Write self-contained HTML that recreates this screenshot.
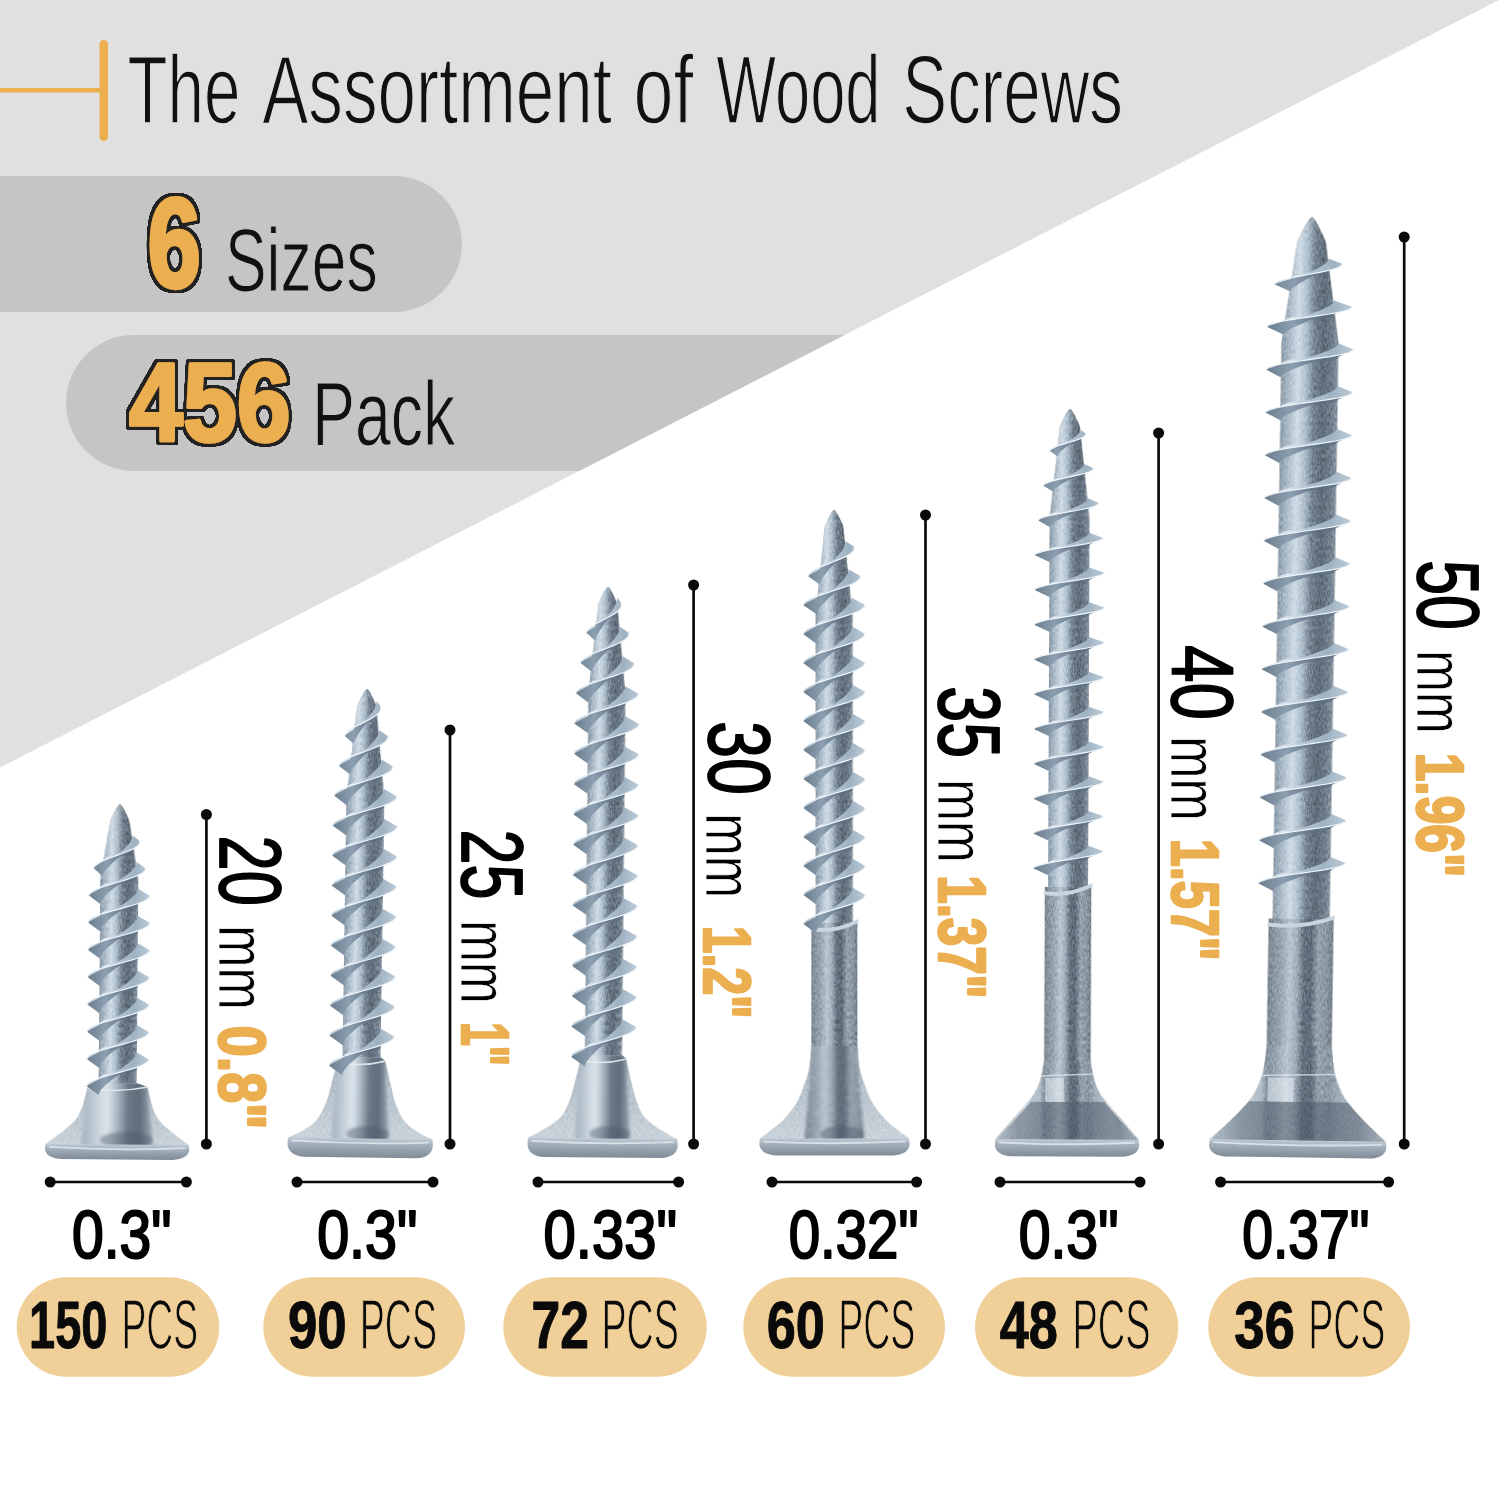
<!DOCTYPE html>
<html lang="en"><head><meta charset="utf-8"><title>The Assortment of Wood Screws</title>
<style>html,body{margin:0;padding:0;background:#fff}svg{display:block}</style></head>
<body>
<svg width="1500" height="1500" viewBox="0 0 1500 1500">
<defs>
<clipPath id="tri"><polygon points="0,0 1499,0 0,767.5"/></clipPath>
<filter id="ol1" x="-15%" y="-15%" width="130%" height="130%"><feMorphology in="SourceAlpha" operator="dilate" radius="3.73 2.8" result="d"/><feGaussianBlur in="d" stdDeviation="0.67 0.5" result="db"/><feComponentTransfer in="db" result="dc"><feFuncA type="linear" slope="6" intercept="-2.2"/></feComponentTransfer><feFlood flood-color="#222"/><feComposite in2="dc" operator="in" result="o"/><feMerge><feMergeNode in="o"/><feMergeNode in="SourceGraphic"/></feMerge></filter>
<filter id="ol2" x="-15%" y="-15%" width="130%" height="130%"><feMorphology in="SourceAlpha" operator="dilate" radius="3.23 2.8" result="d"/><feGaussianBlur in="d" stdDeviation="0.58 0.5" result="db"/><feComponentTransfer in="db" result="dc"><feFuncA type="linear" slope="6" intercept="-2.2"/></feComponentTransfer><feFlood flood-color="#222"/><feComposite in2="dc" operator="in" result="o"/><feMerge><feMergeNode in="o"/><feMergeNode in="SourceGraphic"/></feMerge></filter>
<filter id="soft" x="-20%" y="-20%" width="140%" height="140%"><feGaussianBlur stdDeviation="1.6"/></filter>
<filter id="grain" x="0" y="0" width="100%" height="100%" color-interpolation-filters="sRGB"><feTurbulence type="fractalNoise" baseFrequency="0.7 0.25" numOctaves="3" seed="7" result="n"/><feColorMatrix in="n" type="matrix" values="0.42 0 0 0 0.29  0.42 0 0 0 0.29  0.42 0 0 0 0.29  0 0 0 0 1" result="m"/><feBlend in="m" in2="SourceGraphic" mode="overlay" result="b"/><feComposite in="b" in2="SourceGraphic" operator="in"/></filter>
<linearGradient id="g1" x1="-19" y1="0" x2="19" y2="0" gradientUnits="userSpaceOnUse"><stop offset="0" stop-color="#8a9aa8"/><stop offset="0.1" stop-color="#a2b3c1"/><stop offset="0.3" stop-color="#d0dce6"/><stop offset="0.44" stop-color="#aebfcc"/><stop offset="0.58" stop-color="#74828f"/><stop offset="0.74" stop-color="#5f6c79"/><stop offset="0.9" stop-color="#707e8b"/><stop offset="1" stop-color="#8a98a5"/></linearGradient>
<clipPath id="c2"><polygon points="-19,-77 -25.05,-75 -28.68,-73.2 -30,-72 -30.33,-70.67 -30.78,-68.81 -31.31,-66.62 -31.89,-64.3 -32.47,-62.02 -33,-60 -33.47,-58.22 -33.91,-56.52 -34.34,-54.88 -34.81,-53.26 -35.36,-51.64 -36,-50 -36.71,-48.33 -37.46,-46.67 -38.28,-45 -39.2,-43.33 -40.27,-41.67 -41.5,-40 -42.93,-38.33 -44.54,-36.67 -46.28,-35 -48.13,-33.33 -50.05,-31.67 -52,-30 -54.09,-28.28 -56.37,-26.48 -58.72,-24.69 -61.02,-22.96 -63.15,-21.38 -65,-20 -66.59,-18.82 -68.04,-17.78 -69.31,-16.88 -70.41,-16.11 -71.31,-15.49 -72,-15 72,-15 71.31,-15.49 70.41,-16.11 69.31,-16.88 68.04,-17.78 66.59,-18.82 65,-20 63.15,-21.38 61.02,-22.96 58.72,-24.69 56.37,-26.48 54.09,-28.28 52,-30 50.05,-31.67 48.13,-33.33 46.28,-35 44.54,-36.67 42.93,-38.33 41.5,-40 40.27,-41.67 39.2,-43.33 38.28,-45 37.46,-46.67 36.71,-48.33 36,-50 35.36,-51.64 34.81,-53.26 34.34,-54.88 33.91,-56.52 33.47,-58.22 33,-60 32.47,-62.02 31.89,-64.3 31.31,-66.62 30.78,-68.81 30.33,-70.67 30,-72 28.68,-73.2 25.05,-75 19,-77"/></clipPath>
<linearGradient id="g3" x1="0" y1="0" x2="0" y2="1" gradientUnits="objectBoundingBox"><stop offset="0" stop-color="#a9b6c1"/><stop offset="0.6" stop-color="#bcc7d0"/><stop offset="1" stop-color="#cad3db"/></linearGradient>
<linearGradient id="g4" x1="-36.6" y1="0" x2="36.6" y2="0" gradientUnits="userSpaceOnUse"><stop offset="0" stop-color="#a2afbb"/><stop offset="0.14" stop-color="#b9c5cf"/><stop offset="0.36" stop-color="#dce5ec"/><stop offset="0.5" stop-color="#a9b7c3"/><stop offset="0.64" stop-color="#6a7886"/><stop offset="0.8" stop-color="#5f6d7b"/><stop offset="0.92" stop-color="#8795a2"/><stop offset="1" stop-color="#a3b0bc"/></linearGradient>
<linearGradient id="g5" x1="0" y1="0" x2="0" y2="1" gradientUnits="objectBoundingBox"><stop offset="0" stop-color="#bfcad3"/><stop offset="0.3" stop-color="#a4b1bd"/><stop offset="1" stop-color="#7f8c98"/></linearGradient>
<linearGradient id="g6" x1="-31" y1="0" x2="31" y2="0" gradientUnits="userSpaceOnUse"><stop offset="0" stop-color="#a6b9c8"/><stop offset="0.28" stop-color="#d9e5ee"/><stop offset="0.5" stop-color="#b2c4d2"/><stop offset="0.75" stop-color="#9fb2c2"/><stop offset="1" stop-color="#bccbd8"/></linearGradient>
<linearGradient id="g7" x1="-31" y1="0" x2="31" y2="0" gradientUnits="userSpaceOnUse"><stop offset="0" stop-color="#6b7d8d"/><stop offset="0.3" stop-color="#8c9fb0"/><stop offset="0.65" stop-color="#5b6c7d"/><stop offset="1" stop-color="#748696"/></linearGradient>
<linearGradient id="g8" x1="-19" y1="0" x2="19" y2="0" gradientUnits="userSpaceOnUse"><stop offset="0" stop-color="#8a9aa8"/><stop offset="0.1" stop-color="#a2b3c1"/><stop offset="0.3" stop-color="#d0dce6"/><stop offset="0.44" stop-color="#aebfcc"/><stop offset="0.58" stop-color="#74828f"/><stop offset="0.74" stop-color="#5f6c79"/><stop offset="0.9" stop-color="#707e8b"/><stop offset="1" stop-color="#8a98a5"/></linearGradient>
<clipPath id="c9"><polygon points="-19,-101 -21.75,-99 -23.4,-97.2 -24,-96 -24.48,-94.06 -25.15,-91.41 -25.94,-88.25 -26.8,-84.81 -27.67,-81.32 -28.5,-78 -29.29,-74.72 -30.07,-71.3 -30.88,-67.81 -31.7,-64.37 -32.57,-61.07 -33.5,-58 -34.48,-55.15 -35.5,-52.44 -36.56,-49.88 -37.67,-47.44 -38.81,-45.15 -40,-43 -41.2,-41.02 -42.41,-39.22 -43.66,-37.56 -44.98,-36 -46.42,-34.49 -48,-33 -49.76,-31.53 -51.69,-30.11 -53.72,-28.75 -55.81,-27.44 -57.92,-26.19 -60,-25 -62.2,-23.81 -64.59,-22.63 -67,-21.5 -69.24,-20.48 -71.13,-19.63 -72.5,-19 72.5,-19 71.13,-19.63 69.24,-20.48 67,-21.5 64.59,-22.63 62.2,-23.81 60,-25 57.92,-26.19 55.81,-27.44 53.72,-28.75 51.69,-30.11 49.76,-31.53 48,-33 46.42,-34.49 44.98,-36 43.66,-37.56 42.41,-39.22 41.2,-41.02 40,-43 38.81,-45.15 37.67,-47.44 36.56,-49.88 35.5,-52.44 34.48,-55.15 33.5,-58 32.57,-61.07 31.7,-64.37 30.88,-67.81 30.07,-71.3 29.29,-74.72 28.5,-78 27.67,-81.32 26.8,-84.81 25.94,-88.25 25.15,-91.41 24.48,-94.06 24,-96 23.4,-97.2 21.75,-99 19,-101"/></clipPath>
<linearGradient id="g10" x1="0" y1="0" x2="0" y2="1" gradientUnits="objectBoundingBox"><stop offset="0" stop-color="#a9b6c1"/><stop offset="0.6" stop-color="#bcc7d0"/><stop offset="1" stop-color="#cad3db"/></linearGradient>
<linearGradient id="g11" x1="-29.28" y1="0" x2="29.28" y2="0" gradientUnits="userSpaceOnUse"><stop offset="0" stop-color="#a2afbb"/><stop offset="0.14" stop-color="#b9c5cf"/><stop offset="0.36" stop-color="#dce5ec"/><stop offset="0.5" stop-color="#a9b7c3"/><stop offset="0.64" stop-color="#6a7886"/><stop offset="0.8" stop-color="#5f6d7b"/><stop offset="0.92" stop-color="#8795a2"/><stop offset="1" stop-color="#a3b0bc"/></linearGradient>
<linearGradient id="g12" x1="0" y1="0" x2="0" y2="1" gradientUnits="objectBoundingBox"><stop offset="0" stop-color="#bfcad3"/><stop offset="0.3" stop-color="#a4b1bd"/><stop offset="1" stop-color="#7f8c98"/></linearGradient>
<linearGradient id="g13" x1="-32.5" y1="0" x2="32.5" y2="0" gradientUnits="userSpaceOnUse"><stop offset="0" stop-color="#a6b9c8"/><stop offset="0.28" stop-color="#d9e5ee"/><stop offset="0.5" stop-color="#b2c4d2"/><stop offset="0.75" stop-color="#9fb2c2"/><stop offset="1" stop-color="#bccbd8"/></linearGradient>
<linearGradient id="g14" x1="-32.5" y1="0" x2="32.5" y2="0" gradientUnits="userSpaceOnUse"><stop offset="0" stop-color="#6b7d8d"/><stop offset="0.3" stop-color="#8c9fb0"/><stop offset="0.65" stop-color="#5b6c7d"/><stop offset="1" stop-color="#748696"/></linearGradient>
<linearGradient id="g15" x1="-18.5" y1="0" x2="18.5" y2="0" gradientUnits="userSpaceOnUse"><stop offset="0" stop-color="#8a9aa8"/><stop offset="0.1" stop-color="#a2b3c1"/><stop offset="0.3" stop-color="#d0dce6"/><stop offset="0.44" stop-color="#aebfcc"/><stop offset="0.58" stop-color="#74828f"/><stop offset="0.74" stop-color="#5f6c79"/><stop offset="0.9" stop-color="#707e8b"/><stop offset="1" stop-color="#8a98a5"/></linearGradient>
<clipPath id="c16"><polygon points="-18.5,-103 -20.98,-101 -22.46,-99.2 -23,-98 -23.48,-95.82 -24.13,-92.81 -24.91,-89.25 -25.76,-85.41 -26.64,-81.56 -27.5,-78 -28.34,-74.61 -29.2,-71.15 -30.09,-67.69 -31.02,-64.3 -31.98,-61.04 -33,-58 -34.03,-55.15 -35.07,-52.44 -36.16,-49.88 -37.31,-47.44 -38.58,-45.15 -40,-43 -41.58,-41.02 -43.3,-39.22 -45.12,-37.56 -47.04,-36 -49,-34.49 -51,-33 -53.07,-31.53 -55.26,-30.11 -57.5,-28.75 -59.74,-27.44 -61.93,-26.19 -64,-25 -66.08,-23.81 -68.22,-22.63 -70.31,-21.5 -72.22,-20.48 -73.83,-19.63 -75,-19 75,-19 73.83,-19.63 72.22,-20.48 70.31,-21.5 68.22,-22.63 66.08,-23.81 64,-25 61.93,-26.19 59.74,-27.44 57.5,-28.75 55.26,-30.11 53.07,-31.53 51,-33 49,-34.49 47.04,-36 45.12,-37.56 43.3,-39.22 41.58,-41.02 40,-43 38.58,-45.15 37.31,-47.44 36.16,-49.88 35.07,-52.44 34.03,-55.15 33,-58 31.98,-61.04 31.02,-64.3 30.09,-67.69 29.2,-71.15 28.34,-74.61 27.5,-78 26.64,-81.56 25.76,-85.41 24.91,-89.25 24.13,-92.81 23.48,-95.82 23,-98 22.46,-99.2 20.98,-101 18.5,-103"/></clipPath>
<linearGradient id="g17" x1="0" y1="0" x2="0" y2="1" gradientUnits="objectBoundingBox"><stop offset="0" stop-color="#a9b6c1"/><stop offset="0.6" stop-color="#bcc7d0"/><stop offset="1" stop-color="#cad3db"/></linearGradient>
<linearGradient id="g18" x1="-28.06" y1="0" x2="28.06" y2="0" gradientUnits="userSpaceOnUse"><stop offset="0" stop-color="#a2afbb"/><stop offset="0.14" stop-color="#b9c5cf"/><stop offset="0.36" stop-color="#dce5ec"/><stop offset="0.5" stop-color="#a9b7c3"/><stop offset="0.64" stop-color="#6a7886"/><stop offset="0.8" stop-color="#5f6d7b"/><stop offset="0.92" stop-color="#8795a2"/><stop offset="1" stop-color="#a3b0bc"/></linearGradient>
<linearGradient id="g19" x1="0" y1="0" x2="0" y2="1" gradientUnits="objectBoundingBox"><stop offset="0" stop-color="#bfcad3"/><stop offset="0.3" stop-color="#a4b1bd"/><stop offset="1" stop-color="#7f8c98"/></linearGradient>
<linearGradient id="g20" x1="-32.5" y1="0" x2="32.5" y2="0" gradientUnits="userSpaceOnUse"><stop offset="0" stop-color="#a6b9c8"/><stop offset="0.28" stop-color="#d9e5ee"/><stop offset="0.5" stop-color="#b2c4d2"/><stop offset="0.75" stop-color="#9fb2c2"/><stop offset="1" stop-color="#bccbd8"/></linearGradient>
<linearGradient id="g21" x1="-32.5" y1="0" x2="32.5" y2="0" gradientUnits="userSpaceOnUse"><stop offset="0" stop-color="#6b7d8d"/><stop offset="0.3" stop-color="#8c9fb0"/><stop offset="0.65" stop-color="#5b6c7d"/><stop offset="1" stop-color="#748696"/></linearGradient>
<linearGradient id="g22" x1="-18.5" y1="0" x2="18.5" y2="0" gradientUnits="userSpaceOnUse"><stop offset="0" stop-color="#8a9aa8"/><stop offset="0.1" stop-color="#a2b3c1"/><stop offset="0.3" stop-color="#d0dce6"/><stop offset="0.44" stop-color="#aebfcc"/><stop offset="0.58" stop-color="#74828f"/><stop offset="0.74" stop-color="#5f6c79"/><stop offset="0.9" stop-color="#707e8b"/><stop offset="1" stop-color="#8a98a5"/></linearGradient>
<linearGradient id="g23" x1="-23" y1="0" x2="23" y2="0" gradientUnits="userSpaceOnUse"><stop offset="0" stop-color="#77848f"/><stop offset="0.08" stop-color="#8795a1"/><stop offset="0.2" stop-color="#97a5b1"/><stop offset="0.34" stop-color="#bac6d0"/><stop offset="0.45" stop-color="#9eacb8"/><stop offset="0.55" stop-color="#64717e"/><stop offset="0.66" stop-color="#5f6c79"/><stop offset="0.77" stop-color="#95a2ae"/><stop offset="0.9" stop-color="#8a97a3"/><stop offset="1" stop-color="#727f8b"/></linearGradient>
<clipPath id="c24"><polygon points="-23,-110 -23.23,-107.34 -23.5,-103.63 -23.84,-99.25 -24.28,-94.59 -24.82,-90.05 -25.5,-86 -26.35,-82.38 -27.35,-78.85 -28.47,-75.44 -29.65,-72.15 -30.84,-69 -32,-66 -33.08,-63.21 -34.11,-60.63 -35.16,-58.19 -36.28,-55.81 -37.54,-53.44 -39,-51 -40.71,-48.44 -42.63,-45.81 -44.69,-43.19 -46.81,-40.63 -48.94,-38.21 -51,-36 -53,-34.03 -55,-32.26 -57,-30.62 -59,-29.07 -61,-27.55 -63,-26 -65.14,-24.34 -67.44,-22.59 -69.75,-20.88 -71.89,-19.3 -73.69,-17.97 -75,-17 75,-17 73.69,-17.97 71.89,-19.3 69.75,-20.88 67.44,-22.59 65.14,-24.34 63,-26 61,-27.55 59,-29.07 57,-30.62 55,-32.26 53,-34.03 51,-36 48.94,-38.21 46.81,-40.63 44.69,-43.19 42.63,-45.81 40.71,-48.44 39,-51 37.54,-53.44 36.28,-55.81 35.16,-58.19 34.11,-60.63 33.08,-63.21 32,-66 30.84,-69 29.65,-72.15 28.47,-75.44 27.35,-78.85 26.35,-82.38 25.5,-86 24.82,-90.05 24.28,-94.59 23.84,-99.25 23.5,-103.63 23.23,-107.34 23,-110"/></clipPath>
<linearGradient id="g25" x1="0" y1="0" x2="0" y2="1" gradientUnits="objectBoundingBox"><stop offset="0" stop-color="#a9b6c1"/><stop offset="0.6" stop-color="#bcc7d0"/><stop offset="1" stop-color="#cad3db"/></linearGradient>
<linearGradient id="g26" x1="-30.36" y1="0" x2="30.36" y2="0" gradientUnits="userSpaceOnUse"><stop offset="0" stop-color="#77848f"/><stop offset="0.08" stop-color="#8795a1"/><stop offset="0.2" stop-color="#97a5b1"/><stop offset="0.34" stop-color="#bac6d0"/><stop offset="0.45" stop-color="#9eacb8"/><stop offset="0.55" stop-color="#64717e"/><stop offset="0.66" stop-color="#5f6c79"/><stop offset="0.77" stop-color="#95a2ae"/><stop offset="0.9" stop-color="#8a97a3"/><stop offset="1" stop-color="#727f8b"/></linearGradient>
<linearGradient id="g27" x1="0" y1="0" x2="0" y2="1" gradientUnits="objectBoundingBox"><stop offset="0" stop-color="#bfcad3"/><stop offset="0.3" stop-color="#a4b1bd"/><stop offset="1" stop-color="#7f8c98"/></linearGradient>
<linearGradient id="g28" x1="-31" y1="0" x2="31" y2="0" gradientUnits="userSpaceOnUse"><stop offset="0" stop-color="#a6b9c8"/><stop offset="0.28" stop-color="#d9e5ee"/><stop offset="0.5" stop-color="#b2c4d2"/><stop offset="0.75" stop-color="#9fb2c2"/><stop offset="1" stop-color="#bccbd8"/></linearGradient>
<linearGradient id="g29" x1="-31" y1="0" x2="31" y2="0" gradientUnits="userSpaceOnUse"><stop offset="0" stop-color="#6b7d8d"/><stop offset="0.3" stop-color="#8c9fb0"/><stop offset="0.65" stop-color="#5b6c7d"/><stop offset="1" stop-color="#748696"/></linearGradient>
<linearGradient id="g30" x1="-20" y1="0" x2="20" y2="0" gradientUnits="userSpaceOnUse"><stop offset="0" stop-color="#8a9aa8"/><stop offset="0.1" stop-color="#a2b3c1"/><stop offset="0.3" stop-color="#d0dce6"/><stop offset="0.44" stop-color="#aebfcc"/><stop offset="0.58" stop-color="#74828f"/><stop offset="0.74" stop-color="#5f6c79"/><stop offset="0.9" stop-color="#707e8b"/><stop offset="1" stop-color="#8a98a5"/></linearGradient>
<linearGradient id="g31" x1="-23.25" y1="0" x2="23.25" y2="0" gradientUnits="userSpaceOnUse"><stop offset="0" stop-color="#77848f"/><stop offset="0.08" stop-color="#8795a1"/><stop offset="0.2" stop-color="#97a5b1"/><stop offset="0.34" stop-color="#bac6d0"/><stop offset="0.45" stop-color="#9eacb8"/><stop offset="0.55" stop-color="#64717e"/><stop offset="0.66" stop-color="#5f6c79"/><stop offset="0.77" stop-color="#95a2ae"/><stop offset="0.9" stop-color="#8a97a3"/><stop offset="1" stop-color="#727f8b"/></linearGradient>
<clipPath id="c32"><polygon points="-23.3,-95 -23.7,-92.95 -24.25,-90.04 -24.9,-86.62 -25.61,-83.07 -26.32,-79.75 -27,-77 -27.62,-74.87 -28.22,-73.07 -28.82,-71.5 -29.47,-70.04 -30.19,-68.57 -31,-67 -31.81,-65.45 -32.57,-64.04 -33.41,-62.62 -34.43,-61.07 -35.75,-59.25 -37.5,-57 -39.79,-54.25 -42.54,-51.07 -45.59,-47.62 -48.8,-44.04 -51.98,-40.45 -55,-37 -58.06,-33.44 -61.33,-29.59 -64.59,-25.75 -67.61,-22.19 -70.16,-19.18 -72,-17 72,-17 70.16,-19.18 67.61,-22.19 64.59,-25.75 61.33,-29.59 58.06,-33.44 55,-37 51.98,-40.45 48.8,-44.04 45.59,-47.62 42.54,-51.07 39.79,-54.25 37.5,-57 35.75,-59.25 34.43,-61.07 33.41,-62.62 32.57,-64.04 31.81,-65.45 31,-67 30.19,-68.57 29.47,-70.04 28.82,-71.5 28.22,-73.07 27.62,-74.87 27,-77 26.32,-79.75 25.61,-83.07 24.9,-86.62 24.25,-90.04 23.7,-92.95 23.3,-95"/></clipPath>
<linearGradient id="g33" x1="-72" y1="0" x2="72" y2="0" gradientUnits="userSpaceOnUse"><stop offset="0" stop-color="#b4c0ca"/><stop offset="0.19" stop-color="#ccd6de"/><stop offset="0.31" stop-color="#b0bcc7"/><stop offset="0.34" stop-color="#8795a1"/><stop offset="0.39" stop-color="#97a5b1"/><stop offset="0.44" stop-color="#bac6d0"/><stop offset="0.48" stop-color="#9eacb8"/><stop offset="0.52" stop-color="#64717e"/><stop offset="0.56" stop-color="#5f6c79"/><stop offset="0.6" stop-color="#95a2ae"/><stop offset="0.65" stop-color="#8a97a3"/><stop offset="0.7" stop-color="#a3b0bc"/><stop offset="0.82" stop-color="#c2ccd5"/><stop offset="1" stop-color="#a9b6c1"/></linearGradient>
<linearGradient id="d34" x1="0" y1="0" x2="1" y2="0"><stop offset="0" stop-color="#4e5b69" stop-opacity="0.05"/><stop offset="0.16" stop-color="#4e5b69" stop-opacity="0.5"/><stop offset="0.86" stop-color="#4e5b69" stop-opacity="0.55"/><stop offset="1" stop-color="#4e5b69" stop-opacity="0.1"/></linearGradient>
<linearGradient id="g35" x1="0" y1="0" x2="0" y2="1" gradientUnits="objectBoundingBox"><stop offset="0" stop-color="#bfcad3"/><stop offset="0.3" stop-color="#a4b1bd"/><stop offset="1" stop-color="#7f8c98"/></linearGradient>
<linearGradient id="g36" x1="-35" y1="0" x2="35" y2="0" gradientUnits="userSpaceOnUse"><stop offset="0" stop-color="#a6b9c8"/><stop offset="0.28" stop-color="#d9e5ee"/><stop offset="0.5" stop-color="#b2c4d2"/><stop offset="0.75" stop-color="#9fb2c2"/><stop offset="1" stop-color="#bccbd8"/></linearGradient>
<linearGradient id="g37" x1="-35" y1="0" x2="35" y2="0" gradientUnits="userSpaceOnUse"><stop offset="0" stop-color="#6b7d8d"/><stop offset="0.3" stop-color="#8c9fb0"/><stop offset="0.65" stop-color="#5b6c7d"/><stop offset="1" stop-color="#748696"/></linearGradient>
<linearGradient id="g38" x1="-28.5" y1="0" x2="28.5" y2="0" gradientUnits="userSpaceOnUse"><stop offset="0" stop-color="#8a9aa8"/><stop offset="0.1" stop-color="#a2b3c1"/><stop offset="0.3" stop-color="#d0dce6"/><stop offset="0.44" stop-color="#aebfcc"/><stop offset="0.58" stop-color="#74828f"/><stop offset="0.74" stop-color="#5f6c79"/><stop offset="0.9" stop-color="#707e8b"/><stop offset="1" stop-color="#8a98a5"/></linearGradient>
<linearGradient id="g39" x1="-32.5" y1="0" x2="32.5" y2="0" gradientUnits="userSpaceOnUse"><stop offset="0" stop-color="#77848f"/><stop offset="0.08" stop-color="#8795a1"/><stop offset="0.2" stop-color="#97a5b1"/><stop offset="0.34" stop-color="#bac6d0"/><stop offset="0.45" stop-color="#9eacb8"/><stop offset="0.55" stop-color="#64717e"/><stop offset="0.66" stop-color="#5f6c79"/><stop offset="0.77" stop-color="#95a2ae"/><stop offset="0.9" stop-color="#8a97a3"/><stop offset="1" stop-color="#727f8b"/></linearGradient>
<clipPath id="c40"><polygon points="-32.5,-112 -32.81,-109.28 -33.22,-105.44 -33.72,-100.94 -34.28,-96.22 -34.88,-91.76 -35.5,-88 -36.12,-84.98 -36.76,-82.33 -37.44,-79.94 -38.19,-77.67 -39.03,-75.4 -40,-73 -41.02,-70.56 -42.04,-68.19 -43.16,-65.81 -44.46,-63.37 -46.05,-60.79 -48,-58 -50.37,-54.97 -53.09,-51.74 -56.09,-48.38 -59.3,-44.93 -62.62,-41.45 -66,-38 -69.75,-34.31 -74,-30.3 -78.38,-26.25 -82.5,-22.48 -86,-19.3 -88.5,-17 88.5,-17 86,-19.3 82.5,-22.48 78.38,-26.25 74,-30.3 69.75,-34.31 66,-38 62.62,-41.45 59.3,-44.93 56.09,-48.38 53.09,-51.74 50.37,-54.97 48,-58 46.05,-60.79 44.46,-63.37 43.16,-65.81 42.04,-68.19 41.02,-70.56 40,-73 39.03,-75.4 38.19,-77.67 37.44,-79.94 36.76,-82.33 36.12,-84.98 35.5,-88 34.88,-91.76 34.28,-96.22 33.72,-100.94 33.22,-105.44 32.81,-109.28 32.5,-112"/></clipPath>
<linearGradient id="g41" x1="-88.5" y1="0" x2="88.5" y2="0" gradientUnits="userSpaceOnUse"><stop offset="0" stop-color="#b4c0ca"/><stop offset="0.15" stop-color="#ccd6de"/><stop offset="0.29" stop-color="#b0bcc7"/><stop offset="0.32" stop-color="#8795a1"/><stop offset="0.37" stop-color="#97a5b1"/><stop offset="0.43" stop-color="#bac6d0"/><stop offset="0.48" stop-color="#9eacb8"/><stop offset="0.52" stop-color="#64717e"/><stop offset="0.57" stop-color="#5f6c79"/><stop offset="0.61" stop-color="#95a2ae"/><stop offset="0.67" stop-color="#8a97a3"/><stop offset="0.73" stop-color="#a3b0bc"/><stop offset="0.87" stop-color="#c2ccd5"/><stop offset="1" stop-color="#a9b6c1"/></linearGradient>
<linearGradient id="d42" x1="0" y1="0" x2="1" y2="0"><stop offset="0" stop-color="#4e5b69" stop-opacity="0.05"/><stop offset="0.16" stop-color="#4e5b69" stop-opacity="0.5"/><stop offset="0.86" stop-color="#4e5b69" stop-opacity="0.55"/><stop offset="1" stop-color="#4e5b69" stop-opacity="0.1"/></linearGradient>
<linearGradient id="g43" x1="0" y1="0" x2="0" y2="1" gradientUnits="objectBoundingBox"><stop offset="0" stop-color="#bfcad3"/><stop offset="0.3" stop-color="#a4b1bd"/><stop offset="1" stop-color="#7f8c98"/></linearGradient>
<linearGradient id="g44" x1="-43.5" y1="0" x2="43.5" y2="0" gradientUnits="userSpaceOnUse"><stop offset="0" stop-color="#a6b9c8"/><stop offset="0.28" stop-color="#d9e5ee"/><stop offset="0.5" stop-color="#b2c4d2"/><stop offset="0.75" stop-color="#9fb2c2"/><stop offset="1" stop-color="#bccbd8"/></linearGradient>
<linearGradient id="g45" x1="-43.5" y1="0" x2="43.5" y2="0" gradientUnits="userSpaceOnUse"><stop offset="0" stop-color="#6b7d8d"/><stop offset="0.3" stop-color="#8c9fb0"/><stop offset="0.65" stop-color="#5b6c7d"/><stop offset="1" stop-color="#748696"/></linearGradient>
</defs>
<rect width="1500" height="1500" fill="#fff"/>
<polygon points="0,0 1499,0 0,767.5" fill="#e0e0e0"/>
<g clip-path="url(#tri)">
<rect x="-80" y="176" width="542" height="136" rx="68" fill="#c5c5c5"/>
<rect x="66" y="335" width="1000" height="136" rx="68" fill="#c5c5c5"/>
</g>
<rect x="0" y="88" width="102" height="4.5" fill="#ecaf50"/>
<rect x="99.5" y="40" width="8.5" height="101" rx="4.2" fill="#ecaf50"/>
<text transform="translate(127.53,123.1) scale(0.6793,1)" font-family='"Liberation Sans", sans-serif' font-size="96.41" font-weight="normal" fill="#111" stroke="#e0e0e0" stroke-width="1.6">The</text>
<text transform="translate(262.2,123.1) scale(0.7176,1)" font-family='"Liberation Sans", sans-serif' font-size="96.41" font-weight="normal" fill="#111" stroke="#e0e0e0" stroke-width="1.6">Assortment</text>
<text transform="translate(633.53,123.1) scale(0.7446,1)" font-family='"Liberation Sans", sans-serif' font-size="96.41" font-weight="normal" fill="#111" stroke="#e0e0e0" stroke-width="1.6">of</text>
<text transform="translate(716.26,123.1) scale(0.6571,1)" font-family='"Liberation Sans", sans-serif' font-size="96.41" font-weight="normal" fill="#111" stroke="#e0e0e0" stroke-width="1.6">Wood</text>
<text transform="translate(902.3,123.1) scale(0.6980,1)" font-family='"Liberation Sans", sans-serif' font-size="96.41" font-weight="normal" fill="#111" stroke="#e0e0e0" stroke-width="1.6">Screws</text>
<text transform="translate(147.65,287.3) scale(0.7508,1)" font-family='"Liberation Sans", sans-serif' font-size="127.03" font-weight="bold" fill="#ecaf50" stroke="#ecaf50" stroke-width="4.4" stroke-linejoin="round" filter="url(#ol1)">6</text>
<text transform="translate(224.97,290.6) scale(0.7005,1)" font-family='"Liberation Sans", sans-serif' font-size="89.13" font-weight="normal" fill="#111" stroke="#c5c5c5" stroke-width="1.2">Sizes</text>
<text transform="translate(128.98,440.5) scale(0.8664,1)" font-family='"Liberation Sans", sans-serif' font-size="111.96" font-weight="bold" fill="#ecaf50" stroke="#ecaf50" stroke-width="3.4" stroke-linejoin="round" filter="url(#ol2)">456</text>
<text transform="translate(311.89,444.9) scale(0.7127,1)" font-family='"Liberation Sans", sans-serif' font-size="90.58" font-weight="normal" fill="#111" stroke="#c5c5c5" stroke-width="1.2">Pack</text>
<g transform="translate(117,1160) rotate(0.48)">
<polygon points="-0.8,-356.01 -2.87,-353.01 -4.58,-350.01 -6.11,-347.01 -7.55,-344.01 -8.91,-341.01 -9.77,-338.01 -10.25,-335.01 -10.74,-332.01 -11.23,-329.01 -11.71,-326.01 -12.2,-323.01 -12.68,-320.01 -13.17,-317.01 -13.66,-314.01 -14.14,-311.01 -14.63,-308.01 -15.11,-305.01 -15.6,-302.01 -16.08,-299.01 -16.57,-296.01 -17.06,-293.01 -17.54,-290.01 -18.03,-287.01 -18.51,-284.01 -19,-281.01 -19,-278.01 -19,-275.01 -19,-272.01 -19,-269.01 -19,-266.01 -19,-263.01 -19,-260.01 -19,-257.01 -19,-254.01 -19,-251.01 -19,-248.01 -19,-245.01 -19,-242.01 -19,-239.01 -19,-236.01 -19,-233.01 -19,-230.01 -19,-227.01 -19,-224.01 -19,-221.01 -19,-218.01 -19,-215.01 -19,-212.01 -19,-209.01 -19,-206.01 -19,-203.01 -19,-200.01 -19,-197.01 -19,-194.01 -19,-191.01 -19,-188.01 -19,-185.01 -19,-182.01 -19,-179.01 -19,-176.01 -19,-173.01 -19,-170.01 -19,-167.01 -19,-164.01 -19,-161.01 -19,-158.01 -19,-155.01 -19,-152.01 -19,-149.01 -19,-146.01 -19,-143.01 -19,-140.01 -19,-137.01 -19,-134.01 -19,-131.01 -19,-128.01 -19,-125.01 -19,-122.01 -19,-119.01 -19,-116.01 -19,-113.01 -19,-110.01 -19,-107.01 -19,-104.01 -19,-101.01 -19,-98.01 -19,-95.01 -19,-92.01 -19,-89.01 -19,-86.01 -19,-83.01 -19,-80.01 -19,-77.01 -19,-74.01 -19,-71.01 -19,-68.01 -19,-65.01 -19,-61 19,-61 19,-65.01 19,-68.01 19,-71.01 19,-74.01 19,-77.01 19,-80.01 19,-83.01 19,-86.01 19,-89.01 19,-92.01 19,-95.01 19,-98.01 19,-101.01 19,-104.01 19,-107.01 19,-110.01 19,-113.01 19,-116.01 19,-119.01 19,-122.01 19,-125.01 19,-128.01 19,-131.01 19,-134.01 19,-137.01 19,-140.01 19,-143.01 19,-146.01 19,-149.01 19,-152.01 19,-155.01 19,-158.01 19,-161.01 19,-164.01 19,-167.01 19,-170.01 19,-173.01 19,-176.01 19,-179.01 19,-182.01 19,-185.01 19,-188.01 19,-191.01 19,-194.01 19,-197.01 19,-200.01 19,-203.01 19,-206.01 19,-209.01 19,-212.01 19,-215.01 19,-218.01 19,-221.01 19,-224.01 19,-227.01 19,-230.01 19,-233.01 19,-236.01 19,-239.01 19,-242.01 19,-245.01 19,-248.01 19,-251.01 19,-254.01 19,-257.01 19,-260.01 19,-263.01 19,-266.01 19,-269.01 19,-272.01 19,-275.01 19,-278.01 19,-281.01 18.51,-284.01 18.03,-287.01 17.54,-290.01 17.06,-293.01 16.57,-296.01 16.08,-299.01 15.6,-302.01 15.11,-305.01 14.63,-308.01 14.14,-311.01 13.66,-314.01 13.17,-317.01 12.68,-320.01 12.2,-323.01 11.71,-326.01 11.23,-329.01 10.74,-332.01 10.25,-335.01 9.77,-338.01 8.91,-341.01 7.55,-344.01 6.11,-347.01 4.58,-350.01 2.87,-353.01 0.8,-356.01" fill="url(#g1)" filter="url(#grain)"/>
<polygon points="-19,-77 -25.05,-75 -28.68,-73.2 -30,-72 -30.33,-70.67 -30.78,-68.81 -31.31,-66.62 -31.89,-64.3 -32.47,-62.02 -33,-60 -33.47,-58.22 -33.91,-56.52 -34.34,-54.88 -34.81,-53.26 -35.36,-51.64 -36,-50 -36.71,-48.33 -37.46,-46.67 -38.28,-45 -39.2,-43.33 -40.27,-41.67 -41.5,-40 -42.93,-38.33 -44.54,-36.67 -46.28,-35 -48.13,-33.33 -50.05,-31.67 -52,-30 -54.09,-28.28 -56.37,-26.48 -58.72,-24.69 -61.02,-22.96 -63.15,-21.38 -65,-20 -66.59,-18.82 -68.04,-17.78 -69.31,-16.88 -70.41,-16.11 -71.31,-15.49 -72,-15 72,-15 71.31,-15.49 70.41,-16.11 69.31,-16.88 68.04,-17.78 66.59,-18.82 65,-20 63.15,-21.38 61.02,-22.96 58.72,-24.69 56.37,-26.48 54.09,-28.28 52,-30 50.05,-31.67 48.13,-33.33 46.28,-35 44.54,-36.67 42.93,-38.33 41.5,-40 40.27,-41.67 39.2,-43.33 38.28,-45 37.46,-46.67 36.71,-48.33 36,-50 35.36,-51.64 34.81,-53.26 34.34,-54.88 33.91,-56.52 33.47,-58.22 33,-60 32.47,-62.02 31.89,-64.3 31.31,-66.62 30.78,-68.81 30.33,-70.67 30,-72 28.68,-73.2 25.05,-75 19,-77" fill="url(#g3)" filter="url(#grain)"/>
<g clip-path="url(#c2)"><g filter="url(#soft)"><path d="M-30,-78 L30,-78 C30,-45.9 36.6,-26 35.5,-12 L-35.5,-12 C-36.6,-26 -30,-45.9 -30,-78 Z" fill="url(#g4)"/></g><ellipse cx="9.15" cy="-20" rx="26.35" ry="8" fill="#4d5a67" opacity="0.45" filter="url(#soft)"/></g>
<path d="M-29,-71 Q0,-67 29,-73" fill="none" stroke="#e4ecf2" stroke-width="1.6" opacity="0.9"/>
<path d="M-71,-15.5 L71,-15.5 Q72.5,-14 72,-9 Q70,-1.5 56,-0.5 L-56,-0.5 Q-70,-1.5 -72,-9 Q-72.5,-14 -71,-15.5 Z" fill="url(#g5)"/>
<path d="M-68,-12.5 Q0,-9 68,-12.5" fill="none" stroke="#dde6ec" stroke-width="1.8" opacity="0.9"/>
<polygon points="20.23,-319.2 20.19,-317.25 19.08,-315.3 16.91,-313.35 13.76,-311.4 9.76,-309.45 5.1,-307.5 0,-305.55 -5.28,-303.6 -10.46,-301.65 -15.28,-299.7 -19.45,-297.75 -22.75,-295.8 -24.97,-293.85 -25.97,-291.9 -17.24,-283.87 -16.5,-286.03 -14.96,-288.5 -12.74,-291.24 -9.96,-294.17 -6.79,-297.24 -3.41,-300.33 0,-303.25 3.27,-304.28 6.25,-305.17 8.78,-306.12 10.76,-307.21 12.12,-308.53 12.8,-310.11 12.82,-311.98" fill="url(#g7)"/>
<polygon points="20.23,-319.2 20.19,-317.25 19.08,-315.3 16.91,-313.35 13.76,-311.4 9.76,-309.45 5.1,-307.5 0,-305.55 -5.28,-303.6 -10.46,-301.65 -15.28,-299.7 -19.45,-297.75 -22.75,-295.8 -24.97,-293.85 -25.97,-291.9 -17.24,-298.17 -16.5,-299.96 -14.96,-301.5 -12.74,-302.84 -9.96,-304.02 -6.79,-305.1 -3.41,-306.16 0,-307.34 3.27,-310.02 6.25,-312.79 8.78,-315.53 10.76,-318.14 12.12,-320.59 12.8,-322.83 12.82,-324.84" fill="url(#g6)"/>
<polyline points="20.23,-319.2 20.19,-317.25 19.08,-315.3 16.91,-313.35 13.76,-311.4 9.76,-309.45 5.1,-307.5 0,-305.55 -5.28,-303.6 -10.46,-301.65 -15.28,-299.7 -19.45,-297.75 -22.75,-295.8 -24.97,-293.85 -25.97,-291.9" fill="none" stroke="#f0f5f9" stroke-width="1.2"/>
<polygon points="25.97,-291.9 25.66,-289.95 24.03,-288 21.12,-286.05 17.05,-284.1 12.01,-282.15 6.23,-280.2 0,-278.25 -6.37,-276.3 -12.57,-274.35 -18.25,-272.4 -23.12,-270.45 -26.92,-268.5 -29.42,-266.55 -30.47,-264.6 -19,-255.94 -18.52,-258.1 -17.12,-260.6 -14.85,-263.39 -11.85,-266.4 -8.24,-269.55 -4.23,-272.73 0,-275.74 4.23,-276.67 8.16,-277.45 11.53,-278.29 14.22,-279.29 16.1,-280.52 17.11,-282.04 17.24,-283.87" fill="url(#g7)"/>
<polygon points="25.97,-291.9 25.66,-289.95 24.03,-288 21.12,-286.05 17.05,-284.1 12.01,-282.15 6.23,-280.2 0,-278.25 -6.37,-276.3 -12.57,-274.35 -18.25,-272.4 -23.12,-270.45 -26.92,-268.5 -29.42,-266.55 -30.47,-264.6 -19,-271.37 -18.52,-273.15 -17.12,-274.67 -14.85,-275.97 -11.85,-277.09 -8.24,-278.1 -4.23,-279.09 0,-280.21 4.23,-282.96 8.16,-285.82 11.53,-288.64 14.22,-291.33 16.1,-293.85 17.11,-296.13 17.24,-298.17" fill="url(#g6)"/>
<polyline points="25.97,-291.9 25.66,-289.95 24.03,-288 21.12,-286.05 17.05,-284.1 12.01,-282.15 6.23,-280.2 0,-278.25 -6.37,-276.3 -12.57,-274.35 -18.25,-272.4 -23.12,-270.45 -26.92,-268.5 -29.42,-266.55 -30.47,-264.6" fill="none" stroke="#f0f5f9" stroke-width="1.2"/>
<polygon points="30.47,-264.6 29.99,-262.65 27.93,-260.7 24.24,-258.75 19.33,-256.8 13.45,-254.85 6.9,-252.9 0,-250.95 -6.9,-249 -13.45,-247.05 -19.33,-245.1 -24.24,-243.15 -27.93,-241.2 -30.22,-239.25 -31,-237.3 -19,-228.56 -18.52,-230.69 -17.12,-233.16 -14.85,-235.92 -11.85,-238.93 -8.24,-242.09 -4.23,-245.29 0,-248.33 4.23,-249.19 8.24,-249.89 11.85,-250.63 14.85,-251.52 17.12,-252.66 18.52,-254.12 19,-255.94" fill="url(#g7)"/>
<polygon points="30.47,-264.6 29.99,-262.65 27.93,-260.7 24.24,-258.75 19.33,-256.8 13.45,-254.85 6.9,-252.9 0,-250.95 -6.9,-249 -13.45,-247.05 -19.33,-245.1 -24.24,-243.15 -27.93,-241.2 -30.22,-239.25 -31,-237.3 -19,-244.12 -18.52,-245.94 -17.12,-247.49 -14.85,-248.8 -11.85,-249.92 -8.24,-250.93 -4.23,-251.9 0,-253 4.23,-255.8 8.24,-258.73 11.85,-261.62 14.85,-264.4 17.12,-266.99 18.52,-269.31 19,-271.37" fill="url(#g6)"/>
<polyline points="30.47,-264.6 29.99,-262.65 27.93,-260.7 24.24,-258.75 19.33,-256.8 13.45,-254.85 6.9,-252.9 0,-250.95 -6.9,-249 -13.45,-247.05 -19.33,-245.1 -24.24,-243.15 -27.93,-241.2 -30.22,-239.25 -31,-237.3" fill="none" stroke="#f0f5f9" stroke-width="1.2"/>
<polygon points="31,-237.3 30.22,-235.35 27.93,-233.4 24.24,-231.45 19.33,-229.5 13.45,-227.55 6.9,-225.6 0,-223.65 -6.9,-221.7 -13.45,-219.75 -19.33,-217.8 -24.24,-215.85 -27.93,-213.9 -30.22,-211.95 -31,-210 -19,-201.26 -18.52,-203.39 -17.12,-205.86 -14.85,-208.62 -11.85,-211.63 -8.24,-214.79 -4.23,-217.99 0,-221.03 4.23,-221.89 8.24,-222.59 11.85,-223.33 14.85,-224.22 17.12,-225.36 18.52,-226.79 19,-228.56" fill="url(#g7)"/>
<polygon points="31,-237.3 30.22,-235.35 27.93,-233.4 24.24,-231.45 19.33,-229.5 13.45,-227.55 6.9,-225.6 0,-223.65 -6.9,-221.7 -13.45,-219.75 -19.33,-217.8 -24.24,-215.85 -27.93,-213.9 -30.22,-211.95 -31,-210 -19,-216.82 -18.52,-218.64 -17.12,-220.19 -14.85,-221.5 -11.85,-222.62 -8.24,-223.63 -4.23,-224.6 0,-225.7 4.23,-228.5 8.24,-231.43 11.85,-234.32 14.85,-237.1 17.12,-239.69 18.52,-242.04 19,-244.12" fill="url(#g6)"/>
<polyline points="31,-237.3 30.22,-235.35 27.93,-233.4 24.24,-231.45 19.33,-229.5 13.45,-227.55 6.9,-225.6 0,-223.65 -6.9,-221.7 -13.45,-219.75 -19.33,-217.8 -24.24,-215.85 -27.93,-213.9 -30.22,-211.95 -31,-210" fill="none" stroke="#f0f5f9" stroke-width="1.2"/>
<polygon points="31,-210 30.22,-208.05 27.93,-206.1 24.24,-204.15 19.33,-202.2 13.45,-200.25 6.9,-198.3 0,-196.35 -6.9,-194.4 -13.45,-192.45 -19.33,-190.5 -24.24,-188.55 -27.93,-186.6 -30.22,-184.65 -31,-182.7 -19,-173.96 -18.52,-176.09 -17.12,-178.56 -14.85,-181.32 -11.85,-184.33 -8.24,-187.49 -4.23,-190.69 0,-193.73 4.23,-194.59 8.24,-195.29 11.85,-196.03 14.85,-196.92 17.12,-198.06 18.52,-199.49 19,-201.26" fill="url(#g7)"/>
<polygon points="31,-210 30.22,-208.05 27.93,-206.1 24.24,-204.15 19.33,-202.2 13.45,-200.25 6.9,-198.3 0,-196.35 -6.9,-194.4 -13.45,-192.45 -19.33,-190.5 -24.24,-188.55 -27.93,-186.6 -30.22,-184.65 -31,-182.7 -19,-189.52 -18.52,-191.34 -17.12,-192.89 -14.85,-194.2 -11.85,-195.32 -8.24,-196.33 -4.23,-197.3 0,-198.4 4.23,-201.2 8.24,-204.13 11.85,-207.02 14.85,-209.8 17.12,-212.39 18.52,-214.74 19,-216.82" fill="url(#g6)"/>
<polyline points="31,-210 30.22,-208.05 27.93,-206.1 24.24,-204.15 19.33,-202.2 13.45,-200.25 6.9,-198.3 0,-196.35 -6.9,-194.4 -13.45,-192.45 -19.33,-190.5 -24.24,-188.55 -27.93,-186.6 -30.22,-184.65 -31,-182.7" fill="none" stroke="#f0f5f9" stroke-width="1.2"/>
<polygon points="31,-182.7 30.22,-180.75 27.93,-178.8 24.24,-176.85 19.33,-174.9 13.45,-172.95 6.9,-171 0,-169.05 -6.9,-167.1 -13.45,-165.15 -19.33,-163.2 -24.24,-161.25 -27.93,-159.3 -30.22,-157.35 -31,-155.4 -19,-146.66 -18.52,-148.79 -17.12,-151.26 -14.85,-154.02 -11.85,-157.03 -8.24,-160.19 -4.23,-163.39 0,-166.43 4.23,-167.29 8.24,-167.99 11.85,-168.73 14.85,-169.62 17.12,-170.76 18.52,-172.19 19,-173.96" fill="url(#g7)"/>
<polygon points="31,-182.7 30.22,-180.75 27.93,-178.8 24.24,-176.85 19.33,-174.9 13.45,-172.95 6.9,-171 0,-169.05 -6.9,-167.1 -13.45,-165.15 -19.33,-163.2 -24.24,-161.25 -27.93,-159.3 -30.22,-157.35 -31,-155.4 -19,-162.22 -18.52,-164.04 -17.12,-165.59 -14.85,-166.9 -11.85,-168.02 -8.24,-169.03 -4.23,-170 0,-171.1 4.23,-173.9 8.24,-176.83 11.85,-179.72 14.85,-182.5 17.12,-185.09 18.52,-187.44 19,-189.53" fill="url(#g6)"/>
<polyline points="31,-182.7 30.22,-180.75 27.93,-178.8 24.24,-176.85 19.33,-174.9 13.45,-172.95 6.9,-171 0,-169.05 -6.9,-167.1 -13.45,-165.15 -19.33,-163.2 -24.24,-161.25 -27.93,-159.3 -30.22,-157.35 -31,-155.4" fill="none" stroke="#f0f5f9" stroke-width="1.2"/>
<polygon points="31,-155.4 30.22,-153.45 27.93,-151.5 24.24,-149.55 19.33,-147.6 13.45,-145.65 6.9,-143.7 0,-141.75 -6.9,-139.8 -13.45,-137.85 -19.33,-135.9 -24.24,-133.95 -27.93,-132 -30.22,-130.05 -31,-128.1 -19,-119.36 -18.52,-121.49 -17.12,-123.96 -14.85,-126.72 -11.85,-129.73 -8.24,-132.89 -4.23,-136.09 0,-139.13 4.23,-139.99 8.24,-140.69 11.85,-141.43 14.85,-142.32 17.12,-143.46 18.52,-144.89 19,-146.66" fill="url(#g7)"/>
<polygon points="31,-155.4 30.22,-153.45 27.93,-151.5 24.24,-149.55 19.33,-147.6 13.45,-145.65 6.9,-143.7 0,-141.75 -6.9,-139.8 -13.45,-137.85 -19.33,-135.9 -24.24,-133.95 -27.93,-132 -30.22,-130.05 -31,-128.1 -19,-134.92 -18.52,-136.74 -17.12,-138.29 -14.85,-139.6 -11.85,-140.72 -8.24,-141.73 -4.23,-142.7 0,-143.8 4.23,-146.6 8.24,-149.53 11.85,-152.42 14.85,-155.2 17.12,-157.79 18.52,-160.14 19,-162.22" fill="url(#g6)"/>
<polyline points="31,-155.4 30.22,-153.45 27.93,-151.5 24.24,-149.55 19.33,-147.6 13.45,-145.65 6.9,-143.7 0,-141.75 -6.9,-139.8 -13.45,-137.85 -19.33,-135.9 -24.24,-133.95 -27.93,-132 -30.22,-130.05 -31,-128.1" fill="none" stroke="#f0f5f9" stroke-width="1.2"/>
<polygon points="31,-128.1 30.22,-126.15 27.93,-124.2 24.24,-122.25 19.33,-120.3 13.45,-118.35 6.9,-116.4 0,-114.45 -6.9,-112.5 -13.45,-110.55 -19.33,-108.6 -24.24,-106.65 -27.93,-104.7 -30.22,-102.75 -31,-100.8 -19,-92.06 -18.52,-94.19 -17.12,-96.66 -14.85,-99.42 -11.85,-102.43 -8.24,-105.59 -4.23,-108.79 0,-111.83 4.23,-112.69 8.24,-113.39 11.85,-114.13 14.85,-115.02 17.12,-116.16 18.52,-117.59 19,-119.36" fill="url(#g7)"/>
<polygon points="31,-128.1 30.22,-126.15 27.93,-124.2 24.24,-122.25 19.33,-120.3 13.45,-118.35 6.9,-116.4 0,-114.45 -6.9,-112.5 -13.45,-110.55 -19.33,-108.6 -24.24,-106.65 -27.93,-104.7 -30.22,-102.75 -31,-100.8 -19,-107.63 -18.52,-109.44 -17.12,-110.99 -14.85,-112.3 -11.85,-113.42 -8.24,-114.43 -4.23,-115.4 0,-116.5 4.23,-119.3 8.24,-122.23 11.85,-125.12 14.85,-127.9 17.12,-130.49 18.52,-132.84 19,-134.92" fill="url(#g6)"/>
<polyline points="31,-128.1 30.22,-126.15 27.93,-124.2 24.24,-122.25 19.33,-120.3 13.45,-118.35 6.9,-116.4 0,-114.45 -6.9,-112.5 -13.45,-110.55 -19.33,-108.6 -24.24,-106.65 -27.93,-104.7 -30.22,-102.75 -31,-100.8" fill="none" stroke="#f0f5f9" stroke-width="1.2"/>
<polygon points="31,-100.8 30.22,-98.85 27.93,-96.9 24.24,-94.95 19.33,-93 13.45,-91.05 6.9,-89.1 0,-87.15 -6.9,-85.2 -13.45,-83.25 -19.33,-81.3 -24.24,-79.35 -27.93,-77.4 -30.22,-75.45 -31,-73.5 -19,-64.76 -18.52,-66.89 -17.12,-69.36 -14.85,-72.12 -11.85,-75.13 -8.24,-78.29 -4.23,-81.49 0,-84.53 4.23,-85.39 8.24,-86.09 11.85,-86.83 14.85,-87.72 17.12,-88.86 18.52,-90.29 19,-92.06" fill="url(#g7)"/>
<polygon points="31,-100.8 30.22,-98.85 27.93,-96.9 24.24,-94.95 19.33,-93 13.45,-91.05 6.9,-89.1 0,-87.15 -6.9,-85.2 -13.45,-83.25 -19.33,-81.3 -24.24,-79.35 -27.93,-77.4 -30.22,-75.45 -31,-73.5 -19,-80.33 -18.52,-82.14 -17.12,-83.69 -14.85,-85 -11.85,-86.12 -8.24,-87.13 -4.23,-88.1 0,-89.2 4.23,-92 8.24,-94.93 11.85,-97.82 14.85,-100.6 17.12,-103.19 18.52,-105.54 19,-107.63" fill="url(#g6)"/>
<polyline points="31,-100.8 30.22,-98.85 27.93,-96.9 24.24,-94.95 19.33,-93 13.45,-91.05 6.9,-89.1 0,-87.15 -6.9,-85.2 -13.45,-83.25 -19.33,-81.3 -24.24,-79.35 -27.93,-77.4 -30.22,-75.45 -31,-73.5" fill="none" stroke="#f0f5f9" stroke-width="1.2"/>
</g>
<g transform="translate(360,1158) rotate(0.86)">
<polygon points="-0.8,-469.05 -2.87,-466.05 -4.58,-463.05 -6.11,-460.05 -7.55,-457.05 -8.91,-454.05 -9.67,-451.05 -9.97,-448.05 -10.28,-445.05 -10.58,-442.05 -10.89,-439.05 -11.19,-436.05 -11.49,-433.05 -11.8,-430.05 -12.1,-427.05 -12.41,-424.05 -12.71,-421.05 -13.02,-418.05 -13.32,-415.05 -13.62,-412.05 -13.93,-409.05 -14.23,-406.05 -14.54,-403.05 -14.84,-400.05 -15.15,-397.05 -15.45,-394.05 -15.75,-391.05 -16.06,-388.05 -16.36,-385.05 -16.67,-382.05 -16.97,-379.05 -17.28,-376.05 -17.58,-373.05 -17.88,-370.05 -18.19,-367.05 -18.49,-364.05 -18.8,-361.05 -19,-358.05 -19,-355.05 -19,-352.05 -19,-349.05 -19,-346.05 -19,-343.05 -19,-340.05 -19,-337.05 -19,-334.05 -19,-331.05 -19,-328.05 -19,-325.05 -19,-322.05 -19,-319.05 -19,-316.05 -19,-313.05 -19,-310.05 -19,-307.05 -19,-304.05 -19,-301.05 -19,-298.05 -19,-295.05 -19,-292.05 -19,-289.05 -19,-286.05 -19,-283.05 -19,-280.05 -19,-277.05 -19,-274.05 -19,-271.05 -19,-268.05 -19,-265.05 -19,-262.05 -19,-259.05 -19,-256.05 -19,-253.05 -19,-250.05 -19,-247.05 -19,-244.05 -19,-241.05 -19,-238.05 -19,-235.05 -19,-232.05 -19,-229.05 -19,-226.05 -19,-223.05 -19,-220.05 -19,-217.05 -19,-214.05 -19,-211.05 -19,-208.05 -19,-205.05 -19,-202.05 -19,-199.05 -19,-196.05 -19,-193.05 -19,-190.05 -19,-187.05 -19,-184.05 -19,-181.05 -19,-178.05 -19,-175.05 -19,-172.05 -19,-169.05 -19,-166.05 -19,-163.05 -19,-160.05 -19,-157.05 -19,-154.05 -19,-151.05 -19,-148.05 -19,-145.05 -19,-142.05 -19,-139.05 -19,-136.05 -19,-133.05 -19,-130.05 -19,-127.05 -19,-124.05 -19,-121.05 -19,-118.05 -19,-115.05 -19,-112.05 -19,-109.05 -19,-106.05 -19,-103.05 -19,-100.05 -19,-97.05 -19,-94.05 -19,-90 19,-90 19,-94.05 19,-97.05 19,-100.05 19,-103.05 19,-106.05 19,-109.05 19,-112.05 19,-115.05 19,-118.05 19,-121.05 19,-124.05 19,-127.05 19,-130.05 19,-133.05 19,-136.05 19,-139.05 19,-142.05 19,-145.05 19,-148.05 19,-151.05 19,-154.05 19,-157.05 19,-160.05 19,-163.05 19,-166.05 19,-169.05 19,-172.05 19,-175.05 19,-178.05 19,-181.05 19,-184.05 19,-187.05 19,-190.05 19,-193.05 19,-196.05 19,-199.05 19,-202.05 19,-205.05 19,-208.05 19,-211.05 19,-214.05 19,-217.05 19,-220.05 19,-223.05 19,-226.05 19,-229.05 19,-232.05 19,-235.05 19,-238.05 19,-241.05 19,-244.05 19,-247.05 19,-250.05 19,-253.05 19,-256.05 19,-259.05 19,-262.05 19,-265.05 19,-268.05 19,-271.05 19,-274.05 19,-277.05 19,-280.05 19,-283.05 19,-286.05 19,-289.05 19,-292.05 19,-295.05 19,-298.05 19,-301.05 19,-304.05 19,-307.05 19,-310.05 19,-313.05 19,-316.05 19,-319.05 19,-322.05 19,-325.05 19,-328.05 19,-331.05 19,-334.05 19,-337.05 19,-340.05 19,-343.05 19,-346.05 19,-349.05 19,-352.05 19,-355.05 19,-358.05 18.8,-361.05 18.49,-364.05 18.19,-367.05 17.88,-370.05 17.58,-373.05 17.28,-376.05 16.97,-379.05 16.67,-382.05 16.36,-385.05 16.06,-388.05 15.75,-391.05 15.45,-394.05 15.15,-397.05 14.84,-400.05 14.54,-403.05 14.23,-406.05 13.93,-409.05 13.62,-412.05 13.32,-415.05 13.02,-418.05 12.71,-421.05 12.41,-424.05 12.1,-427.05 11.8,-430.05 11.49,-433.05 11.19,-436.05 10.89,-439.05 10.58,-442.05 10.28,-445.05 9.97,-448.05 9.67,-451.05 8.91,-454.05 7.55,-457.05 6.11,-460.05 4.58,-463.05 2.87,-466.05 0.8,-469.05" fill="url(#g8)" filter="url(#grain)"/>
<polygon points="-19,-101 -21.75,-99 -23.4,-97.2 -24,-96 -24.48,-94.06 -25.15,-91.41 -25.94,-88.25 -26.8,-84.81 -27.67,-81.32 -28.5,-78 -29.29,-74.72 -30.07,-71.3 -30.88,-67.81 -31.7,-64.37 -32.57,-61.07 -33.5,-58 -34.48,-55.15 -35.5,-52.44 -36.56,-49.88 -37.67,-47.44 -38.81,-45.15 -40,-43 -41.2,-41.02 -42.41,-39.22 -43.66,-37.56 -44.98,-36 -46.42,-34.49 -48,-33 -49.76,-31.53 -51.69,-30.11 -53.72,-28.75 -55.81,-27.44 -57.92,-26.19 -60,-25 -62.2,-23.81 -64.59,-22.63 -67,-21.5 -69.24,-20.48 -71.13,-19.63 -72.5,-19 72.5,-19 71.13,-19.63 69.24,-20.48 67,-21.5 64.59,-22.63 62.2,-23.81 60,-25 57.92,-26.19 55.81,-27.44 53.72,-28.75 51.69,-30.11 49.76,-31.53 48,-33 46.42,-34.49 44.98,-36 43.66,-37.56 42.41,-39.22 41.2,-41.02 40,-43 38.81,-45.15 37.67,-47.44 36.56,-49.88 35.5,-52.44 34.48,-55.15 33.5,-58 32.57,-61.07 31.7,-64.37 30.88,-67.81 30.07,-71.3 29.29,-74.72 28.5,-78 27.67,-81.32 26.8,-84.81 25.94,-88.25 25.15,-91.41 24.48,-94.06 24,-96 23.4,-97.2 21.75,-99 19,-101" fill="url(#g10)" filter="url(#grain)"/>
<g clip-path="url(#c9)"><g filter="url(#soft)"><path d="M-24,-102 L24,-102 C24,-60.9 29.28,-30 28.4,-16 L-28.4,-16 C-29.28,-30 -24,-60.9 -24,-102 Z" fill="url(#g11)"/></g><ellipse cx="7.32" cy="-24" rx="21.08" ry="8" fill="#4d5a67" opacity="0.45" filter="url(#soft)"/></g>
<path d="M-23,-95 Q0,-91 23,-97" fill="none" stroke="#e4ecf2" stroke-width="1.6" opacity="0.9"/>
<path d="M-71.5,-19.5 L71.5,-19.5 Q73,-18 72.5,-11.4 Q70.5,-1.5 56.5,-0.5 L-56.5,-0.5 Q-70.5,-1.5 -72.5,-11.4 Q-73,-18 -71.5,-19.5 Z" fill="url(#g12)"/>
<path d="M-68.5,-16.5 Q0,-13 68.5,-16.5" fill="none" stroke="#dde6ec" stroke-width="1.8" opacity="0.9"/>
<polygon points="13.77,-452 14.16,-449.86 13.72,-447.71 12.43,-445.57 10.31,-443.43 7.44,-441.29 3.95,-439.14 0,-437 -4.19,-434.86 -8.4,-432.71 -12.38,-430.57 -15.91,-428.43 -18.76,-426.29 -20.75,-424.14 -21.74,-422 -12.62,-413.99 -12.09,-416.36 -10.97,-419.03 -9.35,-421.97 -7.32,-425.11 -5,-428.36 -2.52,-431.64 0,-434.75 2.42,-435.99 4.62,-437.12 6.51,-438.31 7.99,-439.66 9.02,-441.22 9.54,-443.05 9.57,-445.17" fill="url(#g14)"/>
<polygon points="13.77,-452 14.16,-449.86 13.72,-447.71 12.43,-445.57 10.31,-443.43 7.44,-441.29 3.95,-439.14 0,-437 -4.19,-434.86 -8.4,-432.71 -12.38,-430.57 -15.91,-428.43 -18.76,-426.29 -20.75,-424.14 -21.74,-422 -12.62,-428.26 -12.09,-430.22 -10.97,-431.95 -9.35,-433.47 -7.32,-434.84 -5,-436.11 -2.52,-437.37 0,-438.76 2.42,-441.6 4.62,-444.54 6.51,-447.43 7.99,-450.19 9.02,-452.79 9.54,-455.17 9.57,-457.34" fill="url(#g13)"/>
<polyline points="13.77,-452 14.16,-449.86 13.72,-447.71 12.43,-445.57 10.31,-443.43 7.44,-441.29 3.95,-439.14 0,-437 -4.19,-434.86 -8.4,-432.71 -12.38,-430.57 -15.91,-428.43 -18.76,-426.29 -20.75,-424.14 -21.74,-422" fill="none" stroke="#f0f5f9" stroke-width="1.2"/>
<polygon points="21.74,-422 21.62,-419.86 20.37,-417.71 18,-415.57 14.61,-413.43 10.34,-411.29 5.39,-409.14 0,-407 -5.56,-404.86 -11.01,-402.71 -16.05,-400.57 -20.4,-398.43 -23.83,-396.29 -26.13,-394.14 -27.14,-392 -15.66,-383.19 -15.05,-385.56 -13.72,-388.27 -11.73,-391.27 -9.22,-394.49 -6.32,-397.86 -3.19,-401.25 0,-404.47 3.1,-405.59 5.95,-406.56 8.41,-407.59 10.37,-408.79 11.76,-410.22 12.51,-411.94 12.62,-413.99" fill="url(#g14)"/>
<polygon points="21.74,-422 21.62,-419.86 20.37,-417.71 18,-415.57 14.61,-413.43 10.34,-411.29 5.39,-409.14 0,-407 -5.56,-404.86 -11.01,-402.71 -16.05,-400.57 -20.4,-398.43 -23.83,-396.29 -26.13,-394.14 -27.14,-392 -15.66,-398.88 -15.05,-400.85 -13.72,-402.55 -11.73,-404.02 -9.22,-405.32 -6.32,-406.51 -3.19,-407.67 0,-408.98 3.1,-411.92 5.95,-414.98 8.41,-417.99 10.37,-420.87 11.76,-423.57 12.51,-426.04 12.62,-428.26" fill="url(#g13)"/>
<polyline points="21.74,-422 21.62,-419.86 20.37,-417.71 18,-415.57 14.61,-413.43 10.34,-411.29 5.39,-409.14 0,-407 -5.56,-404.86 -11.01,-402.71 -16.05,-400.57 -20.4,-398.43 -23.83,-396.29 -26.13,-394.14 -27.14,-392" fill="none" stroke="#f0f5f9" stroke-width="1.2"/>
<polygon points="27.14,-392 26.79,-389.86 25.06,-387.71 22,-385.57 17.74,-383.43 12.49,-381.29 6.47,-379.14 0,-377 -6.61,-374.86 -13.02,-372.71 -18.9,-370.57 -23.93,-368.43 -27.84,-366.29 -30.4,-364.14 -31.47,-362 -18.7,-352.55 -18.02,-354.93 -16.46,-357.66 -14.11,-360.72 -11.12,-364.02 -7.64,-367.47 -3.87,-370.96 0,-374.26 3.77,-375.28 7.27,-376.15 10.3,-377.07 12.75,-378.16 14.5,-379.51 15.48,-381.18 15.66,-383.19" fill="url(#g14)"/>
<polygon points="27.14,-392 26.79,-389.86 25.06,-387.71 22,-385.57 17.74,-383.43 12.49,-381.29 6.47,-379.14 0,-377 -6.61,-374.86 -13.02,-372.71 -18.9,-370.57 -23.93,-368.43 -27.84,-366.29 -30.4,-364.14 -31.47,-362 -18.7,-369.38 -18.02,-371.34 -16.46,-373.02 -14.11,-374.45 -11.12,-375.69 -7.64,-376.81 -3.87,-377.9 0,-379.14 3.77,-382.16 7.27,-385.3 10.3,-388.4 12.75,-391.36 14.5,-394.12 15.48,-396.64 15.66,-398.88" fill="url(#g13)"/>
<polyline points="27.14,-392 26.79,-389.86 25.06,-387.71 22,-385.57 17.74,-383.43 12.49,-381.29 6.47,-379.14 0,-377 -6.61,-374.86 -13.02,-372.71 -18.9,-370.57 -23.93,-368.43 -27.84,-366.29 -30.4,-364.14 -31.47,-362" fill="none" stroke="#f0f5f9" stroke-width="1.2"/>
<polygon points="31.47,-362 30.96,-359.86 28.86,-357.71 25.26,-355.57 20.26,-353.43 14.1,-351.29 7.23,-349.14 0,-347 -7.23,-344.86 -14.1,-342.71 -20.26,-340.57 -25.41,-338.43 -29.28,-336.29 -31.69,-334.14 -32.5,-332 -19,-322.4 -18.52,-324.74 -17.12,-327.45 -14.85,-330.49 -11.85,-333.79 -8.24,-337.26 -4.23,-340.78 0,-344.12 4.23,-345.07 8.24,-345.83 11.85,-346.65 14.85,-347.65 17.12,-348.94 18.44,-350.56 18.7,-352.55" fill="url(#g14)"/>
<polygon points="31.47,-362 30.96,-359.86 28.86,-357.71 25.26,-355.57 20.26,-353.43 14.1,-351.29 7.23,-349.14 0,-347 -7.23,-344.86 -14.1,-342.71 -20.26,-340.57 -25.41,-338.43 -29.28,-336.29 -31.69,-334.14 -32.5,-332 -19,-339.5 -18.52,-341.49 -17.12,-343.19 -14.85,-344.63 -11.85,-345.87 -8.24,-346.97 -4.23,-348.04 0,-349.25 4.23,-352.33 8.24,-355.55 11.85,-358.73 14.85,-361.76 17.12,-364.57 18.44,-367.12 18.7,-369.38" fill="url(#g13)"/>
<polyline points="31.47,-362 30.96,-359.86 28.86,-357.71 25.26,-355.57 20.26,-353.43 14.1,-351.29 7.23,-349.14 0,-347 -7.23,-344.86 -14.1,-342.71 -20.26,-340.57 -25.41,-338.43 -29.28,-336.29 -31.69,-334.14 -32.5,-332" fill="none" stroke="#f0f5f9" stroke-width="1.2"/>
<polygon points="32.5,-332 31.69,-329.86 29.28,-327.71 25.41,-325.57 20.26,-323.43 14.1,-321.29 7.23,-319.14 0,-317 -7.23,-314.86 -14.1,-312.71 -20.26,-310.57 -25.41,-308.43 -29.28,-306.29 -31.69,-304.14 -32.5,-302 -19,-292.4 -18.52,-294.74 -17.12,-297.45 -14.85,-300.49 -11.85,-303.79 -8.24,-307.26 -4.23,-310.78 0,-314.12 4.23,-315.07 8.24,-315.83 11.85,-316.65 14.85,-317.63 17.12,-318.87 18.52,-320.45 19,-322.4" fill="url(#g14)"/>
<polygon points="32.5,-332 31.69,-329.86 29.28,-327.71 25.41,-325.57 20.26,-323.43 14.1,-321.29 7.23,-319.14 0,-317 -7.23,-314.86 -14.1,-312.71 -20.26,-310.57 -25.41,-308.43 -29.28,-306.29 -31.69,-304.14 -32.5,-302 -19,-309.5 -18.52,-311.49 -17.12,-313.19 -14.85,-314.63 -11.85,-315.87 -8.24,-316.97 -4.23,-318.04 0,-319.25 4.23,-322.33 8.24,-325.55 11.85,-328.73 14.85,-331.78 17.12,-334.62 18.52,-337.21 19,-339.5" fill="url(#g13)"/>
<polyline points="32.5,-332 31.69,-329.86 29.28,-327.71 25.41,-325.57 20.26,-323.43 14.1,-321.29 7.23,-319.14 0,-317 -7.23,-314.86 -14.1,-312.71 -20.26,-310.57 -25.41,-308.43 -29.28,-306.29 -31.69,-304.14 -32.5,-302" fill="none" stroke="#f0f5f9" stroke-width="1.2"/>
<polygon points="32.5,-302 31.69,-299.86 29.28,-297.71 25.41,-295.57 20.26,-293.43 14.1,-291.29 7.23,-289.14 0,-287 -7.23,-284.86 -14.1,-282.71 -20.26,-280.57 -25.41,-278.43 -29.28,-276.29 -31.69,-274.14 -32.5,-272 -19,-262.4 -18.52,-264.74 -17.12,-267.45 -14.85,-270.49 -11.85,-273.79 -8.24,-277.26 -4.23,-280.78 0,-284.12 4.23,-285.07 8.24,-285.83 11.85,-286.65 14.85,-287.63 17.12,-288.87 18.52,-290.45 19,-292.4" fill="url(#g14)"/>
<polygon points="32.5,-302 31.69,-299.86 29.28,-297.71 25.41,-295.57 20.26,-293.43 14.1,-291.29 7.23,-289.14 0,-287 -7.23,-284.86 -14.1,-282.71 -20.26,-280.57 -25.41,-278.43 -29.28,-276.29 -31.69,-274.14 -32.5,-272 -19,-279.5 -18.52,-281.49 -17.12,-283.19 -14.85,-284.63 -11.85,-285.87 -8.24,-286.97 -4.23,-288.04 0,-289.25 4.23,-292.33 8.24,-295.55 11.85,-298.73 14.85,-301.78 17.12,-304.62 18.52,-307.21 19,-309.5" fill="url(#g13)"/>
<polyline points="32.5,-302 31.69,-299.86 29.28,-297.71 25.41,-295.57 20.26,-293.43 14.1,-291.29 7.23,-289.14 0,-287 -7.23,-284.86 -14.1,-282.71 -20.26,-280.57 -25.41,-278.43 -29.28,-276.29 -31.69,-274.14 -32.5,-272" fill="none" stroke="#f0f5f9" stroke-width="1.2"/>
<polygon points="32.5,-272 31.69,-269.86 29.28,-267.71 25.41,-265.57 20.26,-263.43 14.1,-261.29 7.23,-259.14 0,-257 -7.23,-254.86 -14.1,-252.71 -20.26,-250.57 -25.41,-248.43 -29.28,-246.29 -31.69,-244.14 -32.5,-242 -19,-232.4 -18.52,-234.74 -17.12,-237.45 -14.85,-240.49 -11.85,-243.79 -8.24,-247.26 -4.23,-250.78 0,-254.12 4.23,-255.07 8.24,-255.83 11.85,-256.65 14.85,-257.63 17.12,-258.87 18.52,-260.45 19,-262.4" fill="url(#g14)"/>
<polygon points="32.5,-272 31.69,-269.86 29.28,-267.71 25.41,-265.57 20.26,-263.43 14.1,-261.29 7.23,-259.14 0,-257 -7.23,-254.86 -14.1,-252.71 -20.26,-250.57 -25.41,-248.43 -29.28,-246.29 -31.69,-244.14 -32.5,-242 -19,-249.5 -18.52,-251.49 -17.12,-253.19 -14.85,-254.63 -11.85,-255.87 -8.24,-256.97 -4.23,-258.04 0,-259.25 4.23,-262.33 8.24,-265.55 11.85,-268.73 14.85,-271.78 17.12,-274.62 18.52,-277.21 19,-279.5" fill="url(#g13)"/>
<polyline points="32.5,-272 31.69,-269.86 29.28,-267.71 25.41,-265.57 20.26,-263.43 14.1,-261.29 7.23,-259.14 0,-257 -7.23,-254.86 -14.1,-252.71 -20.26,-250.57 -25.41,-248.43 -29.28,-246.29 -31.69,-244.14 -32.5,-242" fill="none" stroke="#f0f5f9" stroke-width="1.2"/>
<polygon points="32.5,-242 31.69,-239.86 29.28,-237.71 25.41,-235.57 20.26,-233.43 14.1,-231.29 7.23,-229.14 0,-227 -7.23,-224.86 -14.1,-222.71 -20.26,-220.57 -25.41,-218.43 -29.28,-216.29 -31.69,-214.14 -32.5,-212 -19,-202.4 -18.52,-204.74 -17.12,-207.45 -14.85,-210.49 -11.85,-213.79 -8.24,-217.26 -4.23,-220.78 0,-224.12 4.23,-225.07 8.24,-225.83 11.85,-226.65 14.85,-227.63 17.12,-228.87 18.52,-230.45 19,-232.4" fill="url(#g14)"/>
<polygon points="32.5,-242 31.69,-239.86 29.28,-237.71 25.41,-235.57 20.26,-233.43 14.1,-231.29 7.23,-229.14 0,-227 -7.23,-224.86 -14.1,-222.71 -20.26,-220.57 -25.41,-218.43 -29.28,-216.29 -31.69,-214.14 -32.5,-212 -19,-219.5 -18.52,-221.49 -17.12,-223.19 -14.85,-224.63 -11.85,-225.87 -8.24,-226.97 -4.23,-228.04 0,-229.25 4.23,-232.33 8.24,-235.55 11.85,-238.73 14.85,-241.78 17.12,-244.62 18.52,-247.21 19,-249.5" fill="url(#g13)"/>
<polyline points="32.5,-242 31.69,-239.86 29.28,-237.71 25.41,-235.57 20.26,-233.43 14.1,-231.29 7.23,-229.14 0,-227 -7.23,-224.86 -14.1,-222.71 -20.26,-220.57 -25.41,-218.43 -29.28,-216.29 -31.69,-214.14 -32.5,-212" fill="none" stroke="#f0f5f9" stroke-width="1.2"/>
<polygon points="32.5,-212 31.69,-209.86 29.28,-207.71 25.41,-205.57 20.26,-203.43 14.1,-201.29 7.23,-199.14 0,-197 -7.23,-194.86 -14.1,-192.71 -20.26,-190.57 -25.41,-188.43 -29.28,-186.29 -31.69,-184.14 -32.5,-182 -19,-172.4 -18.52,-174.74 -17.12,-177.45 -14.85,-180.49 -11.85,-183.79 -8.24,-187.26 -4.23,-190.78 0,-194.12 4.23,-195.07 8.24,-195.83 11.85,-196.65 14.85,-197.63 17.12,-198.87 18.52,-200.45 19,-202.4" fill="url(#g14)"/>
<polygon points="32.5,-212 31.69,-209.86 29.28,-207.71 25.41,-205.57 20.26,-203.43 14.1,-201.29 7.23,-199.14 0,-197 -7.23,-194.86 -14.1,-192.71 -20.26,-190.57 -25.41,-188.43 -29.28,-186.29 -31.69,-184.14 -32.5,-182 -19,-189.5 -18.52,-191.49 -17.12,-193.19 -14.85,-194.63 -11.85,-195.87 -8.24,-196.97 -4.23,-198.04 0,-199.25 4.23,-202.33 8.24,-205.55 11.85,-208.73 14.85,-211.78 17.12,-214.62 18.52,-217.21 19,-219.5" fill="url(#g13)"/>
<polyline points="32.5,-212 31.69,-209.86 29.28,-207.71 25.41,-205.57 20.26,-203.43 14.1,-201.29 7.23,-199.14 0,-197 -7.23,-194.86 -14.1,-192.71 -20.26,-190.57 -25.41,-188.43 -29.28,-186.29 -31.69,-184.14 -32.5,-182" fill="none" stroke="#f0f5f9" stroke-width="1.2"/>
<polygon points="32.5,-182 31.69,-179.86 29.28,-177.71 25.41,-175.57 20.26,-173.43 14.1,-171.29 7.23,-169.14 0,-167 -7.23,-164.86 -14.1,-162.71 -20.26,-160.57 -25.41,-158.43 -29.28,-156.29 -31.69,-154.14 -32.5,-152 -19,-142.4 -18.52,-144.74 -17.12,-147.45 -14.85,-150.49 -11.85,-153.79 -8.24,-157.26 -4.23,-160.78 0,-164.12 4.23,-165.07 8.24,-165.83 11.85,-166.65 14.85,-167.63 17.12,-168.87 18.52,-170.45 19,-172.4" fill="url(#g14)"/>
<polygon points="32.5,-182 31.69,-179.86 29.28,-177.71 25.41,-175.57 20.26,-173.43 14.1,-171.29 7.23,-169.14 0,-167 -7.23,-164.86 -14.1,-162.71 -20.26,-160.57 -25.41,-158.43 -29.28,-156.29 -31.69,-154.14 -32.5,-152 -19,-159.5 -18.52,-161.49 -17.12,-163.19 -14.85,-164.63 -11.85,-165.87 -8.24,-166.97 -4.23,-168.04 0,-169.25 4.23,-172.33 8.24,-175.55 11.85,-178.73 14.85,-181.78 17.12,-184.62 18.52,-187.21 19,-189.5" fill="url(#g13)"/>
<polyline points="32.5,-182 31.69,-179.86 29.28,-177.71 25.41,-175.57 20.26,-173.43 14.1,-171.29 7.23,-169.14 0,-167 -7.23,-164.86 -14.1,-162.71 -20.26,-160.57 -25.41,-158.43 -29.28,-156.29 -31.69,-154.14 -32.5,-152" fill="none" stroke="#f0f5f9" stroke-width="1.2"/>
<polygon points="32.5,-152 31.69,-149.86 29.28,-147.71 25.41,-145.57 20.26,-143.43 14.1,-141.29 7.23,-139.14 0,-137 -7.23,-134.86 -14.1,-132.71 -20.26,-130.57 -25.41,-128.43 -29.28,-126.29 -31.69,-124.14 -32.5,-122 -19,-112.4 -18.52,-114.74 -17.12,-117.45 -14.85,-120.49 -11.85,-123.79 -8.24,-127.26 -4.23,-130.78 0,-134.12 4.23,-135.07 8.24,-135.83 11.85,-136.65 14.85,-137.63 17.12,-138.87 18.52,-140.45 19,-142.4" fill="url(#g14)"/>
<polygon points="32.5,-152 31.69,-149.86 29.28,-147.71 25.41,-145.57 20.26,-143.43 14.1,-141.29 7.23,-139.14 0,-137 -7.23,-134.86 -14.1,-132.71 -20.26,-130.57 -25.41,-128.43 -29.28,-126.29 -31.69,-124.14 -32.5,-122 -19,-129.5 -18.52,-131.49 -17.12,-133.19 -14.85,-134.63 -11.85,-135.87 -8.24,-136.97 -4.23,-138.04 0,-139.25 4.23,-142.33 8.24,-145.55 11.85,-148.73 14.85,-151.78 17.12,-154.62 18.52,-157.21 19,-159.5" fill="url(#g13)"/>
<polyline points="32.5,-152 31.69,-149.86 29.28,-147.71 25.41,-145.57 20.26,-143.43 14.1,-141.29 7.23,-139.14 0,-137 -7.23,-134.86 -14.1,-132.71 -20.26,-130.57 -25.41,-128.43 -29.28,-126.29 -31.69,-124.14 -32.5,-122" fill="none" stroke="#f0f5f9" stroke-width="1.2"/>
<polygon points="32.5,-122 31.69,-119.86 29.28,-117.71 25.41,-115.57 20.26,-113.43 14.1,-111.29 7.23,-109.14 0,-107 -7.23,-104.86 -14.1,-102.71 -20.26,-100.57 -25.41,-98.43 -29.28,-96.29 -31.69,-94.14 -32.5,-92 -19,-82.4 -18.52,-84.74 -17.12,-87.45 -14.85,-90.49 -11.85,-93.79 -8.24,-97.26 -4.23,-100.78 0,-104.12 4.23,-105.07 8.24,-105.83 11.85,-106.65 14.85,-107.63 17.12,-108.87 18.52,-110.45 19,-112.4" fill="url(#g14)"/>
<polygon points="32.5,-122 31.69,-119.86 29.28,-117.71 25.41,-115.57 20.26,-113.43 14.1,-111.29 7.23,-109.14 0,-107 -7.23,-104.86 -14.1,-102.71 -20.26,-100.57 -25.41,-98.43 -29.28,-96.29 -31.69,-94.14 -32.5,-92 -19,-99.5 -18.52,-101.49 -17.12,-103.19 -14.85,-104.63 -11.85,-105.87 -8.24,-106.97 -4.23,-108.04 0,-109.25 4.23,-112.33 8.24,-115.55 11.85,-118.73 14.85,-121.78 17.12,-124.62 18.52,-127.21 19,-129.5" fill="url(#g13)"/>
<polyline points="32.5,-122 31.69,-119.86 29.28,-117.71 25.41,-115.57 20.26,-113.43 14.1,-111.29 7.23,-109.14 0,-107 -7.23,-104.86 -14.1,-102.71 -20.26,-100.57 -25.41,-98.43 -29.28,-96.29 -31.69,-94.14 -32.5,-92" fill="none" stroke="#f0f5f9" stroke-width="1.2"/>
</g>
<g transform="translate(602.5,1158) rotate(0.55)">
<polygon points="-0.8,-571.03 -2.84,-568.03 -4.54,-565.03 -6.07,-562.03 -7.49,-559.03 -8.85,-556.03 -9.47,-553.03 -9.78,-550.03 -10.09,-547.03 -10.4,-544.03 -10.71,-541.03 -11.02,-538.03 -11.34,-535.03 -11.65,-532.03 -11.96,-529.03 -12.27,-526.03 -12.58,-523.03 -12.89,-520.03 -13.2,-517.03 -13.52,-514.03 -13.83,-511.03 -14.14,-508.03 -14.45,-505.03 -14.76,-502.03 -15.07,-499.03 -15.39,-496.03 -15.7,-493.03 -16.01,-490.03 -16.32,-487.03 -16.63,-484.03 -16.94,-481.03 -17.25,-478.03 -17.57,-475.03 -17.88,-472.03 -18.19,-469.03 -18.5,-466.03 -18.5,-463.03 -18.5,-460.03 -18.5,-457.03 -18.5,-454.03 -18.5,-451.03 -18.5,-448.03 -18.5,-445.03 -18.5,-442.03 -18.5,-439.03 -18.5,-436.03 -18.5,-433.03 -18.5,-430.03 -18.5,-427.03 -18.5,-424.03 -18.5,-421.03 -18.5,-418.03 -18.5,-415.03 -18.5,-412.03 -18.5,-409.03 -18.5,-406.03 -18.5,-403.03 -18.5,-400.03 -18.5,-397.03 -18.5,-394.03 -18.5,-391.03 -18.5,-388.03 -18.5,-385.03 -18.5,-382.03 -18.5,-379.03 -18.5,-376.03 -18.5,-373.03 -18.5,-370.03 -18.5,-367.03 -18.5,-364.03 -18.5,-361.03 -18.5,-358.03 -18.5,-355.03 -18.5,-352.03 -18.5,-349.03 -18.5,-346.03 -18.5,-343.03 -18.5,-340.03 -18.5,-337.03 -18.5,-334.03 -18.5,-331.03 -18.5,-328.03 -18.5,-325.03 -18.5,-322.03 -18.5,-319.03 -18.5,-316.03 -18.5,-313.03 -18.5,-310.03 -18.5,-307.03 -18.5,-304.03 -18.5,-301.03 -18.5,-298.03 -18.5,-295.03 -18.5,-292.03 -18.5,-289.03 -18.5,-286.03 -18.5,-283.03 -18.5,-280.03 -18.5,-277.03 -18.5,-274.03 -18.5,-271.03 -18.5,-268.03 -18.5,-265.03 -18.5,-262.03 -18.5,-259.03 -18.5,-256.03 -18.5,-253.03 -18.5,-250.03 -18.5,-247.03 -18.5,-244.03 -18.5,-241.03 -18.5,-238.03 -18.5,-235.03 -18.5,-232.03 -18.5,-229.03 -18.5,-226.03 -18.5,-223.03 -18.5,-220.03 -18.5,-217.03 -18.5,-214.03 -18.5,-211.03 -18.5,-208.03 -18.5,-205.03 -18.5,-202.03 -18.5,-199.03 -18.5,-196.03 -18.5,-193.03 -18.5,-190.03 -18.5,-187.03 -18.5,-184.03 -18.5,-181.03 -18.5,-178.03 -18.5,-175.03 -18.5,-172.03 -18.5,-169.03 -18.5,-166.03 -18.5,-163.03 -18.5,-160.03 -18.5,-157.03 -18.5,-154.03 -18.5,-151.03 -18.5,-148.03 -18.5,-145.03 -18.5,-142.03 -18.5,-139.03 -18.5,-136.03 -18.5,-133.03 -18.5,-130.03 -18.5,-127.03 -18.5,-124.03 -18.5,-121.03 -18.5,-118.03 -18.5,-115.03 -18.5,-112.03 -18.5,-109.03 -18.5,-106.03 -18.5,-103.03 -18.5,-100.03 -18.5,-97.03 -18.5,-94.03 -18.5,-92 18.5,-92 18.5,-94.03 18.5,-97.03 18.5,-100.03 18.5,-103.03 18.5,-106.03 18.5,-109.03 18.5,-112.03 18.5,-115.03 18.5,-118.03 18.5,-121.03 18.5,-124.03 18.5,-127.03 18.5,-130.03 18.5,-133.03 18.5,-136.03 18.5,-139.03 18.5,-142.03 18.5,-145.03 18.5,-148.03 18.5,-151.03 18.5,-154.03 18.5,-157.03 18.5,-160.03 18.5,-163.03 18.5,-166.03 18.5,-169.03 18.5,-172.03 18.5,-175.03 18.5,-178.03 18.5,-181.03 18.5,-184.03 18.5,-187.03 18.5,-190.03 18.5,-193.03 18.5,-196.03 18.5,-199.03 18.5,-202.03 18.5,-205.03 18.5,-208.03 18.5,-211.03 18.5,-214.03 18.5,-217.03 18.5,-220.03 18.5,-223.03 18.5,-226.03 18.5,-229.03 18.5,-232.03 18.5,-235.03 18.5,-238.03 18.5,-241.03 18.5,-244.03 18.5,-247.03 18.5,-250.03 18.5,-253.03 18.5,-256.03 18.5,-259.03 18.5,-262.03 18.5,-265.03 18.5,-268.03 18.5,-271.03 18.5,-274.03 18.5,-277.03 18.5,-280.03 18.5,-283.03 18.5,-286.03 18.5,-289.03 18.5,-292.03 18.5,-295.03 18.5,-298.03 18.5,-301.03 18.5,-304.03 18.5,-307.03 18.5,-310.03 18.5,-313.03 18.5,-316.03 18.5,-319.03 18.5,-322.03 18.5,-325.03 18.5,-328.03 18.5,-331.03 18.5,-334.03 18.5,-337.03 18.5,-340.03 18.5,-343.03 18.5,-346.03 18.5,-349.03 18.5,-352.03 18.5,-355.03 18.5,-358.03 18.5,-361.03 18.5,-364.03 18.5,-367.03 18.5,-370.03 18.5,-373.03 18.5,-376.03 18.5,-379.03 18.5,-382.03 18.5,-385.03 18.5,-388.03 18.5,-391.03 18.5,-394.03 18.5,-397.03 18.5,-400.03 18.5,-403.03 18.5,-406.03 18.5,-409.03 18.5,-412.03 18.5,-415.03 18.5,-418.03 18.5,-421.03 18.5,-424.03 18.5,-427.03 18.5,-430.03 18.5,-433.03 18.5,-436.03 18.5,-439.03 18.5,-442.03 18.5,-445.03 18.5,-448.03 18.5,-451.03 18.5,-454.03 18.5,-457.03 18.5,-460.03 18.5,-463.03 18.5,-466.03 18.19,-469.03 17.88,-472.03 17.57,-475.03 17.25,-478.03 16.94,-481.03 16.63,-484.03 16.32,-487.03 16.01,-490.03 15.7,-493.03 15.39,-496.03 15.07,-499.03 14.76,-502.03 14.45,-505.03 14.14,-508.03 13.83,-511.03 13.52,-514.03 13.2,-517.03 12.89,-520.03 12.58,-523.03 12.27,-526.03 11.96,-529.03 11.65,-532.03 11.34,-535.03 11.02,-538.03 10.71,-541.03 10.4,-544.03 10.09,-547.03 9.78,-550.03 9.47,-553.03 8.85,-556.03 7.49,-559.03 6.07,-562.03 4.54,-565.03 2.84,-568.03 0.8,-571.03" fill="url(#g15)" filter="url(#grain)"/>
<polygon points="-18.5,-103 -20.98,-101 -22.46,-99.2 -23,-98 -23.48,-95.82 -24.13,-92.81 -24.91,-89.25 -25.76,-85.41 -26.64,-81.56 -27.5,-78 -28.34,-74.61 -29.2,-71.15 -30.09,-67.69 -31.02,-64.3 -31.98,-61.04 -33,-58 -34.03,-55.15 -35.07,-52.44 -36.16,-49.88 -37.31,-47.44 -38.58,-45.15 -40,-43 -41.58,-41.02 -43.3,-39.22 -45.12,-37.56 -47.04,-36 -49,-34.49 -51,-33 -53.07,-31.53 -55.26,-30.11 -57.5,-28.75 -59.74,-27.44 -61.93,-26.19 -64,-25 -66.08,-23.81 -68.22,-22.63 -70.31,-21.5 -72.22,-20.48 -73.83,-19.63 -75,-19 75,-19 73.83,-19.63 72.22,-20.48 70.31,-21.5 68.22,-22.63 66.08,-23.81 64,-25 61.93,-26.19 59.74,-27.44 57.5,-28.75 55.26,-30.11 53.07,-31.53 51,-33 49,-34.49 47.04,-36 45.12,-37.56 43.3,-39.22 41.58,-41.02 40,-43 38.58,-45.15 37.31,-47.44 36.16,-49.88 35.07,-52.44 34.03,-55.15 33,-58 31.98,-61.04 31.02,-64.3 30.09,-67.69 29.2,-71.15 28.34,-74.61 27.5,-78 26.64,-81.56 25.76,-85.41 24.91,-89.25 24.13,-92.81 23.48,-95.82 23,-98 22.46,-99.2 20.98,-101 18.5,-103" fill="url(#g17)" filter="url(#grain)"/>
<g clip-path="url(#c16)"><g filter="url(#soft)"><path d="M-23,-104 L23,-104 C23,-62 28.06,-30 27.22,-16 L-27.22,-16 C-28.06,-30 -23,-62 -23,-104 Z" fill="url(#g18)"/></g><ellipse cx="7.01" cy="-24" rx="20.2" ry="8" fill="#4d5a67" opacity="0.45" filter="url(#soft)"/></g>
<path d="M-22,-97 Q0,-93 22,-99" fill="none" stroke="#e4ecf2" stroke-width="1.6" opacity="0.9"/>
<path d="M-74,-19.5 L74,-19.5 Q75.5,-18 75,-11.4 Q73,-1.5 59,-0.5 L-59,-0.5 Q-73,-1.5 -75,-11.4 Q-75.5,-18 -74,-19.5 Z" fill="url(#g19)"/>
<path d="M-71,-16.5 Q0,-13 71,-16.5" fill="none" stroke="#dde6ec" stroke-width="1.8" opacity="0.9"/>
<polygon points="13.2,-555.5 13.65,-553.34 13.28,-551.17 12.08,-549.01 10.05,-546.84 7.27,-544.68 3.86,-542.51 0,-540.35 -4.11,-538.19 -8.26,-536.02 -12.19,-533.86 -15.68,-531.69 -18.51,-529.53 -20.49,-527.36 -21.48,-525.2 -12.36,-517.15 -11.83,-519.54 -10.73,-522.24 -9.13,-525.21 -7.14,-528.37 -4.87,-531.66 -2.45,-534.96 0,-538.09 2.35,-539.36 4.48,-540.51 6.3,-541.72 7.73,-543.09 8.7,-544.68 9.2,-546.54 9.08,-548.68" fill="url(#g21)"/>
<polygon points="13.2,-555.5 13.65,-553.34 13.28,-551.17 12.08,-549.01 10.05,-546.84 7.27,-544.68 3.86,-542.51 0,-540.35 -4.11,-538.19 -8.26,-536.02 -12.19,-533.86 -15.68,-531.69 -18.51,-529.53 -20.49,-527.36 -21.48,-525.2 -12.36,-531.49 -11.83,-533.48 -10.73,-535.22 -9.13,-536.76 -7.14,-538.14 -4.87,-539.43 -2.45,-540.71 0,-542.11 2.35,-544.98 4.48,-547.94 6.3,-550.85 7.73,-553.63 8.7,-556.24 9.2,-558.65 9.08,-560.83" fill="url(#g20)"/>
<polyline points="13.2,-555.5 13.65,-553.34 13.28,-551.17 12.08,-549.01 10.05,-546.84 7.27,-544.68 3.86,-542.51 0,-540.35 -4.11,-538.19 -8.26,-536.02 -12.19,-533.86 -15.68,-531.69 -18.51,-529.53 -20.49,-527.36 -21.48,-525.2" fill="none" stroke="#f0f5f9" stroke-width="1.2"/>
<polygon points="21.48,-525.2 21.38,-523.04 20.16,-520.87 17.83,-518.71 14.48,-516.54 10.25,-514.38 5.35,-512.21 0,-510.05 -5.52,-507.89 -10.93,-505.72 -15.94,-503.56 -20.27,-501.39 -23.69,-499.23 -25.98,-497.06 -26.99,-494.9 -15.5,-486.03 -14.89,-488.42 -13.56,-491.15 -11.59,-494.18 -9.1,-497.44 -6.24,-500.83 -3.15,-504.26 0,-507.5 3.05,-508.64 5.85,-509.62 8.26,-510.67 10.19,-511.88 11.54,-513.33 12.27,-515.08 12.36,-517.15" fill="url(#g21)"/>
<polygon points="21.48,-525.2 21.38,-523.04 20.16,-520.87 17.83,-518.71 14.48,-516.54 10.25,-514.38 5.35,-512.21 0,-510.05 -5.52,-507.89 -10.93,-505.72 -15.94,-503.56 -20.27,-501.39 -23.69,-499.23 -25.98,-497.06 -26.99,-494.9 -15.5,-501.83 -14.89,-503.82 -13.56,-505.54 -11.59,-507.03 -9.1,-508.34 -6.24,-509.54 -3.15,-510.72 0,-512.04 3.05,-515.01 5.85,-518.09 8.26,-521.13 10.19,-524.04 11.54,-526.76 12.27,-529.25 12.36,-531.49" fill="url(#g20)"/>
<polyline points="21.48,-525.2 21.38,-523.04 20.16,-520.87 17.83,-518.71 14.48,-516.54 10.25,-514.38 5.35,-512.21 0,-510.05 -5.52,-507.89 -10.93,-505.72 -15.94,-503.56 -20.27,-501.39 -23.69,-499.23 -25.98,-497.06 -26.99,-494.9" fill="none" stroke="#f0f5f9" stroke-width="1.2"/>
<polygon points="26.99,-494.9 26.65,-492.74 24.93,-490.57 21.9,-488.41 17.67,-486.24 12.43,-484.08 6.45,-481.91 0,-479.75 -6.59,-477.59 -12.98,-475.42 -18.84,-473.26 -23.85,-471.09 -27.75,-468.93 -30.32,-466.76 -31.39,-464.6 -18.5,-455.07 -17.96,-457.47 -16.4,-460.23 -14.05,-463.32 -11.07,-466.65 -7.6,-470.13 -3.85,-473.65 0,-476.98 3.75,-478.02 7.21,-478.9 10.23,-479.83 12.65,-480.94 14.37,-482.31 15.33,-483.99 15.5,-486.03" fill="url(#g21)"/>
<polygon points="26.99,-494.9 26.65,-492.74 24.93,-490.57 21.9,-488.41 17.67,-486.24 12.43,-484.08 6.45,-481.91 0,-479.75 -6.59,-477.59 -12.98,-475.42 -18.84,-473.26 -23.85,-471.09 -27.75,-468.93 -30.32,-466.76 -31.39,-464.6 -18.5,-472.05 -17.96,-474.03 -16.4,-475.72 -14.05,-477.17 -11.07,-478.42 -7.6,-479.55 -3.85,-480.66 0,-481.91 3.75,-484.95 7.21,-488.13 10.23,-491.25 12.65,-494.24 14.37,-497.03 15.33,-499.57 15.5,-501.83" fill="url(#g20)"/>
<polyline points="26.99,-494.9 26.65,-492.74 24.93,-490.57 21.9,-488.41 17.67,-486.24 12.43,-484.08 6.45,-481.91 0,-479.75 -6.59,-477.59 -12.98,-475.42 -18.84,-473.26 -23.85,-471.09 -27.75,-468.93 -30.32,-466.76 -31.39,-464.6" fill="none" stroke="#f0f5f9" stroke-width="1.2"/>
<polygon points="31.39,-464.6 30.88,-462.44 28.79,-460.27 25.2,-458.11 20.26,-455.94 14.1,-453.78 7.23,-451.61 0,-449.45 -7.23,-447.29 -14.1,-445.12 -20.26,-442.96 -25.41,-440.79 -29.28,-438.63 -31.69,-436.46 -32.5,-434.3 -18.5,-424.6 -18.04,-426.96 -16.67,-429.7 -14.46,-432.77 -11.53,-436.11 -8.03,-439.61 -4.12,-443.17 0,-446.54 4.12,-447.5 8.03,-448.27 11.53,-449.09 14.46,-450.12 16.67,-451.42 18.04,-453.06 18.5,-455.07" fill="url(#g21)"/>
<polygon points="31.39,-464.6 30.88,-462.44 28.79,-460.27 25.2,-458.11 20.26,-455.94 14.1,-453.78 7.23,-451.61 0,-449.45 -7.23,-447.29 -14.1,-445.12 -20.26,-442.96 -25.41,-440.79 -29.28,-438.63 -31.69,-436.46 -32.5,-434.3 -18.5,-441.87 -18.04,-443.89 -16.67,-445.6 -14.46,-447.06 -11.53,-448.31 -8.03,-449.42 -4.12,-450.5 0,-451.72 4.12,-454.83 8.03,-458.08 11.53,-461.3 14.46,-464.35 16.67,-467.19 18.04,-469.76 18.5,-472.05" fill="url(#g20)"/>
<polyline points="31.39,-464.6 30.88,-462.44 28.79,-460.27 25.2,-458.11 20.26,-455.94 14.1,-453.78 7.23,-451.61 0,-449.45 -7.23,-447.29 -14.1,-445.12 -20.26,-442.96 -25.41,-440.79 -29.28,-438.63 -31.69,-436.46 -32.5,-434.3" fill="none" stroke="#f0f5f9" stroke-width="1.2"/>
<polygon points="32.5,-434.3 31.69,-432.14 29.28,-429.97 25.41,-427.81 20.26,-425.64 14.1,-423.48 7.23,-421.31 0,-419.15 -7.23,-416.99 -14.1,-414.82 -20.26,-412.66 -25.41,-410.49 -29.28,-408.33 -31.69,-406.16 -32.5,-404 -18.5,-394.3 -18.04,-396.66 -16.67,-399.4 -14.46,-402.47 -11.53,-405.81 -8.03,-409.31 -4.12,-412.87 0,-416.24 4.12,-417.2 8.03,-417.97 11.53,-418.79 14.46,-419.78 16.67,-421.04 18.04,-422.64 18.5,-424.6" fill="url(#g21)"/>
<polygon points="32.5,-434.3 31.69,-432.14 29.28,-429.97 25.41,-427.81 20.26,-425.64 14.1,-423.48 7.23,-421.31 0,-419.15 -7.23,-416.99 -14.1,-414.82 -20.26,-412.66 -25.41,-410.49 -29.28,-408.33 -31.69,-406.16 -32.5,-404 -18.5,-411.57 -18.04,-413.59 -16.67,-415.3 -14.46,-416.76 -11.53,-418.01 -8.03,-419.12 -4.12,-420.2 0,-421.42 4.12,-424.53 8.03,-427.78 11.53,-431 14.46,-434.08 16.67,-436.95 18.04,-439.56 18.5,-441.87" fill="url(#g20)"/>
<polyline points="32.5,-434.3 31.69,-432.14 29.28,-429.97 25.41,-427.81 20.26,-425.64 14.1,-423.48 7.23,-421.31 0,-419.15 -7.23,-416.99 -14.1,-414.82 -20.26,-412.66 -25.41,-410.49 -29.28,-408.33 -31.69,-406.16 -32.5,-404" fill="none" stroke="#f0f5f9" stroke-width="1.2"/>
<polygon points="32.5,-404 31.69,-401.84 29.28,-399.67 25.41,-397.51 20.26,-395.34 14.1,-393.18 7.23,-391.01 0,-388.85 -7.23,-386.69 -14.1,-384.52 -20.26,-382.36 -25.41,-380.19 -29.28,-378.03 -31.69,-375.86 -32.5,-373.7 -18.5,-364 -18.04,-366.36 -16.67,-369.1 -14.46,-372.17 -11.53,-375.51 -8.03,-379.01 -4.12,-382.57 0,-385.94 4.12,-386.9 8.03,-387.67 11.53,-388.49 14.46,-389.48 16.67,-390.74 18.04,-392.34 18.5,-394.3" fill="url(#g21)"/>
<polygon points="32.5,-404 31.69,-401.84 29.28,-399.67 25.41,-397.51 20.26,-395.34 14.1,-393.18 7.23,-391.01 0,-388.85 -7.23,-386.69 -14.1,-384.52 -20.26,-382.36 -25.41,-380.19 -29.28,-378.03 -31.69,-375.86 -32.5,-373.7 -18.5,-381.27 -18.04,-383.29 -16.67,-385 -14.46,-386.46 -11.53,-387.71 -8.03,-388.82 -4.12,-389.9 0,-391.12 4.12,-394.23 8.03,-397.48 11.53,-400.7 14.46,-403.78 16.67,-406.65 18.04,-409.26 18.5,-411.57" fill="url(#g20)"/>
<polyline points="32.5,-404 31.69,-401.84 29.28,-399.67 25.41,-397.51 20.26,-395.34 14.1,-393.18 7.23,-391.01 0,-388.85 -7.23,-386.69 -14.1,-384.52 -20.26,-382.36 -25.41,-380.19 -29.28,-378.03 -31.69,-375.86 -32.5,-373.7" fill="none" stroke="#f0f5f9" stroke-width="1.2"/>
<polygon points="32.5,-373.7 31.69,-371.54 29.28,-369.37 25.41,-367.21 20.26,-365.04 14.1,-362.88 7.23,-360.71 0,-358.55 -7.23,-356.39 -14.1,-354.22 -20.26,-352.06 -25.41,-349.89 -29.28,-347.73 -31.69,-345.56 -32.5,-343.4 -18.5,-333.7 -18.04,-336.06 -16.67,-338.8 -14.46,-341.87 -11.53,-345.21 -8.03,-348.71 -4.12,-352.27 0,-355.64 4.12,-356.6 8.03,-357.37 11.53,-358.19 14.46,-359.18 16.67,-360.44 18.04,-362.04 18.5,-364" fill="url(#g21)"/>
<polygon points="32.5,-373.7 31.69,-371.54 29.28,-369.37 25.41,-367.21 20.26,-365.04 14.1,-362.88 7.23,-360.71 0,-358.55 -7.23,-356.39 -14.1,-354.22 -20.26,-352.06 -25.41,-349.89 -29.28,-347.73 -31.69,-345.56 -32.5,-343.4 -18.5,-350.97 -18.04,-352.99 -16.67,-354.7 -14.46,-356.16 -11.53,-357.41 -8.03,-358.52 -4.12,-359.6 0,-360.82 4.12,-363.93 8.03,-367.18 11.53,-370.4 14.46,-373.48 16.67,-376.35 18.04,-378.96 18.5,-381.27" fill="url(#g20)"/>
<polyline points="32.5,-373.7 31.69,-371.54 29.28,-369.37 25.41,-367.21 20.26,-365.04 14.1,-362.88 7.23,-360.71 0,-358.55 -7.23,-356.39 -14.1,-354.22 -20.26,-352.06 -25.41,-349.89 -29.28,-347.73 -31.69,-345.56 -32.5,-343.4" fill="none" stroke="#f0f5f9" stroke-width="1.2"/>
<polygon points="32.5,-343.4 31.69,-341.24 29.28,-339.07 25.41,-336.91 20.26,-334.74 14.1,-332.58 7.23,-330.41 0,-328.25 -7.23,-326.09 -14.1,-323.92 -20.26,-321.76 -25.41,-319.59 -29.28,-317.43 -31.69,-315.26 -32.5,-313.1 -18.5,-303.4 -18.04,-305.76 -16.67,-308.5 -14.46,-311.57 -11.53,-314.91 -8.03,-318.41 -4.12,-321.97 0,-325.34 4.12,-326.3 8.03,-327.07 11.53,-327.89 14.46,-328.88 16.67,-330.14 18.04,-331.74 18.5,-333.7" fill="url(#g21)"/>
<polygon points="32.5,-343.4 31.69,-341.24 29.28,-339.07 25.41,-336.91 20.26,-334.74 14.1,-332.58 7.23,-330.41 0,-328.25 -7.23,-326.09 -14.1,-323.92 -20.26,-321.76 -25.41,-319.59 -29.28,-317.43 -31.69,-315.26 -32.5,-313.1 -18.5,-320.67 -18.04,-322.69 -16.67,-324.4 -14.46,-325.86 -11.53,-327.11 -8.03,-328.22 -4.12,-329.3 0,-330.52 4.12,-333.63 8.03,-336.88 11.53,-340.1 14.46,-343.18 16.67,-346.05 18.04,-348.66 18.5,-350.97" fill="url(#g20)"/>
<polyline points="32.5,-343.4 31.69,-341.24 29.28,-339.07 25.41,-336.91 20.26,-334.74 14.1,-332.58 7.23,-330.41 0,-328.25 -7.23,-326.09 -14.1,-323.92 -20.26,-321.76 -25.41,-319.59 -29.28,-317.43 -31.69,-315.26 -32.5,-313.1" fill="none" stroke="#f0f5f9" stroke-width="1.2"/>
<polygon points="32.5,-313.1 31.69,-310.94 29.28,-308.77 25.41,-306.61 20.26,-304.44 14.1,-302.28 7.23,-300.11 0,-297.95 -7.23,-295.79 -14.1,-293.62 -20.26,-291.46 -25.41,-289.29 -29.28,-287.13 -31.69,-284.96 -32.5,-282.8 -18.5,-273.1 -18.04,-275.46 -16.67,-278.2 -14.46,-281.27 -11.53,-284.61 -8.03,-288.11 -4.12,-291.67 0,-295.04 4.12,-296 8.03,-296.77 11.53,-297.59 14.46,-298.58 16.67,-299.84 18.04,-301.44 18.5,-303.4" fill="url(#g21)"/>
<polygon points="32.5,-313.1 31.69,-310.94 29.28,-308.77 25.41,-306.61 20.26,-304.44 14.1,-302.28 7.23,-300.11 0,-297.95 -7.23,-295.79 -14.1,-293.62 -20.26,-291.46 -25.41,-289.29 -29.28,-287.13 -31.69,-284.96 -32.5,-282.8 -18.5,-290.37 -18.04,-292.39 -16.67,-294.1 -14.46,-295.56 -11.53,-296.81 -8.03,-297.92 -4.12,-299 0,-300.22 4.12,-303.33 8.03,-306.58 11.53,-309.8 14.46,-312.88 16.67,-315.75 18.04,-318.36 18.5,-320.67" fill="url(#g20)"/>
<polyline points="32.5,-313.1 31.69,-310.94 29.28,-308.77 25.41,-306.61 20.26,-304.44 14.1,-302.28 7.23,-300.11 0,-297.95 -7.23,-295.79 -14.1,-293.62 -20.26,-291.46 -25.41,-289.29 -29.28,-287.13 -31.69,-284.96 -32.5,-282.8" fill="none" stroke="#f0f5f9" stroke-width="1.2"/>
<polygon points="32.5,-282.8 31.69,-280.64 29.28,-278.47 25.41,-276.31 20.26,-274.14 14.1,-271.98 7.23,-269.81 0,-267.65 -7.23,-265.49 -14.1,-263.32 -20.26,-261.16 -25.41,-258.99 -29.28,-256.83 -31.69,-254.66 -32.5,-252.5 -18.5,-242.8 -18.04,-245.16 -16.67,-247.9 -14.46,-250.97 -11.53,-254.31 -8.03,-257.81 -4.12,-261.37 0,-264.74 4.12,-265.7 8.03,-266.47 11.53,-267.29 14.46,-268.28 16.67,-269.54 18.04,-271.14 18.5,-273.1" fill="url(#g21)"/>
<polygon points="32.5,-282.8 31.69,-280.64 29.28,-278.47 25.41,-276.31 20.26,-274.14 14.1,-271.98 7.23,-269.81 0,-267.65 -7.23,-265.49 -14.1,-263.32 -20.26,-261.16 -25.41,-258.99 -29.28,-256.83 -31.69,-254.66 -32.5,-252.5 -18.5,-260.07 -18.04,-262.09 -16.67,-263.8 -14.46,-265.26 -11.53,-266.51 -8.03,-267.62 -4.12,-268.7 0,-269.92 4.12,-273.03 8.03,-276.28 11.53,-279.5 14.46,-282.58 16.67,-285.45 18.04,-288.06 18.5,-290.37" fill="url(#g20)"/>
<polyline points="32.5,-282.8 31.69,-280.64 29.28,-278.47 25.41,-276.31 20.26,-274.14 14.1,-271.98 7.23,-269.81 0,-267.65 -7.23,-265.49 -14.1,-263.32 -20.26,-261.16 -25.41,-258.99 -29.28,-256.83 -31.69,-254.66 -32.5,-252.5" fill="none" stroke="#f0f5f9" stroke-width="1.2"/>
<polygon points="32.5,-252.5 31.69,-250.34 29.28,-248.17 25.41,-246.01 20.26,-243.84 14.1,-241.68 7.23,-239.51 0,-237.35 -7.23,-235.19 -14.1,-233.02 -20.26,-230.86 -25.41,-228.69 -29.28,-226.53 -31.69,-224.36 -32.5,-222.2 -18.5,-212.5 -18.04,-214.86 -16.67,-217.6 -14.46,-220.67 -11.53,-224.01 -8.03,-227.51 -4.12,-231.07 0,-234.44 4.12,-235.4 8.03,-236.17 11.53,-236.99 14.46,-237.98 16.67,-239.24 18.04,-240.84 18.5,-242.8" fill="url(#g21)"/>
<polygon points="32.5,-252.5 31.69,-250.34 29.28,-248.17 25.41,-246.01 20.26,-243.84 14.1,-241.68 7.23,-239.51 0,-237.35 -7.23,-235.19 -14.1,-233.02 -20.26,-230.86 -25.41,-228.69 -29.28,-226.53 -31.69,-224.36 -32.5,-222.2 -18.5,-229.77 -18.04,-231.79 -16.67,-233.5 -14.46,-234.96 -11.53,-236.21 -8.03,-237.32 -4.12,-238.4 0,-239.62 4.12,-242.73 8.03,-245.98 11.53,-249.2 14.46,-252.28 16.67,-255.15 18.04,-257.76 18.5,-260.07" fill="url(#g20)"/>
<polyline points="32.5,-252.5 31.69,-250.34 29.28,-248.17 25.41,-246.01 20.26,-243.84 14.1,-241.68 7.23,-239.51 0,-237.35 -7.23,-235.19 -14.1,-233.02 -20.26,-230.86 -25.41,-228.69 -29.28,-226.53 -31.69,-224.36 -32.5,-222.2" fill="none" stroke="#f0f5f9" stroke-width="1.2"/>
<polygon points="32.5,-222.2 31.69,-220.04 29.28,-217.87 25.41,-215.71 20.26,-213.54 14.1,-211.38 7.23,-209.21 0,-207.05 -7.23,-204.89 -14.1,-202.72 -20.26,-200.56 -25.41,-198.39 -29.28,-196.23 -31.69,-194.06 -32.5,-191.9 -18.5,-182.2 -18.04,-184.56 -16.67,-187.3 -14.46,-190.37 -11.53,-193.71 -8.03,-197.21 -4.12,-200.77 0,-204.14 4.12,-205.1 8.03,-205.87 11.53,-206.69 14.46,-207.68 16.67,-208.94 18.04,-210.54 18.5,-212.5" fill="url(#g21)"/>
<polygon points="32.5,-222.2 31.69,-220.04 29.28,-217.87 25.41,-215.71 20.26,-213.54 14.1,-211.38 7.23,-209.21 0,-207.05 -7.23,-204.89 -14.1,-202.72 -20.26,-200.56 -25.41,-198.39 -29.28,-196.23 -31.69,-194.06 -32.5,-191.9 -18.5,-199.47 -18.04,-201.49 -16.67,-203.2 -14.46,-204.66 -11.53,-205.91 -8.03,-207.02 -4.12,-208.1 0,-209.32 4.12,-212.43 8.03,-215.68 11.53,-218.9 14.46,-221.98 16.67,-224.85 18.04,-227.46 18.5,-229.77" fill="url(#g20)"/>
<polyline points="32.5,-222.2 31.69,-220.04 29.28,-217.87 25.41,-215.71 20.26,-213.54 14.1,-211.38 7.23,-209.21 0,-207.05 -7.23,-204.89 -14.1,-202.72 -20.26,-200.56 -25.41,-198.39 -29.28,-196.23 -31.69,-194.06 -32.5,-191.9" fill="none" stroke="#f0f5f9" stroke-width="1.2"/>
<polygon points="32.5,-191.9 31.69,-189.74 29.28,-187.57 25.41,-185.41 20.26,-183.24 14.1,-181.08 7.23,-178.91 0,-176.75 -7.23,-174.59 -14.1,-172.42 -20.26,-170.26 -25.41,-168.09 -29.28,-165.93 -31.69,-163.76 -32.5,-161.6 -18.5,-151.9 -18.04,-154.26 -16.67,-157 -14.46,-160.07 -11.53,-163.41 -8.03,-166.91 -4.12,-170.47 0,-173.84 4.12,-174.8 8.03,-175.57 11.53,-176.39 14.46,-177.38 16.67,-178.64 18.04,-180.24 18.5,-182.2" fill="url(#g21)"/>
<polygon points="32.5,-191.9 31.69,-189.74 29.28,-187.57 25.41,-185.41 20.26,-183.24 14.1,-181.08 7.23,-178.91 0,-176.75 -7.23,-174.59 -14.1,-172.42 -20.26,-170.26 -25.41,-168.09 -29.28,-165.93 -31.69,-163.76 -32.5,-161.6 -18.5,-169.17 -18.04,-171.19 -16.67,-172.9 -14.46,-174.36 -11.53,-175.61 -8.03,-176.72 -4.12,-177.8 0,-179.02 4.12,-182.13 8.03,-185.38 11.53,-188.6 14.46,-191.68 16.67,-194.55 18.04,-197.16 18.5,-199.47" fill="url(#g20)"/>
<polyline points="32.5,-191.9 31.69,-189.74 29.28,-187.57 25.41,-185.41 20.26,-183.24 14.1,-181.08 7.23,-178.91 0,-176.75 -7.23,-174.59 -14.1,-172.42 -20.26,-170.26 -25.41,-168.09 -29.28,-165.93 -31.69,-163.76 -32.5,-161.6" fill="none" stroke="#f0f5f9" stroke-width="1.2"/>
<polygon points="32.5,-161.6 31.69,-159.44 29.28,-157.27 25.41,-155.11 20.26,-152.94 14.1,-150.78 7.23,-148.61 0,-146.45 -7.23,-144.29 -14.1,-142.12 -20.26,-139.96 -25.41,-137.79 -29.28,-135.63 -31.69,-133.46 -32.5,-131.3 -18.5,-121.6 -18.04,-123.96 -16.67,-126.7 -14.46,-129.77 -11.53,-133.11 -8.03,-136.61 -4.12,-140.17 0,-143.54 4.12,-144.5 8.03,-145.27 11.53,-146.09 14.46,-147.08 16.67,-148.34 18.04,-149.94 18.5,-151.9" fill="url(#g21)"/>
<polygon points="32.5,-161.6 31.69,-159.44 29.28,-157.27 25.41,-155.11 20.26,-152.94 14.1,-150.78 7.23,-148.61 0,-146.45 -7.23,-144.29 -14.1,-142.12 -20.26,-139.96 -25.41,-137.79 -29.28,-135.63 -31.69,-133.46 -32.5,-131.3 -18.5,-138.87 -18.04,-140.89 -16.67,-142.6 -14.46,-144.06 -11.53,-145.31 -8.03,-146.42 -4.12,-147.5 0,-148.72 4.12,-151.83 8.03,-155.08 11.53,-158.3 14.46,-161.38 16.67,-164.25 18.04,-166.86 18.5,-169.17" fill="url(#g20)"/>
<polyline points="32.5,-161.6 31.69,-159.44 29.28,-157.27 25.41,-155.11 20.26,-152.94 14.1,-150.78 7.23,-148.61 0,-146.45 -7.23,-144.29 -14.1,-142.12 -20.26,-139.96 -25.41,-137.79 -29.28,-135.63 -31.69,-133.46 -32.5,-131.3" fill="none" stroke="#f0f5f9" stroke-width="1.2"/>
<polygon points="32.5,-131.3 31.69,-129.14 29.28,-126.97 25.41,-124.81 20.26,-122.64 14.1,-120.48 7.23,-118.31 0,-116.15 -7.23,-113.99 -14.1,-111.82 -20.26,-109.66 -25.41,-107.49 -29.28,-105.33 -31.69,-103.16 -32.5,-101 -18.5,-91.3 -18.04,-93.66 -16.67,-96.4 -14.46,-99.47 -11.53,-102.81 -8.03,-106.31 -4.12,-109.87 0,-113.24 4.12,-114.2 8.03,-114.97 11.53,-115.79 14.46,-116.78 16.67,-118.04 18.04,-119.64 18.5,-121.6" fill="url(#g21)"/>
<polygon points="32.5,-131.3 31.69,-129.14 29.28,-126.97 25.41,-124.81 20.26,-122.64 14.1,-120.48 7.23,-118.31 0,-116.15 -7.23,-113.99 -14.1,-111.82 -20.26,-109.66 -25.41,-107.49 -29.28,-105.33 -31.69,-103.16 -32.5,-101 -18.5,-108.57 -18.04,-110.59 -16.67,-112.3 -14.46,-113.76 -11.53,-115.01 -8.03,-116.12 -4.12,-117.2 0,-118.42 4.12,-121.53 8.03,-124.78 11.53,-128 14.46,-131.08 16.67,-133.95 18.04,-136.56 18.5,-138.87" fill="url(#g20)"/>
<polyline points="32.5,-131.3 31.69,-129.14 29.28,-126.97 25.41,-124.81 20.26,-122.64 14.1,-120.48 7.23,-118.31 0,-116.15 -7.23,-113.99 -14.1,-111.82 -20.26,-109.66 -25.41,-107.49 -29.28,-105.33 -31.69,-103.16 -32.5,-101" fill="none" stroke="#f0f5f9" stroke-width="1.2"/>
</g>
<g transform="translate(834.5,1156) rotate(-0.04)">
<polygon points="-0.8,-646 -2.84,-643 -4.54,-640 -6.07,-637 -7.49,-634 -8.85,-631 -9.47,-628 -9.78,-625 -10.09,-622 -10.4,-619 -10.71,-616 -11.02,-613 -11.34,-610 -11.65,-607 -11.96,-604 -12.27,-601 -12.58,-598 -12.89,-595 -13.2,-592 -13.52,-589 -13.83,-586 -14.14,-583 -14.45,-580 -14.76,-577 -15.07,-574 -15.39,-571 -15.7,-568 -16.01,-565 -16.32,-562 -16.63,-559 -16.94,-556 -17.25,-553 -17.57,-550 -17.88,-547 -18.19,-544 -18.5,-541 -18.5,-538 -18.5,-535 -18.5,-532 -18.5,-529 -18.5,-526 -18.5,-523 -18.5,-520 -18.5,-517 -18.5,-514 -18.5,-511 -18.5,-508 -18.5,-505 -18.5,-502 -18.5,-499 -18.5,-496 -18.5,-493 -18.5,-490 -18.5,-487 -18.5,-484 -18.5,-481 -18.5,-478 -18.5,-475 -18.5,-472 -18.5,-469 -18.5,-466 -18.5,-463 -18.5,-460 -18.5,-457 -18.5,-454 -18.5,-451 -18.5,-448 -18.5,-445 -18.5,-442 -18.5,-439 -18.5,-436 -18.5,-433 -18.5,-430 -18.5,-427 -18.5,-424 -18.5,-421 -18.5,-418 -18.5,-415 -18.5,-412 -18.5,-409 -18.5,-406 -18.5,-403 -18.5,-400 -18.5,-397 -18.5,-394 -18.5,-391 -18.5,-388 -18.5,-385 -18.5,-382 -18.5,-379 -18.5,-376 -18.5,-373 -18.5,-370 -18.5,-367 -18.5,-364 -18.5,-361 -18.5,-358 -18.5,-355 -18.5,-352 -18.5,-349 -18.5,-346 -18.5,-343 -18.5,-340 -18.5,-337 -18.5,-334 -18.5,-331 -18.5,-328 -18.5,-325 -18.5,-322 -18.5,-319 -18.5,-316 -18.5,-313 -18.5,-310 -18.5,-307 -18.5,-304 -18.5,-301 -18.5,-298 -18.5,-295 -18.5,-292 -18.5,-289 -18.5,-286 -18.5,-283 -18.5,-280 -18.5,-277 -18.5,-274 -18.5,-271 -18.5,-268 -18.5,-265 -18.5,-262 -18.5,-259 -18.5,-256 -18.5,-253 -18.5,-250 -18.5,-247 -18.5,-244 -18.5,-241 -18.5,-238 -18.5,-235 -18.5,-232 -18.5,-230 18.5,-230 18.5,-232 18.5,-235 18.5,-238 18.5,-241 18.5,-244 18.5,-247 18.5,-250 18.5,-253 18.5,-256 18.5,-259 18.5,-262 18.5,-265 18.5,-268 18.5,-271 18.5,-274 18.5,-277 18.5,-280 18.5,-283 18.5,-286 18.5,-289 18.5,-292 18.5,-295 18.5,-298 18.5,-301 18.5,-304 18.5,-307 18.5,-310 18.5,-313 18.5,-316 18.5,-319 18.5,-322 18.5,-325 18.5,-328 18.5,-331 18.5,-334 18.5,-337 18.5,-340 18.5,-343 18.5,-346 18.5,-349 18.5,-352 18.5,-355 18.5,-358 18.5,-361 18.5,-364 18.5,-367 18.5,-370 18.5,-373 18.5,-376 18.5,-379 18.5,-382 18.5,-385 18.5,-388 18.5,-391 18.5,-394 18.5,-397 18.5,-400 18.5,-403 18.5,-406 18.5,-409 18.5,-412 18.5,-415 18.5,-418 18.5,-421 18.5,-424 18.5,-427 18.5,-430 18.5,-433 18.5,-436 18.5,-439 18.5,-442 18.5,-445 18.5,-448 18.5,-451 18.5,-454 18.5,-457 18.5,-460 18.5,-463 18.5,-466 18.5,-469 18.5,-472 18.5,-475 18.5,-478 18.5,-481 18.5,-484 18.5,-487 18.5,-490 18.5,-493 18.5,-496 18.5,-499 18.5,-502 18.5,-505 18.5,-508 18.5,-511 18.5,-514 18.5,-517 18.5,-520 18.5,-523 18.5,-526 18.5,-529 18.5,-532 18.5,-535 18.5,-538 18.5,-541 18.19,-544 17.88,-547 17.57,-550 17.25,-553 16.94,-556 16.63,-559 16.32,-562 16.01,-565 15.7,-568 15.39,-571 15.07,-574 14.76,-577 14.45,-580 14.14,-583 13.83,-586 13.52,-589 13.2,-592 12.89,-595 12.58,-598 12.27,-601 11.96,-604 11.65,-607 11.34,-610 11.02,-613 10.71,-616 10.4,-619 10.09,-622 9.78,-625 9.47,-628 8.85,-631 7.49,-634 6.07,-637 4.54,-640 2.84,-643 0.8,-646" fill="url(#g22)" filter="url(#grain)"/>
<rect x="-23" y="-233" width="46" height="124" fill="url(#g23)" filter="url(#grain)"/>
<path d="M-24,-229 Q0,-225 24,-237 L24,-233 Q0,-221 -24,-225 Z" fill="#c9d6e0"/>
<polygon points="-23,-110 -23.23,-107.34 -23.5,-103.63 -23.84,-99.25 -24.28,-94.59 -24.82,-90.05 -25.5,-86 -26.35,-82.38 -27.35,-78.85 -28.47,-75.44 -29.65,-72.15 -30.84,-69 -32,-66 -33.08,-63.21 -34.11,-60.63 -35.16,-58.19 -36.28,-55.81 -37.54,-53.44 -39,-51 -40.71,-48.44 -42.63,-45.81 -44.69,-43.19 -46.81,-40.63 -48.94,-38.21 -51,-36 -53,-34.03 -55,-32.26 -57,-30.62 -59,-29.07 -61,-27.55 -63,-26 -65.14,-24.34 -67.44,-22.59 -69.75,-20.88 -71.89,-19.3 -73.69,-17.97 -75,-17 75,-17 73.69,-17.97 71.89,-19.3 69.75,-20.88 67.44,-22.59 65.14,-24.34 63,-26 61,-27.55 59,-29.07 57,-30.62 55,-32.26 53,-34.03 51,-36 48.94,-38.21 46.81,-40.63 44.69,-43.19 42.63,-45.81 40.71,-48.44 39,-51 37.54,-53.44 36.28,-55.81 35.16,-58.19 34.11,-60.63 33.08,-63.21 32,-66 30.84,-69 29.65,-72.15 28.47,-75.44 27.35,-78.85 26.35,-82.38 25.5,-86 24.82,-90.05 24.28,-94.59 23.84,-99.25 23.5,-103.63 23.23,-107.34 23,-110" fill="url(#g25)" filter="url(#grain)"/>
<g clip-path="url(#c24)"><g filter="url(#soft)"><path d="M-23,-116 L23,-116 C23,-67.7 30.36,-28 29.45,-14 L-29.45,-14 C-30.36,-28 -23,-67.7 -23,-116 Z" fill="url(#g26)" filter="url(#grain)"/></g><ellipse cx="7.59" cy="-22" rx="21.86" ry="8" fill="#4d5a67" opacity="0.45" filter="url(#soft)"/></g>
<path d="M-74,-17.5 L74,-17.5 Q75.5,-16 75,-10.2 Q73,-1.5 59,-0.5 L-59,-0.5 Q-73,-1.5 -75,-10.2 Q-75.5,-16 -74,-17.5 Z" fill="url(#g27)"/>
<path d="M-71,-14.5 Q0,-11 71,-14.5" fill="none" stroke="#dde6ec" stroke-width="1.8" opacity="0.9"/>
<polygon points="20.28,-609 20.26,-606.93 19.17,-604.86 17,-602.79 13.85,-600.71 9.83,-598.64 5.14,-596.57 0,-594.5 -5.33,-592.43 -10.57,-590.36 -15.45,-588.29 -19.68,-586.21 -23.03,-584.14 -25.29,-582.07 -26.31,-580 -14.45,-571.42 -13.88,-573.72 -12.63,-576.35 -10.79,-579.26 -8.47,-582.39 -5.8,-585.65 -2.93,-588.94 0,-592.05 2.83,-593.14 5.43,-594.08 7.67,-595.09 9.45,-596.25 10.69,-597.65 11.36,-599.33 11.44,-601.32" fill="url(#g29)"/>
<polygon points="20.28,-609 20.26,-606.93 19.17,-604.86 17,-602.79 13.85,-600.71 9.83,-598.64 5.14,-596.57 0,-594.5 -5.33,-592.43 -10.57,-590.36 -15.45,-588.29 -19.68,-586.21 -23.03,-584.14 -25.29,-582.07 -26.31,-580 -14.45,-586.7 -13.88,-588.6 -12.63,-590.23 -10.79,-591.65 -8.47,-592.89 -5.8,-594.03 -2.93,-595.16 0,-596.41 2.83,-599.26 5.43,-602.21 7.67,-605.11 9.45,-607.89 10.69,-610.49 11.36,-612.86 11.44,-615" fill="url(#g28)"/>
<polyline points="20.28,-609 20.26,-606.93 19.17,-604.86 17,-602.79 13.85,-600.71 9.83,-598.64 5.14,-596.57 0,-594.5 -5.33,-592.43 -10.57,-590.36 -15.45,-588.29 -19.68,-586.21 -23.03,-584.14 -25.29,-582.07 -26.31,-580" fill="none" stroke="#f0f5f9" stroke-width="1.2"/>
<polygon points="26.31,-580 26.01,-577.93 24.37,-575.86 21.42,-573.79 17.3,-571.71 12.19,-569.64 6.33,-567.57 0,-565.5 -6.48,-563.43 -12.77,-561.36 -18.55,-559.29 -23.51,-557.21 -27.38,-555.14 -29.92,-553.07 -31,-551 -17.46,-541.72 -16.81,-544.02 -15.34,-546.68 -13.15,-549.65 -10.35,-552.86 -7.11,-556.22 -3.6,-559.61 0,-562.82 3.5,-563.8 6.74,-564.62 9.55,-565.5 11.8,-566.55 13.41,-567.86 14.3,-569.47 14.45,-571.42" fill="url(#g29)"/>
<polygon points="26.31,-580 26.01,-577.93 24.37,-575.86 21.42,-573.79 17.3,-571.71 12.19,-569.64 6.33,-567.57 0,-565.5 -6.48,-563.43 -12.77,-561.36 -18.55,-559.29 -23.51,-557.21 -27.38,-555.14 -29.92,-553.07 -31,-551 -17.46,-558.25 -16.81,-560.14 -15.34,-561.75 -13.15,-563.12 -10.35,-564.31 -7.11,-565.37 -3.6,-566.41 0,-567.6 3.5,-570.52 6.74,-573.57 9.55,-576.57 11.8,-579.44 13.41,-582.11 14.3,-584.54 14.45,-586.7" fill="url(#g28)"/>
<polyline points="26.31,-580 26.01,-577.93 24.37,-575.86 21.42,-573.79 17.3,-571.71 12.19,-569.64 6.33,-567.57 0,-565.5 -6.48,-563.43 -12.77,-561.36 -18.55,-559.29 -23.51,-557.21 -27.38,-555.14 -29.92,-553.07 -31,-551" fill="none" stroke="#f0f5f9" stroke-width="1.2"/>
<polygon points="31,-551 30.22,-548.93 27.93,-546.86 24.24,-544.79 19.33,-542.71 13.45,-540.64 6.9,-538.57 0,-536.5 -6.9,-534.43 -13.45,-532.36 -19.33,-530.29 -24.24,-528.21 -27.93,-526.14 -30.22,-524.07 -31,-522 -18.5,-512.72 -18.04,-514.98 -16.67,-517.6 -14.46,-520.54 -11.53,-523.73 -8.03,-527.09 -4.12,-530.49 0,-533.72 4.12,-534.63 8.03,-535.37 11.42,-536.16 14.16,-537.11 16.12,-538.31 17.23,-539.84 17.46,-541.72" fill="url(#g29)"/>
<polygon points="31,-551 30.22,-548.93 27.93,-546.86 24.24,-544.79 19.33,-542.71 13.45,-540.64 6.9,-538.57 0,-536.5 -6.9,-534.43 -13.45,-532.36 -19.33,-530.29 -24.24,-528.21 -27.93,-526.14 -30.22,-524.07 -31,-522 -18.5,-529.25 -18.04,-531.18 -16.67,-532.82 -14.46,-534.21 -11.53,-535.41 -8.03,-536.47 -4.12,-537.5 0,-538.67 4.12,-541.65 8.03,-544.76 11.42,-547.84 14.16,-550.78 16.12,-553.53 17.23,-556.03 17.46,-558.25" fill="url(#g28)"/>
<polyline points="31,-551 30.22,-548.93 27.93,-546.86 24.24,-544.79 19.33,-542.71 13.45,-540.64 6.9,-538.57 0,-536.5 -6.9,-534.43 -13.45,-532.36 -19.33,-530.29 -24.24,-528.21 -27.93,-526.14 -30.22,-524.07 -31,-522" fill="none" stroke="#f0f5f9" stroke-width="1.2"/>
<polygon points="31,-522 30.22,-519.93 27.93,-517.86 24.24,-515.79 19.33,-513.71 13.45,-511.64 6.9,-509.57 0,-507.5 -6.9,-505.43 -13.45,-503.36 -19.33,-501.29 -24.24,-499.21 -27.93,-497.14 -30.22,-495.07 -31,-493 -18.5,-483.72 -18.04,-485.98 -16.67,-488.6 -14.46,-491.54 -11.53,-494.73 -8.03,-498.09 -4.12,-501.49 0,-504.72 4.12,-505.63 8.03,-506.37 11.53,-507.16 14.46,-508.11 16.67,-509.31 18.04,-510.84 18.5,-512.72" fill="url(#g29)"/>
<polygon points="31,-522 30.22,-519.93 27.93,-517.86 24.24,-515.79 19.33,-513.71 13.45,-511.64 6.9,-509.57 0,-507.5 -6.9,-505.43 -13.45,-503.36 -19.33,-501.29 -24.24,-499.21 -27.93,-497.14 -30.22,-495.07 -31,-493 -18.5,-500.25 -18.04,-502.18 -16.67,-503.82 -14.46,-505.21 -11.53,-506.41 -8.03,-507.47 -4.12,-508.5 0,-509.68 4.12,-512.65 8.03,-515.76 11.53,-518.84 14.46,-521.78 16.67,-524.53 18.04,-527.03 18.5,-529.25" fill="url(#g28)"/>
<polyline points="31,-522 30.22,-519.93 27.93,-517.86 24.24,-515.79 19.33,-513.71 13.45,-511.64 6.9,-509.57 0,-507.5 -6.9,-505.43 -13.45,-503.36 -19.33,-501.29 -24.24,-499.21 -27.93,-497.14 -30.22,-495.07 -31,-493" fill="none" stroke="#f0f5f9" stroke-width="1.2"/>
<polygon points="31,-493 30.22,-490.93 27.93,-488.86 24.24,-486.79 19.33,-484.71 13.45,-482.64 6.9,-480.57 0,-478.5 -6.9,-476.43 -13.45,-474.36 -19.33,-472.29 -24.24,-470.21 -27.93,-468.14 -30.22,-466.07 -31,-464 -18.5,-454.72 -18.04,-456.98 -16.67,-459.6 -14.46,-462.54 -11.53,-465.73 -8.03,-469.09 -4.12,-472.49 0,-475.72 4.12,-476.63 8.03,-477.37 11.53,-478.16 14.46,-479.11 16.67,-480.31 18.04,-481.84 18.5,-483.72" fill="url(#g29)"/>
<polygon points="31,-493 30.22,-490.93 27.93,-488.86 24.24,-486.79 19.33,-484.71 13.45,-482.64 6.9,-480.57 0,-478.5 -6.9,-476.43 -13.45,-474.36 -19.33,-472.29 -24.24,-470.21 -27.93,-468.14 -30.22,-466.07 -31,-464 -18.5,-471.25 -18.04,-473.18 -16.67,-474.82 -14.46,-476.21 -11.53,-477.41 -8.03,-478.47 -4.12,-479.5 0,-480.68 4.12,-483.65 8.03,-486.76 11.53,-489.84 14.46,-492.78 16.67,-495.53 18.04,-498.03 18.5,-500.25" fill="url(#g28)"/>
<polyline points="31,-493 30.22,-490.93 27.93,-488.86 24.24,-486.79 19.33,-484.71 13.45,-482.64 6.9,-480.57 0,-478.5 -6.9,-476.43 -13.45,-474.36 -19.33,-472.29 -24.24,-470.21 -27.93,-468.14 -30.22,-466.07 -31,-464" fill="none" stroke="#f0f5f9" stroke-width="1.2"/>
<polygon points="31,-464 30.22,-461.93 27.93,-459.86 24.24,-457.79 19.33,-455.71 13.45,-453.64 6.9,-451.57 0,-449.5 -6.9,-447.43 -13.45,-445.36 -19.33,-443.29 -24.24,-441.21 -27.93,-439.14 -30.22,-437.07 -31,-435 -18.5,-425.72 -18.04,-427.98 -16.67,-430.6 -14.46,-433.54 -11.53,-436.73 -8.03,-440.09 -4.12,-443.49 0,-446.72 4.12,-447.63 8.03,-448.37 11.53,-449.16 14.46,-450.11 16.67,-451.31 18.04,-452.84 18.5,-454.72" fill="url(#g29)"/>
<polygon points="31,-464 30.22,-461.93 27.93,-459.86 24.24,-457.79 19.33,-455.71 13.45,-453.64 6.9,-451.57 0,-449.5 -6.9,-447.43 -13.45,-445.36 -19.33,-443.29 -24.24,-441.21 -27.93,-439.14 -30.22,-437.07 -31,-435 -18.5,-442.25 -18.04,-444.18 -16.67,-445.82 -14.46,-447.21 -11.53,-448.41 -8.03,-449.47 -4.12,-450.5 0,-451.68 4.12,-454.65 8.03,-457.76 11.53,-460.84 14.46,-463.78 16.67,-466.53 18.04,-469.03 18.5,-471.25" fill="url(#g28)"/>
<polyline points="31,-464 30.22,-461.93 27.93,-459.86 24.24,-457.79 19.33,-455.71 13.45,-453.64 6.9,-451.57 0,-449.5 -6.9,-447.43 -13.45,-445.36 -19.33,-443.29 -24.24,-441.21 -27.93,-439.14 -30.22,-437.07 -31,-435" fill="none" stroke="#f0f5f9" stroke-width="1.2"/>
<polygon points="31,-435 30.22,-432.93 27.93,-430.86 24.24,-428.79 19.33,-426.71 13.45,-424.64 6.9,-422.57 0,-420.5 -6.9,-418.43 -13.45,-416.36 -19.33,-414.29 -24.24,-412.21 -27.93,-410.14 -30.22,-408.07 -31,-406 -18.5,-396.72 -18.04,-398.98 -16.67,-401.6 -14.46,-404.54 -11.53,-407.73 -8.03,-411.09 -4.12,-414.49 0,-417.72 4.12,-418.63 8.03,-419.37 11.53,-420.16 14.46,-421.11 16.67,-422.31 18.04,-423.84 18.5,-425.72" fill="url(#g29)"/>
<polygon points="31,-435 30.22,-432.93 27.93,-430.86 24.24,-428.79 19.33,-426.71 13.45,-424.64 6.9,-422.57 0,-420.5 -6.9,-418.43 -13.45,-416.36 -19.33,-414.29 -24.24,-412.21 -27.93,-410.14 -30.22,-408.07 -31,-406 -18.5,-413.25 -18.04,-415.18 -16.67,-416.82 -14.46,-418.21 -11.53,-419.41 -8.03,-420.47 -4.12,-421.5 0,-422.68 4.12,-425.65 8.03,-428.76 11.53,-431.84 14.46,-434.78 16.67,-437.53 18.04,-440.03 18.5,-442.25" fill="url(#g28)"/>
<polyline points="31,-435 30.22,-432.93 27.93,-430.86 24.24,-428.79 19.33,-426.71 13.45,-424.64 6.9,-422.57 0,-420.5 -6.9,-418.43 -13.45,-416.36 -19.33,-414.29 -24.24,-412.21 -27.93,-410.14 -30.22,-408.07 -31,-406" fill="none" stroke="#f0f5f9" stroke-width="1.2"/>
<polygon points="31,-406 30.22,-403.93 27.93,-401.86 24.24,-399.79 19.33,-397.71 13.45,-395.64 6.9,-393.57 0,-391.5 -6.9,-389.43 -13.45,-387.36 -19.33,-385.29 -24.24,-383.21 -27.93,-381.14 -30.22,-379.07 -31,-377 -18.5,-367.72 -18.04,-369.98 -16.67,-372.6 -14.46,-375.54 -11.53,-378.73 -8.03,-382.09 -4.12,-385.49 0,-388.72 4.12,-389.63 8.03,-390.37 11.53,-391.16 14.46,-392.11 16.67,-393.31 18.04,-394.84 18.5,-396.72" fill="url(#g29)"/>
<polygon points="31,-406 30.22,-403.93 27.93,-401.86 24.24,-399.79 19.33,-397.71 13.45,-395.64 6.9,-393.57 0,-391.5 -6.9,-389.43 -13.45,-387.36 -19.33,-385.29 -24.24,-383.21 -27.93,-381.14 -30.22,-379.07 -31,-377 -18.5,-384.25 -18.04,-386.18 -16.67,-387.82 -14.46,-389.21 -11.53,-390.41 -8.03,-391.47 -4.12,-392.5 0,-393.68 4.12,-396.65 8.03,-399.76 11.53,-402.84 14.46,-405.78 16.67,-408.53 18.04,-411.03 18.5,-413.25" fill="url(#g28)"/>
<polyline points="31,-406 30.22,-403.93 27.93,-401.86 24.24,-399.79 19.33,-397.71 13.45,-395.64 6.9,-393.57 0,-391.5 -6.9,-389.43 -13.45,-387.36 -19.33,-385.29 -24.24,-383.21 -27.93,-381.14 -30.22,-379.07 -31,-377" fill="none" stroke="#f0f5f9" stroke-width="1.2"/>
<polygon points="31,-377 30.22,-374.93 27.93,-372.86 24.24,-370.79 19.33,-368.71 13.45,-366.64 6.9,-364.57 0,-362.5 -6.9,-360.43 -13.45,-358.36 -19.33,-356.29 -24.24,-354.21 -27.93,-352.14 -30.22,-350.07 -31,-348 -18.5,-338.72 -18.04,-340.98 -16.67,-343.6 -14.46,-346.54 -11.53,-349.73 -8.03,-353.09 -4.12,-356.49 0,-359.72 4.12,-360.63 8.03,-361.37 11.53,-362.16 14.46,-363.11 16.67,-364.31 18.04,-365.84 18.5,-367.72" fill="url(#g29)"/>
<polygon points="31,-377 30.22,-374.93 27.93,-372.86 24.24,-370.79 19.33,-368.71 13.45,-366.64 6.9,-364.57 0,-362.5 -6.9,-360.43 -13.45,-358.36 -19.33,-356.29 -24.24,-354.21 -27.93,-352.14 -30.22,-350.07 -31,-348 -18.5,-355.25 -18.04,-357.18 -16.67,-358.82 -14.46,-360.21 -11.53,-361.41 -8.03,-362.47 -4.12,-363.5 0,-364.68 4.12,-367.65 8.03,-370.76 11.53,-373.84 14.46,-376.78 16.67,-379.53 18.04,-382.03 18.5,-384.25" fill="url(#g28)"/>
<polyline points="31,-377 30.22,-374.93 27.93,-372.86 24.24,-370.79 19.33,-368.71 13.45,-366.64 6.9,-364.57 0,-362.5 -6.9,-360.43 -13.45,-358.36 -19.33,-356.29 -24.24,-354.21 -27.93,-352.14 -30.22,-350.07 -31,-348" fill="none" stroke="#f0f5f9" stroke-width="1.2"/>
<polygon points="31,-348 30.22,-345.93 27.93,-343.86 24.24,-341.79 19.33,-339.71 13.45,-337.64 6.9,-335.57 0,-333.5 -6.9,-331.43 -13.45,-329.36 -19.33,-327.29 -24.24,-325.21 -27.93,-323.14 -30.22,-321.07 -31,-319 -18.5,-309.72 -18.04,-311.98 -16.67,-314.6 -14.46,-317.54 -11.53,-320.73 -8.03,-324.09 -4.12,-327.49 0,-330.72 4.12,-331.63 8.03,-332.37 11.53,-333.16 14.46,-334.11 16.67,-335.31 18.04,-336.84 18.5,-338.72" fill="url(#g29)"/>
<polygon points="31,-348 30.22,-345.93 27.93,-343.86 24.24,-341.79 19.33,-339.71 13.45,-337.64 6.9,-335.57 0,-333.5 -6.9,-331.43 -13.45,-329.36 -19.33,-327.29 -24.24,-325.21 -27.93,-323.14 -30.22,-321.07 -31,-319 -18.5,-326.25 -18.04,-328.18 -16.67,-329.82 -14.46,-331.21 -11.53,-332.41 -8.03,-333.47 -4.12,-334.5 0,-335.68 4.12,-338.65 8.03,-341.76 11.53,-344.84 14.46,-347.78 16.67,-350.53 18.04,-353.03 18.5,-355.25" fill="url(#g28)"/>
<polyline points="31,-348 30.22,-345.93 27.93,-343.86 24.24,-341.79 19.33,-339.71 13.45,-337.64 6.9,-335.57 0,-333.5 -6.9,-331.43 -13.45,-329.36 -19.33,-327.29 -24.24,-325.21 -27.93,-323.14 -30.22,-321.07 -31,-319" fill="none" stroke="#f0f5f9" stroke-width="1.2"/>
<polygon points="31,-319 30.22,-316.93 27.93,-314.86 24.24,-312.79 19.33,-310.71 13.45,-308.64 6.9,-306.57 0,-304.5 -6.9,-302.43 -13.45,-300.36 -19.33,-298.29 -24.24,-296.21 -27.93,-294.14 -30.22,-292.07 -31,-290 -18.5,-280.72 -18.04,-282.98 -16.67,-285.6 -14.46,-288.54 -11.53,-291.73 -8.03,-295.09 -4.12,-298.49 0,-301.72 4.12,-302.63 8.03,-303.37 11.53,-304.16 14.46,-305.11 16.67,-306.31 18.04,-307.84 18.5,-309.72" fill="url(#g29)"/>
<polygon points="31,-319 30.22,-316.93 27.93,-314.86 24.24,-312.79 19.33,-310.71 13.45,-308.64 6.9,-306.57 0,-304.5 -6.9,-302.43 -13.45,-300.36 -19.33,-298.29 -24.24,-296.21 -27.93,-294.14 -30.22,-292.07 -31,-290 -18.5,-297.25 -18.04,-299.18 -16.67,-300.82 -14.46,-302.21 -11.53,-303.41 -8.03,-304.47 -4.12,-305.5 0,-306.68 4.12,-309.65 8.03,-312.76 11.53,-315.84 14.46,-318.78 16.67,-321.53 18.04,-324.03 18.5,-326.25" fill="url(#g28)"/>
<polyline points="31,-319 30.22,-316.93 27.93,-314.86 24.24,-312.79 19.33,-310.71 13.45,-308.64 6.9,-306.57 0,-304.5 -6.9,-302.43 -13.45,-300.36 -19.33,-298.29 -24.24,-296.21 -27.93,-294.14 -30.22,-292.07 -31,-290" fill="none" stroke="#f0f5f9" stroke-width="1.2"/>
<polygon points="31,-290 30.22,-287.93 27.93,-285.86 24.24,-283.79 19.33,-281.71 13.45,-279.64 6.9,-277.57 0,-275.5 -6.9,-273.43 -13.45,-271.36 -19.33,-269.29 -24.24,-267.21 -27.93,-265.14 -30.22,-263.07 -31,-261 -18.5,-251.72 -18.04,-253.98 -16.67,-256.6 -14.46,-259.54 -11.53,-262.73 -8.03,-266.09 -4.12,-269.49 0,-272.72 4.12,-273.63 8.03,-274.37 11.53,-275.16 14.46,-276.11 16.67,-277.31 18.04,-278.84 18.5,-280.72" fill="url(#g29)"/>
<polygon points="31,-290 30.22,-287.93 27.93,-285.86 24.24,-283.79 19.33,-281.71 13.45,-279.64 6.9,-277.57 0,-275.5 -6.9,-273.43 -13.45,-271.36 -19.33,-269.29 -24.24,-267.21 -27.93,-265.14 -30.22,-263.07 -31,-261 -18.5,-268.25 -18.04,-270.18 -16.67,-271.82 -14.46,-273.21 -11.53,-274.41 -8.03,-275.47 -4.12,-276.5 0,-277.68 4.12,-280.65 8.03,-283.76 11.53,-286.84 14.46,-289.78 16.67,-292.53 18.04,-295.03 18.5,-297.25" fill="url(#g28)"/>
<polyline points="31,-290 30.22,-287.93 27.93,-285.86 24.24,-283.79 19.33,-281.71 13.45,-279.64 6.9,-277.57 0,-275.5 -6.9,-273.43 -13.45,-271.36 -19.33,-269.29 -24.24,-267.21 -27.93,-265.14 -30.22,-263.07 -31,-261" fill="none" stroke="#f0f5f9" stroke-width="1.2"/>
<polygon points="31,-261 30.22,-258.93 27.93,-256.86 24.24,-254.79 19.33,-252.71 13.45,-250.64 6.9,-248.57 0,-246.5 -6.9,-244.43 -13.45,-242.36 -19.33,-240.29 -24.24,-238.21 -27.93,-236.14 -30.22,-234.07 -31,-232 -18.5,-222.72 -18.04,-224.98 -16.67,-227.6 -14.46,-230.54 -11.53,-233.73 -8.03,-237.09 -4.12,-240.49 0,-243.72 4.12,-244.63 8.03,-245.37 11.53,-246.16 14.46,-247.11 16.67,-248.31 18.04,-249.84 18.5,-251.72" fill="url(#g29)"/>
<polygon points="31,-261 30.22,-258.93 27.93,-256.86 24.24,-254.79 19.33,-252.71 13.45,-250.64 6.9,-248.57 0,-246.5 -6.9,-244.43 -13.45,-242.36 -19.33,-240.29 -24.24,-238.21 -27.93,-236.14 -30.22,-234.07 -31,-232 -18.5,-239.25 -18.04,-241.18 -16.67,-242.82 -14.46,-244.21 -11.53,-245.41 -8.03,-246.47 -4.12,-247.5 0,-248.68 4.12,-251.65 8.03,-254.76 11.53,-257.84 14.46,-260.78 16.67,-263.53 18.04,-266.03 18.5,-268.25" fill="url(#g28)"/>
<polyline points="31,-261 30.22,-258.93 27.93,-256.86 24.24,-254.79 19.33,-252.71 13.45,-250.64 6.9,-248.57 0,-246.5 -6.9,-244.43 -13.45,-242.36 -19.33,-240.29 -24.24,-238.21 -27.93,-236.14 -30.22,-234.07 -31,-232" fill="none" stroke="#f0f5f9" stroke-width="1.2"/>
</g>
<g transform="translate(1067,1157) rotate(0.23)">
<polygon points="-0.8,-748.01 -2.92,-745.01 -4.65,-742.01 -6.2,-739.01 -7.65,-736.01 -9.03,-733.01 -10.09,-730.01 -10.41,-727.01 -10.73,-724.01 -11.06,-721.01 -11.38,-718.01 -11.7,-715.01 -12.03,-712.01 -12.35,-709.01 -12.67,-706.01 -13,-703.01 -13.32,-700.01 -13.64,-697.01 -13.97,-694.01 -14.29,-691.01 -14.61,-688.01 -14.94,-685.01 -15.26,-682.01 -15.58,-679.01 -15.91,-676.01 -16.23,-673.01 -16.55,-670.01 -16.88,-667.01 -17.2,-664.01 -17.52,-661.01 -17.84,-658.01 -18.17,-655.01 -18.49,-652.01 -18.81,-649.01 -19.14,-646.01 -19.46,-643.01 -19.78,-640.01 -20,-637.01 -20,-634.01 -20,-631.01 -20,-628.01 -20,-625.01 -20,-622.01 -20,-619.01 -20,-616.01 -20,-613.01 -20,-610.01 -20,-607.01 -20,-604.01 -20,-601.01 -20,-598.01 -20,-595.01 -20,-592.01 -20,-589.01 -20,-586.01 -20,-583.01 -20,-580.01 -20,-577.01 -20,-574.01 -20,-571.01 -20,-568.01 -20,-565.01 -20,-562.01 -20,-559.01 -20,-556.01 -20,-553.01 -20,-550.01 -20,-547.01 -20,-544.01 -20,-541.01 -20,-538.01 -20,-535.01 -20,-532.01 -20,-529.01 -20,-526.01 -20,-523.01 -20,-520.01 -20,-517.01 -20,-514.01 -20,-511.01 -20,-508.01 -20,-505.01 -20,-502.01 -20,-499.01 -20,-496.01 -20,-493.01 -20,-490.01 -20,-487.01 -20,-484.01 -20,-481.01 -20,-478.01 -20,-475.01 -20,-472.01 -20,-469.01 -20,-466.01 -20,-463.01 -20,-460.01 -20,-457.01 -20,-454.01 -20,-451.01 -20,-448.01 -20,-445.01 -20,-442.01 -20,-439.01 -20,-436.01 -20,-433.01 -20,-430.01 -20,-427.01 -20,-424.01 -20,-421.01 -20,-418.01 -20,-415.01 -20,-412.01 -20,-409.01 -20,-406.01 -20,-403.01 -20,-400.01 -20,-397.01 -20,-394.01 -20,-391.01 -20,-388.01 -20,-385.01 -20,-382.01 -20,-379.01 -20,-376.01 -20,-373.01 -20,-370.01 -20,-367.01 -20,-364.01 -20,-361.01 -20,-358.01 -20,-355.01 -20,-352.01 -20,-349.01 -20,-346.01 -20,-343.01 -20,-340.01 -20,-337.01 -20,-334.01 -20,-331.01 -20,-328.01 -20,-325.01 -20,-322.01 -20,-319.01 -20,-316.01 -20,-313.01 -20,-310.01 -20,-307.01 -20,-304.01 -20,-301.01 -20,-298.01 -20,-295.01 -20,-292.01 -20,-289.01 -20,-286.01 -20,-283.01 -20,-280.01 -20,-277.01 -20,-274.01 -20,-271.01 -20,-267 20,-267 20,-271.01 20,-274.01 20,-277.01 20,-280.01 20,-283.01 20,-286.01 20,-289.01 20,-292.01 20,-295.01 20,-298.01 20,-301.01 20,-304.01 20,-307.01 20,-310.01 20,-313.01 20,-316.01 20,-319.01 20,-322.01 20,-325.01 20,-328.01 20,-331.01 20,-334.01 20,-337.01 20,-340.01 20,-343.01 20,-346.01 20,-349.01 20,-352.01 20,-355.01 20,-358.01 20,-361.01 20,-364.01 20,-367.01 20,-370.01 20,-373.01 20,-376.01 20,-379.01 20,-382.01 20,-385.01 20,-388.01 20,-391.01 20,-394.01 20,-397.01 20,-400.01 20,-403.01 20,-406.01 20,-409.01 20,-412.01 20,-415.01 20,-418.01 20,-421.01 20,-424.01 20,-427.01 20,-430.01 20,-433.01 20,-436.01 20,-439.01 20,-442.01 20,-445.01 20,-448.01 20,-451.01 20,-454.01 20,-457.01 20,-460.01 20,-463.01 20,-466.01 20,-469.01 20,-472.01 20,-475.01 20,-478.01 20,-481.01 20,-484.01 20,-487.01 20,-490.01 20,-493.01 20,-496.01 20,-499.01 20,-502.01 20,-505.01 20,-508.01 20,-511.01 20,-514.01 20,-517.01 20,-520.01 20,-523.01 20,-526.01 20,-529.01 20,-532.01 20,-535.01 20,-538.01 20,-541.01 20,-544.01 20,-547.01 20,-550.01 20,-553.01 20,-556.01 20,-559.01 20,-562.01 20,-565.01 20,-568.01 20,-571.01 20,-574.01 20,-577.01 20,-580.01 20,-583.01 20,-586.01 20,-589.01 20,-592.01 20,-595.01 20,-598.01 20,-601.01 20,-604.01 20,-607.01 20,-610.01 20,-613.01 20,-616.01 20,-619.01 20,-622.01 20,-625.01 20,-628.01 20,-631.01 20,-634.01 20,-637.01 19.78,-640.01 19.46,-643.01 19.14,-646.01 18.81,-649.01 18.49,-652.01 18.17,-655.01 17.84,-658.01 17.52,-661.01 17.2,-664.01 16.88,-667.01 16.55,-670.01 16.23,-673.01 15.91,-676.01 15.58,-679.01 15.26,-682.01 14.94,-685.01 14.61,-688.01 14.29,-691.01 13.97,-694.01 13.64,-697.01 13.32,-700.01 13,-703.01 12.67,-706.01 12.35,-709.01 12.03,-712.01 11.7,-715.01 11.38,-718.01 11.06,-721.01 10.73,-724.01 10.41,-727.01 10.09,-730.01 9.03,-733.01 7.65,-736.01 6.2,-739.01 4.65,-742.01 2.92,-745.01 0.8,-748.01" fill="url(#g30)" filter="url(#grain)"/>
<rect x="-23.25" y="-270" width="46.5" height="176" fill="url(#g31)" filter="url(#grain)"/>
<path d="M-24.25,-266 Q0,-262 24.25,-274 L24.25,-270 Q0,-258 -24.25,-262 Z" fill="#c9d6e0"/>
<polygon points="-23.3,-95 -23.7,-92.95 -24.25,-90.04 -24.9,-86.62 -25.61,-83.07 -26.32,-79.75 -27,-77 -27.62,-74.87 -28.22,-73.07 -28.82,-71.5 -29.47,-70.04 -30.19,-68.57 -31,-67 -31.81,-65.45 -32.57,-64.04 -33.41,-62.62 -34.43,-61.07 -35.75,-59.25 -37.5,-57 -39.79,-54.25 -42.54,-51.07 -45.59,-47.62 -48.8,-44.04 -51.98,-40.45 -55,-37 -58.06,-33.44 -61.33,-29.59 -64.59,-25.75 -67.61,-22.19 -70.16,-19.18 -72,-17 72,-17 70.16,-19.18 67.61,-22.19 64.59,-25.75 61.33,-29.59 58.06,-33.44 55,-37 51.98,-40.45 48.8,-44.04 45.59,-47.62 42.54,-51.07 39.79,-54.25 37.5,-57 35.75,-59.25 34.43,-61.07 33.41,-62.62 32.57,-64.04 31.81,-65.45 31,-67 30.19,-68.57 29.47,-70.04 28.82,-71.5 28.22,-73.07 27.62,-74.87 27,-77 26.32,-79.75 25.61,-83.07 24.9,-86.62 24.25,-90.04 23.7,-92.95 23.3,-95" fill="url(#g33)" filter="url(#grain)"/>
<polygon points="-36.04,-55 37.2,-55 72,-15 -72,-15" fill="url(#d34)" clip-path="url(#c32)"/>
<rect x="-22.09" y="-79" width="18.6" height="24" fill="#eef3f7" opacity="0.5" clip-path="url(#c32)"/>
<line x1="-27.9" y1="-81" x2="27.9" y2="-83" stroke="#dbe4eb" stroke-width="1.5" opacity="0.8" clip-path="url(#c32)"/>
<path d="M-71,-17.5 L71,-17.5 Q72.5,-16 72,-10.2 Q70,-1.5 56,-0.5 L-56,-0.5 Q-70,-1.5 -72,-10.2 Q-72.5,-16 -71,-17.5 Z" fill="url(#g35)"/>
<path d="M-68,-14.5 Q0,-11 68,-14.5" fill="none" stroke="#dde6ec" stroke-width="1.8" opacity="0.9"/>
<polygon points="15.95,-723.6 15.9,-722.36 15.01,-721.11 13.29,-719.87 10.81,-718.63 7.66,-717.39 4,-716.14 0,-714.9 -4.14,-713.66 -8.2,-712.41 -11.97,-711.17 -15.23,-709.93 -17.81,-708.69 -19.54,-707.44 -20.32,-706.2 -12.65,-700.7 -12.2,-702.06 -11.16,-703.58 -9.58,-705.25 -7.55,-707.03 -5.2,-708.87 -2.64,-710.74 0,-712.52 2.58,-713.26 4.97,-713.93 7.05,-714.62 8.74,-715.4 9.95,-716.3 10.64,-717.34 10.78,-718.53" fill="url(#g37)"/>
<polygon points="15.95,-723.6 15.9,-722.36 15.01,-721.11 13.29,-719.87 10.81,-718.63 7.66,-717.39 4,-716.14 0,-714.9 -4.14,-713.66 -8.2,-712.41 -11.97,-711.17 -15.23,-709.93 -17.81,-708.69 -19.54,-707.44 -20.32,-706.2 -12.65,-710.33 -12.2,-711.48 -11.16,-712.52 -9.58,-713.44 -7.55,-714.28 -5.2,-715.07 -2.64,-715.85 0,-716.69 2.58,-718.31 4.97,-719.98 7.05,-721.63 8.74,-723.22 9.95,-724.73 10.64,-726.12 10.78,-727.4" fill="url(#g36)"/>
<polyline points="15.95,-723.6 15.9,-722.36 15.01,-721.11 13.29,-719.87 10.81,-718.63 7.66,-717.39 4,-716.14 0,-714.9 -4.14,-713.66 -8.2,-712.41 -11.97,-711.17 -15.23,-709.93 -17.81,-708.69 -19.54,-707.44 -20.32,-706.2" fill="none" stroke="#f0f5f9" stroke-width="1.2"/>
<polygon points="23.76,-688.8 23.38,-687.56 21.81,-686.31 19.1,-685.07 15.36,-683.83 10.78,-682.59 5.58,-681.34 0,-680.1 -5.67,-678.86 -11.14,-677.61 -16.14,-676.37 -20.4,-675.13 -23.69,-673.89 -25.82,-672.64 -26.68,-671.4 -16.4,-665.27 -15.86,-666.63 -14.54,-668.17 -12.51,-669.88 -9.89,-671.71 -6.83,-673.63 -3.47,-675.56 0,-677.4 3.41,-678.07 6.59,-678.65 9.39,-679.27 11.67,-679.96 13.33,-680.79 14.29,-681.79 14.53,-682.96" fill="url(#g37)"/>
<polygon points="23.76,-688.8 23.38,-687.56 21.81,-686.31 19.1,-685.07 15.36,-683.83 10.78,-682.59 5.58,-681.34 0,-680.1 -5.67,-678.86 -11.14,-677.61 -16.14,-676.37 -20.4,-675.13 -23.69,-673.89 -25.82,-672.64 -26.68,-671.4 -16.4,-676 -15.86,-677.16 -14.54,-678.17 -12.51,-679.07 -9.89,-679.87 -6.83,-680.6 -3.47,-681.33 0,-682.12 3.41,-683.8 6.59,-685.53 9.39,-687.25 11.67,-688.9 13.33,-690.45 14.29,-691.89 14.53,-693.18" fill="url(#g36)"/>
<polyline points="23.76,-688.8 23.38,-687.56 21.81,-686.31 19.1,-685.07 15.36,-683.83 10.78,-682.59 5.58,-681.34 0,-680.1 -5.67,-678.86 -11.14,-677.61 -16.14,-676.37 -20.4,-675.13 -23.69,-673.89 -25.82,-672.64 -26.68,-671.4" fill="none" stroke="#f0f5f9" stroke-width="1.2"/>
<polygon points="29.26,-654 28.69,-652.76 26.67,-651.51 23.28,-650.27 18.67,-649.03 13.07,-647.79 6.74,-646.54 0,-645.3 -6.81,-644.06 -13.35,-642.81 -19.29,-641.57 -24.32,-640.33 -28.17,-639.09 -30.63,-637.84 -31.58,-636.6 -20,-629.98 -19.5,-631.34 -17.91,-632.91 -15.44,-634.65 -12.23,-636.53 -8.45,-638.49 -4.31,-640.48 0,-642.37 4.25,-642.99 8.22,-643.51 11.73,-644.06 14.6,-644.7 16.71,-645.49 17.95,-646.45 18.28,-647.61" fill="url(#g37)"/>
<polygon points="29.26,-654 28.69,-652.76 26.67,-651.51 23.28,-650.27 18.67,-649.03 13.07,-647.79 6.74,-646.54 0,-645.3 -6.81,-644.06 -13.35,-642.81 -19.29,-641.57 -24.32,-640.33 -28.17,-639.09 -30.63,-637.84 -31.58,-636.6 -20,-641.57 -19.5,-642.72 -17.91,-643.72 -15.44,-644.59 -12.23,-645.35 -8.45,-646.05 -4.31,-646.74 0,-647.5 4.25,-649.21 8.22,-650.99 11.73,-652.76 14.6,-654.45 16.71,-656.03 17.95,-657.49 18.28,-658.79" fill="url(#g36)"/>
<polyline points="29.26,-654 28.69,-652.76 26.67,-651.51 23.28,-650.27 18.67,-649.03 13.07,-647.79 6.74,-646.54 0,-645.3 -6.81,-644.06 -13.35,-642.81 -19.29,-641.57 -24.32,-640.33 -28.17,-639.09 -30.63,-637.84 -31.58,-636.6" fill="none" stroke="#f0f5f9" stroke-width="1.2"/>
<polygon points="33.71,-619.2 33.01,-617.96 30.64,-616.71 26.7,-615.47 21.38,-614.23 14.94,-612.99 7.69,-611.74 0,-610.5 -7.76,-609.26 -15.19,-608.01 -21.82,-606.77 -27.36,-605.53 -31.53,-604.29 -34.12,-603.04 -35,-601.8 -20,-594.84 -19.5,-596.19 -18.02,-597.76 -15.64,-599.51 -12.47,-601.42 -8.68,-603.42 -4.45,-605.45 0,-607.38 4.45,-607.95 8.68,-608.43 12.47,-608.93 15.64,-609.53 18.02,-610.28 19.5,-611.22 20,-612.37" fill="url(#g37)"/>
<polygon points="33.71,-619.2 33.01,-617.96 30.64,-616.71 26.7,-615.47 21.38,-614.23 14.94,-612.99 7.69,-611.74 0,-610.5 -7.76,-609.26 -15.19,-608.01 -21.82,-606.77 -27.36,-605.53 -31.53,-604.29 -34.12,-603.04 -35,-601.8 -20,-607.02 -19.5,-608.18 -18.02,-609.18 -15.64,-610.04 -12.47,-610.79 -8.68,-611.46 -4.45,-612.11 0,-612.84 4.45,-614.58 8.68,-616.41 12.47,-618.2 15.64,-619.93 18.02,-621.54 19.5,-623.01 20,-624.32" fill="url(#g36)"/>
<polyline points="33.71,-619.2 33.01,-617.96 30.64,-616.71 26.7,-615.47 21.38,-614.23 14.94,-612.99 7.69,-611.74 0,-610.5 -7.76,-609.26 -15.19,-608.01 -21.82,-606.77 -27.36,-605.53 -31.53,-604.29 -34.12,-603.04 -35,-601.8" fill="none" stroke="#f0f5f9" stroke-width="1.2"/>
<polygon points="35,-584.4 34.12,-583.16 31.53,-581.91 27.36,-580.67 21.82,-579.43 15.19,-578.19 7.79,-576.94 0,-575.7 -7.79,-574.46 -15.19,-573.21 -21.82,-571.97 -27.36,-570.73 -31.53,-569.49 -34.12,-568.24 -35,-567 -20,-560.04 -19.5,-561.39 -18.02,-562.96 -15.64,-564.71 -12.47,-566.62 -8.68,-568.62 -4.45,-570.65 0,-572.57 4.45,-573.13 8.68,-573.59 12.47,-574.07 15.64,-574.66 18.02,-575.39 19.5,-576.31 20,-577.44" fill="url(#g37)"/>
<polygon points="35,-584.4 34.12,-583.16 31.53,-581.91 27.36,-580.67 21.82,-579.43 15.19,-578.19 7.79,-576.94 0,-575.7 -7.79,-574.46 -15.19,-573.21 -21.82,-571.97 -27.36,-570.73 -31.53,-569.49 -34.12,-568.24 -35,-567 -20,-572.22 -19.5,-573.38 -18.02,-574.38 -15.64,-575.24 -12.47,-575.99 -8.68,-576.66 -4.45,-577.32 0,-578.05 4.45,-579.8 8.68,-581.63 12.47,-583.45 15.64,-585.18 18.02,-586.81 19.5,-588.29 20,-589.62" fill="url(#g36)"/>
<polyline points="35,-584.4 34.12,-583.16 31.53,-581.91 27.36,-580.67 21.82,-579.43 15.19,-578.19 7.79,-576.94 0,-575.7 -7.79,-574.46 -15.19,-573.21 -21.82,-571.97 -27.36,-570.73 -31.53,-569.49 -34.12,-568.24 -35,-567" fill="none" stroke="#f0f5f9" stroke-width="1.2"/>
<polygon points="35,-549.6 34.12,-548.36 31.53,-547.11 27.36,-545.87 21.82,-544.63 15.19,-543.39 7.79,-542.14 0,-540.9 -7.79,-539.66 -15.19,-538.41 -21.82,-537.17 -27.36,-535.93 -31.53,-534.69 -34.12,-533.44 -35,-532.2 -20,-525.24 -19.5,-526.59 -18.02,-528.16 -15.64,-529.91 -12.47,-531.82 -8.68,-533.82 -4.45,-535.85 0,-537.77 4.45,-538.33 8.68,-538.79 12.47,-539.27 15.64,-539.86 18.02,-540.59 19.5,-541.51 20,-542.64" fill="url(#g37)"/>
<polygon points="35,-549.6 34.12,-548.36 31.53,-547.11 27.36,-545.87 21.82,-544.63 15.19,-543.39 7.79,-542.14 0,-540.9 -7.79,-539.66 -15.19,-538.41 -21.82,-537.17 -27.36,-535.93 -31.53,-534.69 -34.12,-533.44 -35,-532.2 -20,-537.42 -19.5,-538.58 -18.02,-539.58 -15.64,-540.44 -12.47,-541.19 -8.68,-541.86 -4.45,-542.52 0,-543.25 4.45,-545 8.68,-546.83 12.47,-548.65 15.64,-550.38 18.02,-552.01 19.5,-553.49 20,-554.82" fill="url(#g36)"/>
<polyline points="35,-549.6 34.12,-548.36 31.53,-547.11 27.36,-545.87 21.82,-544.63 15.19,-543.39 7.79,-542.14 0,-540.9 -7.79,-539.66 -15.19,-538.41 -21.82,-537.17 -27.36,-535.93 -31.53,-534.69 -34.12,-533.44 -35,-532.2" fill="none" stroke="#f0f5f9" stroke-width="1.2"/>
<polygon points="35,-514.8 34.12,-513.56 31.53,-512.31 27.36,-511.07 21.82,-509.83 15.19,-508.59 7.79,-507.34 0,-506.1 -7.79,-504.86 -15.19,-503.61 -21.82,-502.37 -27.36,-501.13 -31.53,-499.89 -34.12,-498.64 -35,-497.4 -20,-490.44 -19.5,-491.79 -18.02,-493.36 -15.64,-495.11 -12.47,-497.02 -8.68,-499.02 -4.45,-501.05 0,-502.97 4.45,-503.53 8.68,-503.99 12.47,-504.47 15.64,-505.06 18.02,-505.79 19.5,-506.71 20,-507.84" fill="url(#g37)"/>
<polygon points="35,-514.8 34.12,-513.56 31.53,-512.31 27.36,-511.07 21.82,-509.83 15.19,-508.59 7.79,-507.34 0,-506.1 -7.79,-504.86 -15.19,-503.61 -21.82,-502.37 -27.36,-501.13 -31.53,-499.89 -34.12,-498.64 -35,-497.4 -20,-502.62 -19.5,-503.78 -18.02,-504.78 -15.64,-505.64 -12.47,-506.39 -8.68,-507.06 -4.45,-507.72 0,-508.45 4.45,-510.2 8.68,-512.03 12.47,-513.85 15.64,-515.58 18.02,-517.21 19.5,-518.69 20,-520.02" fill="url(#g36)"/>
<polyline points="35,-514.8 34.12,-513.56 31.53,-512.31 27.36,-511.07 21.82,-509.83 15.19,-508.59 7.79,-507.34 0,-506.1 -7.79,-504.86 -15.19,-503.61 -21.82,-502.37 -27.36,-501.13 -31.53,-499.89 -34.12,-498.64 -35,-497.4" fill="none" stroke="#f0f5f9" stroke-width="1.2"/>
<polygon points="35,-480 34.12,-478.76 31.53,-477.51 27.36,-476.27 21.82,-475.03 15.19,-473.79 7.79,-472.54 0,-471.3 -7.79,-470.06 -15.19,-468.81 -21.82,-467.57 -27.36,-466.33 -31.53,-465.09 -34.12,-463.84 -35,-462.6 -20,-455.64 -19.5,-456.99 -18.02,-458.56 -15.64,-460.31 -12.47,-462.22 -8.68,-464.22 -4.45,-466.25 0,-468.17 4.45,-468.73 8.68,-469.19 12.47,-469.67 15.64,-470.26 18.02,-470.99 19.5,-471.91 20,-473.04" fill="url(#g37)"/>
<polygon points="35,-480 34.12,-478.76 31.53,-477.51 27.36,-476.27 21.82,-475.03 15.19,-473.79 7.79,-472.54 0,-471.3 -7.79,-470.06 -15.19,-468.81 -21.82,-467.57 -27.36,-466.33 -31.53,-465.09 -34.12,-463.84 -35,-462.6 -20,-467.82 -19.5,-468.98 -18.02,-469.98 -15.64,-470.84 -12.47,-471.59 -8.68,-472.26 -4.45,-472.92 0,-473.65 4.45,-475.4 8.68,-477.23 12.47,-479.05 15.64,-480.78 18.02,-482.41 19.5,-483.89 20,-485.22" fill="url(#g36)"/>
<polyline points="35,-480 34.12,-478.76 31.53,-477.51 27.36,-476.27 21.82,-475.03 15.19,-473.79 7.79,-472.54 0,-471.3 -7.79,-470.06 -15.19,-468.81 -21.82,-467.57 -27.36,-466.33 -31.53,-465.09 -34.12,-463.84 -35,-462.6" fill="none" stroke="#f0f5f9" stroke-width="1.2"/>
<polygon points="35,-445.2 34.12,-443.96 31.53,-442.71 27.36,-441.47 21.82,-440.23 15.19,-438.99 7.79,-437.74 0,-436.5 -7.79,-435.26 -15.19,-434.01 -21.82,-432.77 -27.36,-431.53 -31.53,-430.29 -34.12,-429.04 -35,-427.8 -20,-420.84 -19.5,-422.19 -18.02,-423.76 -15.64,-425.51 -12.47,-427.42 -8.68,-429.42 -4.45,-431.45 0,-433.37 4.45,-433.93 8.68,-434.39 12.47,-434.87 15.64,-435.46 18.02,-436.19 19.5,-437.11 20,-438.24" fill="url(#g37)"/>
<polygon points="35,-445.2 34.12,-443.96 31.53,-442.71 27.36,-441.47 21.82,-440.23 15.19,-438.99 7.79,-437.74 0,-436.5 -7.79,-435.26 -15.19,-434.01 -21.82,-432.77 -27.36,-431.53 -31.53,-430.29 -34.12,-429.04 -35,-427.8 -20,-433.02 -19.5,-434.18 -18.02,-435.18 -15.64,-436.04 -12.47,-436.79 -8.68,-437.46 -4.45,-438.12 0,-438.85 4.45,-440.6 8.68,-442.43 12.47,-444.25 15.64,-445.98 18.02,-447.61 19.5,-449.09 20,-450.42" fill="url(#g36)"/>
<polyline points="35,-445.2 34.12,-443.96 31.53,-442.71 27.36,-441.47 21.82,-440.23 15.19,-438.99 7.79,-437.74 0,-436.5 -7.79,-435.26 -15.19,-434.01 -21.82,-432.77 -27.36,-431.53 -31.53,-430.29 -34.12,-429.04 -35,-427.8" fill="none" stroke="#f0f5f9" stroke-width="1.2"/>
<polygon points="35,-410.4 34.12,-409.16 31.53,-407.91 27.36,-406.67 21.82,-405.43 15.19,-404.19 7.79,-402.94 0,-401.7 -7.79,-400.46 -15.19,-399.21 -21.82,-397.97 -27.36,-396.73 -31.53,-395.49 -34.12,-394.24 -35,-393 -20,-386.04 -19.5,-387.39 -18.02,-388.96 -15.64,-390.71 -12.47,-392.62 -8.68,-394.62 -4.45,-396.65 0,-398.57 4.45,-399.13 8.68,-399.59 12.47,-400.07 15.64,-400.66 18.02,-401.39 19.5,-402.31 20,-403.44" fill="url(#g37)"/>
<polygon points="35,-410.4 34.12,-409.16 31.53,-407.91 27.36,-406.67 21.82,-405.43 15.19,-404.19 7.79,-402.94 0,-401.7 -7.79,-400.46 -15.19,-399.21 -21.82,-397.97 -27.36,-396.73 -31.53,-395.49 -34.12,-394.24 -35,-393 -20,-398.22 -19.5,-399.38 -18.02,-400.38 -15.64,-401.24 -12.47,-401.99 -8.68,-402.66 -4.45,-403.32 0,-404.05 4.45,-405.8 8.68,-407.63 12.47,-409.45 15.64,-411.18 18.02,-412.81 19.5,-414.29 20,-415.62" fill="url(#g36)"/>
<polyline points="35,-410.4 34.12,-409.16 31.53,-407.91 27.36,-406.67 21.82,-405.43 15.19,-404.19 7.79,-402.94 0,-401.7 -7.79,-400.46 -15.19,-399.21 -21.82,-397.97 -27.36,-396.73 -31.53,-395.49 -34.12,-394.24 -35,-393" fill="none" stroke="#f0f5f9" stroke-width="1.2"/>
<polygon points="35,-375.6 34.12,-374.36 31.53,-373.11 27.36,-371.87 21.82,-370.63 15.19,-369.39 7.79,-368.14 0,-366.9 -7.79,-365.66 -15.19,-364.41 -21.82,-363.17 -27.36,-361.93 -31.53,-360.69 -34.12,-359.44 -35,-358.2 -20,-351.24 -19.5,-352.59 -18.02,-354.16 -15.64,-355.91 -12.47,-357.82 -8.68,-359.82 -4.45,-361.85 0,-363.77 4.45,-364.33 8.68,-364.79 12.47,-365.27 15.64,-365.86 18.02,-366.59 19.5,-367.51 20,-368.64" fill="url(#g37)"/>
<polygon points="35,-375.6 34.12,-374.36 31.53,-373.11 27.36,-371.87 21.82,-370.63 15.19,-369.39 7.79,-368.14 0,-366.9 -7.79,-365.66 -15.19,-364.41 -21.82,-363.17 -27.36,-361.93 -31.53,-360.69 -34.12,-359.44 -35,-358.2 -20,-363.42 -19.5,-364.58 -18.02,-365.58 -15.64,-366.44 -12.47,-367.19 -8.68,-367.86 -4.45,-368.52 0,-369.25 4.45,-371 8.68,-372.83 12.47,-374.65 15.64,-376.38 18.02,-378.01 19.5,-379.49 20,-380.82" fill="url(#g36)"/>
<polyline points="35,-375.6 34.12,-374.36 31.53,-373.11 27.36,-371.87 21.82,-370.63 15.19,-369.39 7.79,-368.14 0,-366.9 -7.79,-365.66 -15.19,-364.41 -21.82,-363.17 -27.36,-361.93 -31.53,-360.69 -34.12,-359.44 -35,-358.2" fill="none" stroke="#f0f5f9" stroke-width="1.2"/>
<polygon points="35,-340.8 34.12,-339.56 31.53,-338.31 27.36,-337.07 21.82,-335.83 15.19,-334.59 7.79,-333.34 0,-332.1 -7.79,-330.86 -15.19,-329.61 -21.82,-328.37 -27.36,-327.13 -31.53,-325.89 -34.12,-324.64 -35,-323.4 -20,-316.44 -19.5,-317.79 -18.02,-319.36 -15.64,-321.11 -12.47,-323.02 -8.68,-325.02 -4.45,-327.05 0,-328.97 4.45,-329.53 8.68,-329.99 12.47,-330.47 15.64,-331.06 18.02,-331.79 19.5,-332.71 20,-333.84" fill="url(#g37)"/>
<polygon points="35,-340.8 34.12,-339.56 31.53,-338.31 27.36,-337.07 21.82,-335.83 15.19,-334.59 7.79,-333.34 0,-332.1 -7.79,-330.86 -15.19,-329.61 -21.82,-328.37 -27.36,-327.13 -31.53,-325.89 -34.12,-324.64 -35,-323.4 -20,-328.62 -19.5,-329.78 -18.02,-330.78 -15.64,-331.64 -12.47,-332.39 -8.68,-333.06 -4.45,-333.72 0,-334.45 4.45,-336.2 8.68,-338.03 12.47,-339.85 15.64,-341.58 18.02,-343.21 19.5,-344.69 20,-346.02" fill="url(#g36)"/>
<polyline points="35,-340.8 34.12,-339.56 31.53,-338.31 27.36,-337.07 21.82,-335.83 15.19,-334.59 7.79,-333.34 0,-332.1 -7.79,-330.86 -15.19,-329.61 -21.82,-328.37 -27.36,-327.13 -31.53,-325.89 -34.12,-324.64 -35,-323.4" fill="none" stroke="#f0f5f9" stroke-width="1.2"/>
<polygon points="35,-306 34.12,-304.76 31.53,-303.51 27.36,-302.27 21.82,-301.03 15.19,-299.79 7.79,-298.54 0,-297.3 -7.79,-296.06 -15.19,-294.81 -21.82,-293.57 -27.36,-292.33 -31.53,-291.09 -34.12,-289.84 -35,-288.6 -20,-281.64 -19.5,-282.99 -18.02,-284.56 -15.64,-286.31 -12.47,-288.22 -8.68,-290.22 -4.45,-292.25 0,-294.17 4.45,-294.73 8.68,-295.19 12.47,-295.67 15.64,-296.26 18.02,-296.99 19.5,-297.91 20,-299.04" fill="url(#g37)"/>
<polygon points="35,-306 34.12,-304.76 31.53,-303.51 27.36,-302.27 21.82,-301.03 15.19,-299.79 7.79,-298.54 0,-297.3 -7.79,-296.06 -15.19,-294.81 -21.82,-293.57 -27.36,-292.33 -31.53,-291.09 -34.12,-289.84 -35,-288.6 -20,-293.82 -19.5,-294.98 -18.02,-295.98 -15.64,-296.84 -12.47,-297.59 -8.68,-298.26 -4.45,-298.92 0,-299.65 4.45,-301.4 8.68,-303.23 12.47,-305.05 15.64,-306.78 18.02,-308.41 19.5,-309.89 20,-311.22" fill="url(#g36)"/>
<polyline points="35,-306 34.12,-304.76 31.53,-303.51 27.36,-302.27 21.82,-301.03 15.19,-299.79 7.79,-298.54 0,-297.3 -7.79,-296.06 -15.19,-294.81 -21.82,-293.57 -27.36,-292.33 -31.53,-291.09 -34.12,-289.84 -35,-288.6" fill="none" stroke="#f0f5f9" stroke-width="1.2"/>
</g>
<g transform="translate(1297.5,1158) rotate(0.88)">
<polygon points="-0.8,-941.11 -3.35,-938.11 -5.2,-935.11 -6.86,-932.11 -8.42,-929.11 -9.9,-926.11 -11.32,-923.11 -12.69,-920.11 -14.03,-917.11 -14.6,-914.11 -15.03,-911.11 -15.45,-908.11 -15.88,-905.11 -16.3,-902.11 -16.73,-899.11 -17.16,-896.11 -17.58,-893.11 -18.01,-890.11 -18.43,-887.11 -18.86,-884.11 -19.28,-881.11 -19.71,-878.11 -20.13,-875.11 -20.56,-872.11 -20.98,-869.11 -21.41,-866.11 -21.84,-863.11 -22.26,-860.11 -22.69,-857.11 -23.11,-854.11 -23.54,-851.11 -23.96,-848.11 -24.39,-845.11 -24.81,-842.11 -25.24,-839.11 -25.66,-836.11 -26.09,-833.11 -26.51,-830.11 -26.94,-827.11 -27.37,-824.11 -27.79,-821.11 -28.22,-818.11 -28.5,-815.11 -28.5,-812.11 -28.5,-809.11 -28.5,-806.11 -28.5,-803.11 -28.5,-800.11 -28.5,-797.11 -28.5,-794.11 -28.5,-791.11 -28.5,-788.11 -28.5,-785.11 -28.5,-782.11 -28.5,-779.11 -28.5,-776.11 -28.5,-773.11 -28.5,-770.11 -28.5,-767.11 -28.5,-764.11 -28.5,-761.11 -28.5,-758.11 -28.5,-755.11 -28.5,-752.11 -28.5,-749.11 -28.5,-746.11 -28.5,-743.11 -28.5,-740.11 -28.5,-737.11 -28.5,-734.11 -28.5,-731.11 -28.5,-728.11 -28.5,-725.11 -28.5,-722.11 -28.5,-719.11 -28.5,-716.11 -28.5,-713.11 -28.5,-710.11 -28.5,-707.11 -28.5,-704.11 -28.5,-701.11 -28.5,-698.11 -28.5,-695.11 -28.5,-692.11 -28.5,-689.11 -28.5,-686.11 -28.5,-683.11 -28.5,-680.11 -28.5,-677.11 -28.5,-674.11 -28.5,-671.11 -28.5,-668.11 -28.5,-665.11 -28.5,-662.11 -28.5,-659.11 -28.5,-656.11 -28.5,-653.11 -28.5,-650.11 -28.5,-647.11 -28.5,-644.11 -28.5,-641.11 -28.5,-638.11 -28.5,-635.11 -28.5,-632.11 -28.5,-629.11 -28.5,-626.11 -28.5,-623.11 -28.5,-620.11 -28.5,-617.11 -28.5,-614.11 -28.5,-611.11 -28.5,-608.11 -28.5,-605.11 -28.5,-602.11 -28.5,-599.11 -28.5,-596.11 -28.5,-593.11 -28.5,-590.11 -28.5,-587.11 -28.5,-584.11 -28.5,-581.11 -28.5,-578.11 -28.5,-575.11 -28.5,-572.11 -28.5,-569.11 -28.5,-566.11 -28.5,-563.11 -28.5,-560.11 -28.5,-557.11 -28.5,-554.11 -28.5,-551.11 -28.5,-548.11 -28.5,-545.11 -28.5,-542.11 -28.5,-539.11 -28.5,-536.11 -28.5,-533.11 -28.5,-530.11 -28.5,-527.11 -28.5,-524.11 -28.5,-521.11 -28.5,-518.11 -28.5,-515.11 -28.5,-512.11 -28.5,-509.11 -28.5,-506.11 -28.5,-503.11 -28.5,-500.11 -28.5,-497.11 -28.5,-494.11 -28.5,-491.11 -28.5,-488.11 -28.5,-485.11 -28.5,-482.11 -28.5,-479.11 -28.5,-476.11 -28.5,-473.11 -28.5,-470.11 -28.5,-467.11 -28.5,-464.11 -28.5,-461.11 -28.5,-458.11 -28.5,-455.11 -28.5,-452.11 -28.5,-449.11 -28.5,-446.11 -28.5,-443.11 -28.5,-440.11 -28.5,-437.11 -28.5,-434.11 -28.5,-431.11 -28.5,-428.11 -28.5,-425.11 -28.5,-422.11 -28.5,-419.11 -28.5,-416.11 -28.5,-413.11 -28.5,-410.11 -28.5,-407.11 -28.5,-404.11 -28.5,-401.11 -28.5,-398.11 -28.5,-395.11 -28.5,-392.11 -28.5,-389.11 -28.5,-386.11 -28.5,-383.11 -28.5,-380.11 -28.5,-377.11 -28.5,-374.11 -28.5,-371.11 -28.5,-368.11 -28.5,-365.11 -28.5,-362.11 -28.5,-359.11 -28.5,-356.11 -28.5,-353.11 -28.5,-350.11 -28.5,-347.11 -28.5,-344.11 -28.5,-341.11 -28.5,-338.11 -28.5,-335.11 -28.5,-332.11 -28.5,-329.11 -28.5,-326.11 -28.5,-323.11 -28.5,-320.11 -28.5,-317.11 -28.5,-314.11 -28.5,-311.11 -28.5,-308.11 -28.5,-305.11 -28.5,-302.11 -28.5,-299.11 -28.5,-296.11 -28.5,-293.11 -28.5,-290.11 -28.5,-287.11 -28.5,-284.11 -28.5,-281.11 -28.5,-278.11 -28.5,-275.11 -28.5,-272.11 -28.5,-269.11 -28.5,-266.11 -28.5,-263.11 -28.5,-260.11 -28.5,-257.11 -28.5,-254.11 -28.5,-251.11 -28.5,-248.11 -28.5,-245.11 -28.5,-242.11 -28.5,-239.11 -28.5,-236 28.5,-236 28.5,-239.11 28.5,-242.11 28.5,-245.11 28.5,-248.11 28.5,-251.11 28.5,-254.11 28.5,-257.11 28.5,-260.11 28.5,-263.11 28.5,-266.11 28.5,-269.11 28.5,-272.11 28.5,-275.11 28.5,-278.11 28.5,-281.11 28.5,-284.11 28.5,-287.11 28.5,-290.11 28.5,-293.11 28.5,-296.11 28.5,-299.11 28.5,-302.11 28.5,-305.11 28.5,-308.11 28.5,-311.11 28.5,-314.11 28.5,-317.11 28.5,-320.11 28.5,-323.11 28.5,-326.11 28.5,-329.11 28.5,-332.11 28.5,-335.11 28.5,-338.11 28.5,-341.11 28.5,-344.11 28.5,-347.11 28.5,-350.11 28.5,-353.11 28.5,-356.11 28.5,-359.11 28.5,-362.11 28.5,-365.11 28.5,-368.11 28.5,-371.11 28.5,-374.11 28.5,-377.11 28.5,-380.11 28.5,-383.11 28.5,-386.11 28.5,-389.11 28.5,-392.11 28.5,-395.11 28.5,-398.11 28.5,-401.11 28.5,-404.11 28.5,-407.11 28.5,-410.11 28.5,-413.11 28.5,-416.11 28.5,-419.11 28.5,-422.11 28.5,-425.11 28.5,-428.11 28.5,-431.11 28.5,-434.11 28.5,-437.11 28.5,-440.11 28.5,-443.11 28.5,-446.11 28.5,-449.11 28.5,-452.11 28.5,-455.11 28.5,-458.11 28.5,-461.11 28.5,-464.11 28.5,-467.11 28.5,-470.11 28.5,-473.11 28.5,-476.11 28.5,-479.11 28.5,-482.11 28.5,-485.11 28.5,-488.11 28.5,-491.11 28.5,-494.11 28.5,-497.11 28.5,-500.11 28.5,-503.11 28.5,-506.11 28.5,-509.11 28.5,-512.11 28.5,-515.11 28.5,-518.11 28.5,-521.11 28.5,-524.11 28.5,-527.11 28.5,-530.11 28.5,-533.11 28.5,-536.11 28.5,-539.11 28.5,-542.11 28.5,-545.11 28.5,-548.11 28.5,-551.11 28.5,-554.11 28.5,-557.11 28.5,-560.11 28.5,-563.11 28.5,-566.11 28.5,-569.11 28.5,-572.11 28.5,-575.11 28.5,-578.11 28.5,-581.11 28.5,-584.11 28.5,-587.11 28.5,-590.11 28.5,-593.11 28.5,-596.11 28.5,-599.11 28.5,-602.11 28.5,-605.11 28.5,-608.11 28.5,-611.11 28.5,-614.11 28.5,-617.11 28.5,-620.11 28.5,-623.11 28.5,-626.11 28.5,-629.11 28.5,-632.11 28.5,-635.11 28.5,-638.11 28.5,-641.11 28.5,-644.11 28.5,-647.11 28.5,-650.11 28.5,-653.11 28.5,-656.11 28.5,-659.11 28.5,-662.11 28.5,-665.11 28.5,-668.11 28.5,-671.11 28.5,-674.11 28.5,-677.11 28.5,-680.11 28.5,-683.11 28.5,-686.11 28.5,-689.11 28.5,-692.11 28.5,-695.11 28.5,-698.11 28.5,-701.11 28.5,-704.11 28.5,-707.11 28.5,-710.11 28.5,-713.11 28.5,-716.11 28.5,-719.11 28.5,-722.11 28.5,-725.11 28.5,-728.11 28.5,-731.11 28.5,-734.11 28.5,-737.11 28.5,-740.11 28.5,-743.11 28.5,-746.11 28.5,-749.11 28.5,-752.11 28.5,-755.11 28.5,-758.11 28.5,-761.11 28.5,-764.11 28.5,-767.11 28.5,-770.11 28.5,-773.11 28.5,-776.11 28.5,-779.11 28.5,-782.11 28.5,-785.11 28.5,-788.11 28.5,-791.11 28.5,-794.11 28.5,-797.11 28.5,-800.11 28.5,-803.11 28.5,-806.11 28.5,-809.11 28.5,-812.11 28.5,-815.11 28.22,-818.11 27.79,-821.11 27.37,-824.11 26.94,-827.11 26.51,-830.11 26.09,-833.11 25.66,-836.11 25.24,-839.11 24.81,-842.11 24.39,-845.11 23.96,-848.11 23.54,-851.11 23.11,-854.11 22.69,-857.11 22.26,-860.11 21.84,-863.11 21.41,-866.11 20.98,-869.11 20.56,-872.11 20.13,-875.11 19.71,-878.11 19.28,-881.11 18.86,-884.11 18.43,-887.11 18.01,-890.11 17.58,-893.11 17.16,-896.11 16.73,-899.11 16.3,-902.11 15.88,-905.11 15.45,-908.11 15.03,-911.11 14.6,-914.11 14.03,-917.11 12.69,-920.11 11.32,-923.11 9.9,-926.11 8.42,-929.11 6.86,-932.11 5.2,-935.11 3.35,-938.11 0.8,-941.11" fill="url(#g38)" filter="url(#grain)"/>
<rect x="-32.5" y="-239" width="65" height="128" fill="url(#g39)" filter="url(#grain)"/>
<path d="M-33.5,-235 Q0,-231 33.5,-243 L33.5,-239 Q0,-227 -33.5,-231 Z" fill="#c9d6e0"/>
<polygon points="-32.5,-112 -32.81,-109.28 -33.22,-105.44 -33.72,-100.94 -34.28,-96.22 -34.88,-91.76 -35.5,-88 -36.12,-84.98 -36.76,-82.33 -37.44,-79.94 -38.19,-77.67 -39.03,-75.4 -40,-73 -41.02,-70.56 -42.04,-68.19 -43.16,-65.81 -44.46,-63.37 -46.05,-60.79 -48,-58 -50.37,-54.97 -53.09,-51.74 -56.09,-48.38 -59.3,-44.93 -62.62,-41.45 -66,-38 -69.75,-34.31 -74,-30.3 -78.38,-26.25 -82.5,-22.48 -86,-19.3 -88.5,-17 88.5,-17 86,-19.3 82.5,-22.48 78.38,-26.25 74,-30.3 69.75,-34.31 66,-38 62.62,-41.45 59.3,-44.93 56.09,-48.38 53.09,-51.74 50.37,-54.97 48,-58 46.05,-60.79 44.46,-63.37 43.16,-65.81 42.04,-68.19 41.02,-70.56 40,-73 39.03,-75.4 38.19,-77.67 37.44,-79.94 36.76,-82.33 36.12,-84.98 35.5,-88 34.88,-91.76 34.28,-96.22 33.72,-100.94 33.22,-105.44 32.81,-109.28 32.5,-112" fill="url(#g41)" filter="url(#grain)"/>
<polygon points="-50.38,-56 52,-56 88.5,-15 -88.5,-15" fill="url(#d42)" clip-path="url(#c40)"/>
<rect x="-30.88" y="-80" width="26" height="24" fill="#eef3f7" opacity="0.5" clip-path="url(#c40)"/>
<line x1="-39" y1="-82" x2="39" y2="-84" stroke="#dbe4eb" stroke-width="1.5" opacity="0.8" clip-path="url(#c40)"/>
<path d="M-87.5,-17.5 L87.5,-17.5 Q89,-16 88.5,-10.2 Q86.5,-1.5 72.5,-0.5 L-72.5,-0.5 Q-86.5,-1.5 -88.5,-10.2 Q-89,-16 -87.5,-17.5 Z" fill="url(#g43)"/>
<path d="M-84.5,-14.5 Q0,-11 84.5,-14.5" fill="none" stroke="#dde6ec" stroke-width="1.8" opacity="0.9"/>
<polygon points="30.76,-894.8 30.43,-893.27 28.53,-891.74 25.1,-890.21 20.28,-888.69 14.3,-887.16 7.43,-885.63 0,-884.1 -7.61,-882.57 -15.01,-881.04 -21.81,-879.51 -27.65,-877.99 -32.21,-876.46 -35.22,-874.93 -36.5,-873.4 -20.38,-866.32 -19.65,-867.99 -17.97,-869.88 -15.42,-871.95 -12.16,-874.17 -8.37,-876.48 -4.24,-878.8 0,-881.02 4.15,-881.9 7.99,-882.69 11.35,-883.51 14.07,-884.43 16.01,-885.5 17.12,-886.76 17.34,-888.22" fill="url(#g45)"/>
<polygon points="30.76,-894.8 30.43,-893.27 28.53,-891.74 25.1,-890.21 20.28,-888.69 14.3,-887.16 7.43,-885.63 0,-884.1 -7.61,-882.57 -15.01,-881.04 -21.81,-879.51 -27.65,-877.99 -32.21,-876.46 -35.22,-874.93 -36.5,-873.4 -20.38,-878.91 -19.65,-880.33 -17.97,-881.58 -15.42,-882.68 -12.16,-883.67 -8.37,-884.6 -4.24,-885.5 0,-886.5 4.15,-888.53 7.99,-890.64 11.35,-892.71 14.07,-894.72 16.01,-896.6 17.12,-898.34 17.34,-899.91" fill="url(#g44)"/>
<polyline points="30.76,-894.8 30.43,-893.27 28.53,-891.74 25.1,-890.21 20.28,-888.69 14.3,-887.16 7.43,-885.63 0,-884.1 -7.61,-882.57 -15.01,-881.04 -21.81,-879.51 -27.65,-877.99 -32.21,-876.46 -35.22,-874.93 -36.5,-873.4" fill="none" stroke="#f0f5f9" stroke-width="1.2"/>
<polygon points="41.3,-852 40.57,-850.47 37.78,-848.94 33.03,-847.41 26.53,-845.89 18.6,-844.36 9.6,-842.83 0,-841.3 -9.68,-839.77 -18.87,-838.24 -27.12,-836.71 -34.01,-835.19 -39.19,-833.66 -42.41,-832.13 -43.5,-830.6 -26.45,-822.9 -25.57,-824.55 -23.44,-826.43 -20.17,-828.53 -15.95,-830.79 -11,-833.15 -5.6,-835.55 0,-837.83 5.5,-838.63 10.63,-839.31 15.14,-840.02 18.81,-840.85 21.48,-841.85 23.04,-843.05 23.41,-844.49" fill="url(#g45)"/>
<polygon points="41.3,-852 40.57,-850.47 37.78,-848.94 33.03,-847.41 26.53,-845.89 18.6,-844.36 9.6,-842.83 0,-841.3 -9.68,-839.77 -18.87,-838.24 -27.12,-836.71 -34.01,-835.19 -39.19,-833.66 -42.41,-832.13 -43.5,-830.6 -26.45,-836.59 -25.57,-838.03 -23.44,-839.28 -20.17,-840.37 -15.95,-841.32 -11,-842.2 -5.6,-843.05 0,-844 5.5,-846.1 10.63,-848.29 15.14,-850.45 18.81,-852.52 21.48,-854.46 23.04,-856.24 23.41,-857.84" fill="url(#g44)"/>
<polyline points="41.3,-852 40.57,-850.47 37.78,-848.94 33.03,-847.41 26.53,-845.89 18.6,-844.36 9.6,-842.83 0,-841.3 -9.68,-839.77 -18.87,-838.24 -27.12,-836.71 -34.01,-835.19 -39.19,-833.66 -42.41,-832.13 -43.5,-830.6" fill="none" stroke="#f0f5f9" stroke-width="1.2"/>
<polygon points="43.5,-809.2 42.41,-807.67 39.19,-806.14 34.01,-804.61 27.12,-803.09 18.87,-801.56 9.68,-800.03 0,-798.5 -9.68,-796.97 -18.87,-795.44 -27.12,-793.91 -34.01,-792.39 -39.19,-790.86 -42.41,-789.33 -43.5,-787.8 -28.5,-780.1 -27.79,-781.75 -25.68,-783.63 -22.28,-785.73 -17.77,-787.99 -12.37,-790.35 -6.34,-792.75 0,-795.03 6.34,-795.81 12.37,-796.47 17.77,-797.16 22.28,-797.95 25.68,-798.92 27.79,-800.09 28.5,-801.5" fill="url(#g45)"/>
<polygon points="43.5,-809.2 42.41,-807.67 39.19,-806.14 34.01,-804.61 27.12,-803.09 18.87,-801.56 9.68,-800.03 0,-798.5 -9.68,-796.97 -18.87,-795.44 -27.12,-793.91 -34.01,-792.39 -39.19,-790.86 -42.41,-789.33 -43.5,-787.8 -28.5,-793.79 -27.79,-795.23 -25.68,-796.48 -22.28,-797.57 -17.77,-798.52 -12.37,-799.4 -6.34,-800.25 0,-801.2 6.34,-803.31 12.37,-805.52 17.77,-807.7 22.28,-809.79 25.68,-811.76 27.79,-813.57 28.5,-815.19" fill="url(#g44)"/>
<polyline points="43.5,-809.2 42.41,-807.67 39.19,-806.14 34.01,-804.61 27.12,-803.09 18.87,-801.56 9.68,-800.03 0,-798.5 -9.68,-796.97 -18.87,-795.44 -27.12,-793.91 -34.01,-792.39 -39.19,-790.86 -42.41,-789.33 -43.5,-787.8" fill="none" stroke="#f0f5f9" stroke-width="1.2"/>
<polygon points="43.5,-766.4 42.41,-764.87 39.19,-763.34 34.01,-761.81 27.12,-760.29 18.87,-758.76 9.68,-757.23 0,-755.7 -9.68,-754.17 -18.87,-752.64 -27.12,-751.11 -34.01,-749.59 -39.19,-748.06 -42.41,-746.53 -43.5,-745 -28.5,-737.3 -27.79,-738.95 -25.68,-740.83 -22.28,-742.93 -17.77,-745.19 -12.37,-747.55 -6.34,-749.95 0,-752.23 6.34,-753.01 12.37,-753.67 17.77,-754.36 22.28,-755.15 25.68,-756.12 27.79,-757.29 28.5,-758.7" fill="url(#g45)"/>
<polygon points="43.5,-766.4 42.41,-764.87 39.19,-763.34 34.01,-761.81 27.12,-760.29 18.87,-758.76 9.68,-757.23 0,-755.7 -9.68,-754.17 -18.87,-752.64 -27.12,-751.11 -34.01,-749.59 -39.19,-748.06 -42.41,-746.53 -43.5,-745 -28.5,-750.99 -27.79,-752.43 -25.68,-753.68 -22.28,-754.77 -17.77,-755.72 -12.37,-756.6 -6.34,-757.45 0,-758.4 6.34,-760.51 12.37,-762.72 17.77,-764.9 22.28,-766.99 25.68,-768.96 27.79,-770.77 28.5,-772.39" fill="url(#g44)"/>
<polyline points="43.5,-766.4 42.41,-764.87 39.19,-763.34 34.01,-761.81 27.12,-760.29 18.87,-758.76 9.68,-757.23 0,-755.7 -9.68,-754.17 -18.87,-752.64 -27.12,-751.11 -34.01,-749.59 -39.19,-748.06 -42.41,-746.53 -43.5,-745" fill="none" stroke="#f0f5f9" stroke-width="1.2"/>
<polygon points="43.5,-723.6 42.41,-722.07 39.19,-720.54 34.01,-719.01 27.12,-717.49 18.87,-715.96 9.68,-714.43 0,-712.9 -9.68,-711.37 -18.87,-709.84 -27.12,-708.31 -34.01,-706.79 -39.19,-705.26 -42.41,-703.73 -43.5,-702.2 -28.5,-694.5 -27.79,-696.15 -25.68,-698.03 -22.28,-700.13 -17.77,-702.39 -12.37,-704.75 -6.34,-707.15 0,-709.43 6.34,-710.21 12.37,-710.87 17.77,-711.56 22.28,-712.35 25.68,-713.32 27.79,-714.49 28.5,-715.9" fill="url(#g45)"/>
<polygon points="43.5,-723.6 42.41,-722.07 39.19,-720.54 34.01,-719.01 27.12,-717.49 18.87,-715.96 9.68,-714.43 0,-712.9 -9.68,-711.37 -18.87,-709.84 -27.12,-708.31 -34.01,-706.79 -39.19,-705.26 -42.41,-703.73 -43.5,-702.2 -28.5,-708.19 -27.79,-709.63 -25.68,-710.88 -22.28,-711.97 -17.77,-712.92 -12.37,-713.8 -6.34,-714.65 0,-715.6 6.34,-717.71 12.37,-719.92 17.77,-722.1 22.28,-724.19 25.68,-726.16 27.79,-727.97 28.5,-729.59" fill="url(#g44)"/>
<polyline points="43.5,-723.6 42.41,-722.07 39.19,-720.54 34.01,-719.01 27.12,-717.49 18.87,-715.96 9.68,-714.43 0,-712.9 -9.68,-711.37 -18.87,-709.84 -27.12,-708.31 -34.01,-706.79 -39.19,-705.26 -42.41,-703.73 -43.5,-702.2" fill="none" stroke="#f0f5f9" stroke-width="1.2"/>
<polygon points="43.5,-680.8 42.41,-679.27 39.19,-677.74 34.01,-676.21 27.12,-674.69 18.87,-673.16 9.68,-671.63 0,-670.1 -9.68,-668.57 -18.87,-667.04 -27.12,-665.51 -34.01,-663.99 -39.19,-662.46 -42.41,-660.93 -43.5,-659.4 -28.5,-651.7 -27.79,-653.35 -25.68,-655.23 -22.28,-657.33 -17.77,-659.59 -12.37,-661.95 -6.34,-664.35 0,-666.63 6.34,-667.41 12.37,-668.07 17.77,-668.76 22.28,-669.55 25.68,-670.52 27.79,-671.69 28.5,-673.1" fill="url(#g45)"/>
<polygon points="43.5,-680.8 42.41,-679.27 39.19,-677.74 34.01,-676.21 27.12,-674.69 18.87,-673.16 9.68,-671.63 0,-670.1 -9.68,-668.57 -18.87,-667.04 -27.12,-665.51 -34.01,-663.99 -39.19,-662.46 -42.41,-660.93 -43.5,-659.4 -28.5,-665.39 -27.79,-666.83 -25.68,-668.08 -22.28,-669.17 -17.77,-670.12 -12.37,-671 -6.34,-671.85 0,-672.8 6.34,-674.91 12.37,-677.12 17.77,-679.3 22.28,-681.39 25.68,-683.36 27.79,-685.17 28.5,-686.79" fill="url(#g44)"/>
<polyline points="43.5,-680.8 42.41,-679.27 39.19,-677.74 34.01,-676.21 27.12,-674.69 18.87,-673.16 9.68,-671.63 0,-670.1 -9.68,-668.57 -18.87,-667.04 -27.12,-665.51 -34.01,-663.99 -39.19,-662.46 -42.41,-660.93 -43.5,-659.4" fill="none" stroke="#f0f5f9" stroke-width="1.2"/>
<polygon points="43.5,-638 42.41,-636.47 39.19,-634.94 34.01,-633.41 27.12,-631.89 18.87,-630.36 9.68,-628.83 0,-627.3 -9.68,-625.77 -18.87,-624.24 -27.12,-622.71 -34.01,-621.19 -39.19,-619.66 -42.41,-618.13 -43.5,-616.6 -28.5,-608.9 -27.79,-610.55 -25.68,-612.43 -22.28,-614.53 -17.77,-616.79 -12.37,-619.15 -6.34,-621.55 0,-623.83 6.34,-624.61 12.37,-625.27 17.77,-625.96 22.28,-626.75 25.68,-627.72 27.79,-628.89 28.5,-630.3" fill="url(#g45)"/>
<polygon points="43.5,-638 42.41,-636.47 39.19,-634.94 34.01,-633.41 27.12,-631.89 18.87,-630.36 9.68,-628.83 0,-627.3 -9.68,-625.77 -18.87,-624.24 -27.12,-622.71 -34.01,-621.19 -39.19,-619.66 -42.41,-618.13 -43.5,-616.6 -28.5,-622.59 -27.79,-624.03 -25.68,-625.28 -22.28,-626.37 -17.77,-627.32 -12.37,-628.2 -6.34,-629.05 0,-630 6.34,-632.11 12.37,-634.32 17.77,-636.5 22.28,-638.59 25.68,-640.56 27.79,-642.37 28.5,-643.99" fill="url(#g44)"/>
<polyline points="43.5,-638 42.41,-636.47 39.19,-634.94 34.01,-633.41 27.12,-631.89 18.87,-630.36 9.68,-628.83 0,-627.3 -9.68,-625.77 -18.87,-624.24 -27.12,-622.71 -34.01,-621.19 -39.19,-619.66 -42.41,-618.13 -43.5,-616.6" fill="none" stroke="#f0f5f9" stroke-width="1.2"/>
<polygon points="43.5,-595.2 42.41,-593.67 39.19,-592.14 34.01,-590.61 27.12,-589.09 18.87,-587.56 9.68,-586.03 0,-584.5 -9.68,-582.97 -18.87,-581.44 -27.12,-579.91 -34.01,-578.39 -39.19,-576.86 -42.41,-575.33 -43.5,-573.8 -28.5,-566.1 -27.79,-567.75 -25.68,-569.63 -22.28,-571.73 -17.77,-573.99 -12.37,-576.35 -6.34,-578.75 0,-581.03 6.34,-581.81 12.37,-582.47 17.77,-583.16 22.28,-583.95 25.68,-584.92 27.79,-586.09 28.5,-587.5" fill="url(#g45)"/>
<polygon points="43.5,-595.2 42.41,-593.67 39.19,-592.14 34.01,-590.61 27.12,-589.09 18.87,-587.56 9.68,-586.03 0,-584.5 -9.68,-582.97 -18.87,-581.44 -27.12,-579.91 -34.01,-578.39 -39.19,-576.86 -42.41,-575.33 -43.5,-573.8 -28.5,-579.79 -27.79,-581.23 -25.68,-582.48 -22.28,-583.57 -17.77,-584.52 -12.37,-585.4 -6.34,-586.25 0,-587.2 6.34,-589.31 12.37,-591.52 17.77,-593.7 22.28,-595.79 25.68,-597.76 27.79,-599.57 28.5,-601.19" fill="url(#g44)"/>
<polyline points="43.5,-595.2 42.41,-593.67 39.19,-592.14 34.01,-590.61 27.12,-589.09 18.87,-587.56 9.68,-586.03 0,-584.5 -9.68,-582.97 -18.87,-581.44 -27.12,-579.91 -34.01,-578.39 -39.19,-576.86 -42.41,-575.33 -43.5,-573.8" fill="none" stroke="#f0f5f9" stroke-width="1.2"/>
<polygon points="43.5,-552.4 42.41,-550.87 39.19,-549.34 34.01,-547.81 27.12,-546.29 18.87,-544.76 9.68,-543.23 0,-541.7 -9.68,-540.17 -18.87,-538.64 -27.12,-537.11 -34.01,-535.59 -39.19,-534.06 -42.41,-532.53 -43.5,-531 -28.5,-523.3 -27.79,-524.95 -25.68,-526.83 -22.28,-528.93 -17.77,-531.19 -12.37,-533.55 -6.34,-535.95 0,-538.23 6.34,-539.01 12.37,-539.67 17.77,-540.36 22.28,-541.15 25.68,-542.12 27.79,-543.29 28.5,-544.7" fill="url(#g45)"/>
<polygon points="43.5,-552.4 42.41,-550.87 39.19,-549.34 34.01,-547.81 27.12,-546.29 18.87,-544.76 9.68,-543.23 0,-541.7 -9.68,-540.17 -18.87,-538.64 -27.12,-537.11 -34.01,-535.59 -39.19,-534.06 -42.41,-532.53 -43.5,-531 -28.5,-536.99 -27.79,-538.43 -25.68,-539.68 -22.28,-540.77 -17.77,-541.72 -12.37,-542.6 -6.34,-543.45 0,-544.4 6.34,-546.51 12.37,-548.72 17.77,-550.9 22.28,-552.99 25.68,-554.96 27.79,-556.77 28.5,-558.39" fill="url(#g44)"/>
<polyline points="43.5,-552.4 42.41,-550.87 39.19,-549.34 34.01,-547.81 27.12,-546.29 18.87,-544.76 9.68,-543.23 0,-541.7 -9.68,-540.17 -18.87,-538.64 -27.12,-537.11 -34.01,-535.59 -39.19,-534.06 -42.41,-532.53 -43.5,-531" fill="none" stroke="#f0f5f9" stroke-width="1.2"/>
<polygon points="43.5,-509.6 42.41,-508.07 39.19,-506.54 34.01,-505.01 27.12,-503.49 18.87,-501.96 9.68,-500.43 0,-498.9 -9.68,-497.37 -18.87,-495.84 -27.12,-494.31 -34.01,-492.79 -39.19,-491.26 -42.41,-489.73 -43.5,-488.2 -28.5,-480.5 -27.79,-482.15 -25.68,-484.03 -22.28,-486.13 -17.77,-488.39 -12.37,-490.75 -6.34,-493.15 0,-495.43 6.34,-496.21 12.37,-496.87 17.77,-497.56 22.28,-498.35 25.68,-499.32 27.79,-500.49 28.5,-501.9" fill="url(#g45)"/>
<polygon points="43.5,-509.6 42.41,-508.07 39.19,-506.54 34.01,-505.01 27.12,-503.49 18.87,-501.96 9.68,-500.43 0,-498.9 -9.68,-497.37 -18.87,-495.84 -27.12,-494.31 -34.01,-492.79 -39.19,-491.26 -42.41,-489.73 -43.5,-488.2 -28.5,-494.19 -27.79,-495.63 -25.68,-496.88 -22.28,-497.97 -17.77,-498.92 -12.37,-499.8 -6.34,-500.65 0,-501.6 6.34,-503.71 12.37,-505.92 17.77,-508.1 22.28,-510.19 25.68,-512.16 27.79,-513.97 28.5,-515.59" fill="url(#g44)"/>
<polyline points="43.5,-509.6 42.41,-508.07 39.19,-506.54 34.01,-505.01 27.12,-503.49 18.87,-501.96 9.68,-500.43 0,-498.9 -9.68,-497.37 -18.87,-495.84 -27.12,-494.31 -34.01,-492.79 -39.19,-491.26 -42.41,-489.73 -43.5,-488.2" fill="none" stroke="#f0f5f9" stroke-width="1.2"/>
<polygon points="43.5,-466.8 42.41,-465.27 39.19,-463.74 34.01,-462.21 27.12,-460.69 18.87,-459.16 9.68,-457.63 0,-456.1 -9.68,-454.57 -18.87,-453.04 -27.12,-451.51 -34.01,-449.99 -39.19,-448.46 -42.41,-446.93 -43.5,-445.4 -28.5,-437.7 -27.79,-439.35 -25.68,-441.23 -22.28,-443.33 -17.77,-445.59 -12.37,-447.95 -6.34,-450.35 0,-452.63 6.34,-453.41 12.37,-454.07 17.77,-454.76 22.28,-455.55 25.68,-456.52 27.79,-457.69 28.5,-459.1" fill="url(#g45)"/>
<polygon points="43.5,-466.8 42.41,-465.27 39.19,-463.74 34.01,-462.21 27.12,-460.69 18.87,-459.16 9.68,-457.63 0,-456.1 -9.68,-454.57 -18.87,-453.04 -27.12,-451.51 -34.01,-449.99 -39.19,-448.46 -42.41,-446.93 -43.5,-445.4 -28.5,-451.39 -27.79,-452.83 -25.68,-454.08 -22.28,-455.17 -17.77,-456.12 -12.37,-457 -6.34,-457.85 0,-458.8 6.34,-460.91 12.37,-463.12 17.77,-465.3 22.28,-467.39 25.68,-469.36 27.79,-471.17 28.5,-472.79" fill="url(#g44)"/>
<polyline points="43.5,-466.8 42.41,-465.27 39.19,-463.74 34.01,-462.21 27.12,-460.69 18.87,-459.16 9.68,-457.63 0,-456.1 -9.68,-454.57 -18.87,-453.04 -27.12,-451.51 -34.01,-449.99 -39.19,-448.46 -42.41,-446.93 -43.5,-445.4" fill="none" stroke="#f0f5f9" stroke-width="1.2"/>
<polygon points="43.5,-424 42.41,-422.47 39.19,-420.94 34.01,-419.41 27.12,-417.89 18.87,-416.36 9.68,-414.83 0,-413.3 -9.68,-411.77 -18.87,-410.24 -27.12,-408.71 -34.01,-407.19 -39.19,-405.66 -42.41,-404.13 -43.5,-402.6 -28.5,-394.9 -27.79,-396.55 -25.68,-398.43 -22.28,-400.53 -17.77,-402.79 -12.37,-405.15 -6.34,-407.55 0,-409.83 6.34,-410.61 12.37,-411.27 17.77,-411.96 22.28,-412.75 25.68,-413.72 27.79,-414.89 28.5,-416.3" fill="url(#g45)"/>
<polygon points="43.5,-424 42.41,-422.47 39.19,-420.94 34.01,-419.41 27.12,-417.89 18.87,-416.36 9.68,-414.83 0,-413.3 -9.68,-411.77 -18.87,-410.24 -27.12,-408.71 -34.01,-407.19 -39.19,-405.66 -42.41,-404.13 -43.5,-402.6 -28.5,-408.59 -27.79,-410.03 -25.68,-411.28 -22.28,-412.37 -17.77,-413.32 -12.37,-414.2 -6.34,-415.05 0,-416 6.34,-418.11 12.37,-420.32 17.77,-422.5 22.28,-424.59 25.68,-426.56 27.79,-428.37 28.5,-429.99" fill="url(#g44)"/>
<polyline points="43.5,-424 42.41,-422.47 39.19,-420.94 34.01,-419.41 27.12,-417.89 18.87,-416.36 9.68,-414.83 0,-413.3 -9.68,-411.77 -18.87,-410.24 -27.12,-408.71 -34.01,-407.19 -39.19,-405.66 -42.41,-404.13 -43.5,-402.6" fill="none" stroke="#f0f5f9" stroke-width="1.2"/>
<polygon points="43.5,-381.2 42.41,-379.67 39.19,-378.14 34.01,-376.61 27.12,-375.09 18.87,-373.56 9.68,-372.03 0,-370.5 -9.68,-368.97 -18.87,-367.44 -27.12,-365.91 -34.01,-364.39 -39.19,-362.86 -42.41,-361.33 -43.5,-359.8 -28.5,-352.1 -27.79,-353.75 -25.68,-355.63 -22.28,-357.73 -17.77,-359.99 -12.37,-362.35 -6.34,-364.75 0,-367.03 6.34,-367.81 12.37,-368.47 17.77,-369.16 22.28,-369.95 25.68,-370.92 27.79,-372.09 28.5,-373.5" fill="url(#g45)"/>
<polygon points="43.5,-381.2 42.41,-379.67 39.19,-378.14 34.01,-376.61 27.12,-375.09 18.87,-373.56 9.68,-372.03 0,-370.5 -9.68,-368.97 -18.87,-367.44 -27.12,-365.91 -34.01,-364.39 -39.19,-362.86 -42.41,-361.33 -43.5,-359.8 -28.5,-365.79 -27.79,-367.23 -25.68,-368.48 -22.28,-369.57 -17.77,-370.52 -12.37,-371.4 -6.34,-372.25 0,-373.2 6.34,-375.31 12.37,-377.52 17.77,-379.7 22.28,-381.79 25.68,-383.76 27.79,-385.57 28.5,-387.19" fill="url(#g44)"/>
<polyline points="43.5,-381.2 42.41,-379.67 39.19,-378.14 34.01,-376.61 27.12,-375.09 18.87,-373.56 9.68,-372.03 0,-370.5 -9.68,-368.97 -18.87,-367.44 -27.12,-365.91 -34.01,-364.39 -39.19,-362.86 -42.41,-361.33 -43.5,-359.8" fill="none" stroke="#f0f5f9" stroke-width="1.2"/>
<polygon points="43.5,-338.4 42.41,-336.87 39.19,-335.34 34.01,-333.81 27.12,-332.29 18.87,-330.76 9.68,-329.23 0,-327.7 -9.68,-326.17 -18.87,-324.64 -27.12,-323.11 -34.01,-321.59 -39.19,-320.06 -42.41,-318.53 -43.5,-317 -28.5,-309.3 -27.79,-310.95 -25.68,-312.83 -22.28,-314.93 -17.77,-317.19 -12.37,-319.55 -6.34,-321.95 0,-324.23 6.34,-325.01 12.37,-325.67 17.77,-326.36 22.28,-327.15 25.68,-328.12 27.79,-329.29 28.5,-330.7" fill="url(#g45)"/>
<polygon points="43.5,-338.4 42.41,-336.87 39.19,-335.34 34.01,-333.81 27.12,-332.29 18.87,-330.76 9.68,-329.23 0,-327.7 -9.68,-326.17 -18.87,-324.64 -27.12,-323.11 -34.01,-321.59 -39.19,-320.06 -42.41,-318.53 -43.5,-317 -28.5,-322.99 -27.79,-324.43 -25.68,-325.68 -22.28,-326.77 -17.77,-327.72 -12.37,-328.6 -6.34,-329.45 0,-330.4 6.34,-332.51 12.37,-334.72 17.77,-336.9 22.28,-338.99 25.68,-340.96 27.79,-342.77 28.5,-344.39" fill="url(#g44)"/>
<polyline points="43.5,-338.4 42.41,-336.87 39.19,-335.34 34.01,-333.81 27.12,-332.29 18.87,-330.76 9.68,-329.23 0,-327.7 -9.68,-326.17 -18.87,-324.64 -27.12,-323.11 -34.01,-321.59 -39.19,-320.06 -42.41,-318.53 -43.5,-317" fill="none" stroke="#f0f5f9" stroke-width="1.2"/>
<polygon points="43.5,-295.6 42.41,-294.07 39.19,-292.54 34.01,-291.01 27.12,-289.49 18.87,-287.96 9.68,-286.43 0,-284.9 -9.68,-283.37 -18.87,-281.84 -27.12,-280.31 -34.01,-278.79 -39.19,-277.26 -42.41,-275.73 -43.5,-274.2 -28.5,-266.5 -27.79,-268.15 -25.68,-270.03 -22.28,-272.13 -17.77,-274.39 -12.37,-276.75 -6.34,-279.15 0,-281.43 6.34,-282.21 12.37,-282.87 17.77,-283.56 22.28,-284.35 25.68,-285.32 27.79,-286.49 28.5,-287.9" fill="url(#g45)"/>
<polygon points="43.5,-295.6 42.41,-294.07 39.19,-292.54 34.01,-291.01 27.12,-289.49 18.87,-287.96 9.68,-286.43 0,-284.9 -9.68,-283.37 -18.87,-281.84 -27.12,-280.31 -34.01,-278.79 -39.19,-277.26 -42.41,-275.73 -43.5,-274.2 -28.5,-280.19 -27.79,-281.63 -25.68,-282.88 -22.28,-283.97 -17.77,-284.92 -12.37,-285.8 -6.34,-286.65 0,-287.6 6.34,-289.71 12.37,-291.92 17.77,-294.1 22.28,-296.19 25.68,-298.16 27.79,-299.97 28.5,-301.59" fill="url(#g44)"/>
<polyline points="43.5,-295.6 42.41,-294.07 39.19,-292.54 34.01,-291.01 27.12,-289.49 18.87,-287.96 9.68,-286.43 0,-284.9 -9.68,-283.37 -18.87,-281.84 -27.12,-280.31 -34.01,-278.79 -39.19,-277.26 -42.41,-275.73 -43.5,-274.2" fill="none" stroke="#f0f5f9" stroke-width="1.2"/>
</g>
<line x1="206.4" y1="814.5" x2="206.4" y2="1144" stroke="#0a0a0a" stroke-width="2.7"/>
<circle cx="206.4" cy="814.5" r="5.5" fill="#0a0a0a"/>
<circle cx="206.4" cy="1144" r="5.5" fill="#0a0a0a"/>
<line x1="450" y1="730" x2="450" y2="1144" stroke="#0a0a0a" stroke-width="2.7"/>
<circle cx="450" cy="730" r="5.5" fill="#0a0a0a"/>
<circle cx="450" cy="1144" r="5.5" fill="#0a0a0a"/>
<line x1="693.6" y1="585" x2="693.6" y2="1144" stroke="#0a0a0a" stroke-width="2.7"/>
<circle cx="693.6" cy="585" r="5.5" fill="#0a0a0a"/>
<circle cx="693.6" cy="1144" r="5.5" fill="#0a0a0a"/>
<line x1="925.5" y1="515" x2="925.5" y2="1144" stroke="#0a0a0a" stroke-width="2.7"/>
<circle cx="925.5" cy="515" r="5.5" fill="#0a0a0a"/>
<circle cx="925.5" cy="1144" r="5.5" fill="#0a0a0a"/>
<line x1="1158.6" y1="433" x2="1158.6" y2="1144" stroke="#0a0a0a" stroke-width="2.7"/>
<circle cx="1158.6" cy="433" r="5.5" fill="#0a0a0a"/>
<circle cx="1158.6" cy="1144" r="5.5" fill="#0a0a0a"/>
<line x1="1404.2" y1="237" x2="1404.2" y2="1144" stroke="#0a0a0a" stroke-width="2.7"/>
<circle cx="1404.2" cy="237" r="5.5" fill="#0a0a0a"/>
<circle cx="1404.2" cy="1144" r="5.5" fill="#0a0a0a"/>
<line x1="50.2" y1="1182" x2="186.4" y2="1182" stroke="#0a0a0a" stroke-width="2.7"/>
<circle cx="50.2" cy="1182" r="5.5" fill="#0a0a0a"/>
<circle cx="186.4" cy="1182" r="5.5" fill="#0a0a0a"/>
<line x1="297" y1="1182" x2="433" y2="1182" stroke="#0a0a0a" stroke-width="2.7"/>
<circle cx="297" cy="1182" r="5.5" fill="#0a0a0a"/>
<circle cx="433" cy="1182" r="5.5" fill="#0a0a0a"/>
<line x1="538" y1="1182" x2="678.6" y2="1182" stroke="#0a0a0a" stroke-width="2.7"/>
<circle cx="538" cy="1182" r="5.5" fill="#0a0a0a"/>
<circle cx="678.6" cy="1182" r="5.5" fill="#0a0a0a"/>
<line x1="772" y1="1182" x2="916.6" y2="1182" stroke="#0a0a0a" stroke-width="2.7"/>
<circle cx="772" cy="1182" r="5.5" fill="#0a0a0a"/>
<circle cx="916.6" cy="1182" r="5.5" fill="#0a0a0a"/>
<line x1="1000" y1="1182" x2="1140" y2="1182" stroke="#0a0a0a" stroke-width="2.7"/>
<circle cx="1000" cy="1182" r="5.5" fill="#0a0a0a"/>
<circle cx="1140" cy="1182" r="5.5" fill="#0a0a0a"/>
<line x1="1220.6" y1="1182" x2="1388.6" y2="1182" stroke="#0a0a0a" stroke-width="2.7"/>
<circle cx="1220.6" cy="1182" r="5.5" fill="#0a0a0a"/>
<circle cx="1388.6" cy="1182" r="5.5" fill="#0a0a0a"/>
<g transform="translate(219,0) rotate(90)">
<text transform="translate(835.5,-0.9) scale(0.7315,1)" font-family='"Liberation Sans", sans-serif' font-size="86.41" font-weight="normal" fill="#000" stroke="#000" stroke-width="1.8" stroke-linejoin="round">20</text>
<text transform="translate(925.33,0.4) scale(0.7492,1)" font-family='"Liberation Sans", sans-serif' font-size="67.55" font-weight="normal" fill="#000" stroke="#fff" stroke-width="0.8">mm</text>
<text transform="translate(1025.87,0.2) scale(0.8435,1)" font-family='"Liberation Sans", sans-serif' font-size="65.89" font-weight="bold" fill="#ecaf50" stroke="#ecaf50" stroke-width="2.6" stroke-linejoin="round">0.8&quot;</text>
</g>
<g transform="translate(461,0) rotate(90)">
<text transform="translate(829.51,-0.9) scale(0.7283,1)" font-family='"Liberation Sans", sans-serif' font-size="86.41" font-weight="normal" fill="#000" stroke="#000" stroke-width="1.8" stroke-linejoin="round">25</text>
<text transform="translate(920.37,0.4) scale(0.7395,1)" font-family='"Liberation Sans", sans-serif' font-size="67.55" font-weight="normal" fill="#000" stroke="#fff" stroke-width="0.8">mm</text>
<text transform="translate(1022.15,-1.3) scale(0.6440,1)" font-family='"Liberation Sans", sans-serif' font-size="65.89" font-weight="bold" fill="#ecaf50" stroke="#ecaf50" stroke-width="2.6" stroke-linejoin="round">1&quot;</text>
</g>
<g transform="translate(708,0) rotate(90)">
<text transform="translate(721.26,-0.9) scale(0.7660,1)" font-family='"Liberation Sans", sans-serif' font-size="86.41" font-weight="normal" fill="#000" stroke="#000" stroke-width="1.8" stroke-linejoin="round">30</text>
<text transform="translate(813.3,1.7) scale(0.7541,1)" font-family='"Liberation Sans", sans-serif' font-size="67.55" font-weight="normal" fill="#000" stroke="#fff" stroke-width="0.8">mm</text>
<text transform="translate(925.83,3.7) scale(0.7563,1)" font-family='"Liberation Sans", sans-serif' font-size="65.89" font-weight="bold" fill="#ecaf50" stroke="#ecaf50" stroke-width="2.6" stroke-linejoin="round">1.2&quot;</text>
</g>
<g transform="translate(938,0) rotate(90)">
<text transform="translate(686.31,-0.9) scale(0.7465,1)" font-family='"Liberation Sans", sans-serif' font-size="86.41" font-weight="normal" fill="#000" stroke="#000" stroke-width="1.8" stroke-linejoin="round">35</text>
<text transform="translate(779.37,0.4) scale(0.7395,1)" font-family='"Liberation Sans", sans-serif' font-size="67.55" font-weight="normal" fill="#000" stroke="#fff" stroke-width="0.8">mm</text>
<text transform="translate(875.28,-1.3) scale(0.7743,1)" font-family='"Liberation Sans", sans-serif' font-size="65.89" font-weight="bold" fill="#ecaf50" stroke="#ecaf50" stroke-width="2.6" stroke-linejoin="round">1.37&quot;</text>
</g>
<g transform="translate(1171,0) rotate(90)">
<text transform="translate(645.13,-0.9) scale(0.7781,1)" font-family='"Liberation Sans", sans-serif' font-size="86.41" font-weight="normal" fill="#000" stroke="#000" stroke-width="1.8" stroke-linejoin="round">40</text>
<text transform="translate(736.33,0.4) scale(0.7492,1)" font-family='"Liberation Sans", sans-serif' font-size="67.55" font-weight="normal" fill="#000" stroke="#fff" stroke-width="0.8">mm</text>
<text transform="translate(838.8,-1.3) scale(0.7645,1)" font-family='"Liberation Sans", sans-serif' font-size="65.89" font-weight="bold" fill="#ecaf50" stroke="#ecaf50" stroke-width="2.6" stroke-linejoin="round">1.57&quot;</text>
</g>
<g transform="translate(1417,0) rotate(90)">
<text transform="translate(560.15,-0.9) scale(0.7245,1)" font-family='"Liberation Sans", sans-serif' font-size="86.41" font-weight="normal" fill="#000" stroke="#000" stroke-width="1.8" stroke-linejoin="round">50</text>
<text transform="translate(650.37,0.4) scale(0.7395,1)" font-family='"Liberation Sans", sans-serif' font-size="67.55" font-weight="normal" fill="#000" stroke="#fff" stroke-width="0.8">mm</text>
<text transform="translate(752.76,-0.3) scale(0.7808,1)" font-family='"Liberation Sans", sans-serif' font-size="65.89" font-weight="bold" fill="#ecaf50" stroke="#ecaf50" stroke-width="2.6" stroke-linejoin="round">1.96&quot;</text>
</g>
<text transform="translate(71.94,1258.2) scale(0.8399,1)" font-family='"Liberation Sans", sans-serif' font-size="67.89" font-weight="normal" fill="#000" stroke="#000" stroke-width="2.2" stroke-linejoin="round">0.3&quot;</text>
<text transform="translate(317.13,1258.2) scale(0.8469,1)" font-family='"Liberation Sans", sans-serif' font-size="67.89" font-weight="normal" fill="#000" stroke="#000" stroke-width="2.2" stroke-linejoin="round">0.3&quot;</text>
<text transform="translate(543.62,1258.2) scale(0.8534,1)" font-family='"Liberation Sans", sans-serif' font-size="67.89" font-weight="normal" fill="#000" stroke="#000" stroke-width="2.2" stroke-linejoin="round">0.33&quot;</text>
<text transform="translate(788.66,1258.2) scale(0.8305,1)" font-family='"Liberation Sans", sans-serif' font-size="67.89" font-weight="normal" fill="#000" stroke="#000" stroke-width="2.2" stroke-linejoin="round">0.32&quot;</text>
<text transform="translate(1018.64,1258.2) scale(0.8425,1)" font-family='"Liberation Sans", sans-serif' font-size="67.89" font-weight="normal" fill="#000" stroke="#000" stroke-width="2.2" stroke-linejoin="round">0.3&quot;</text>
<text transform="translate(1242.18,1258.2) scale(0.8141,1)" font-family='"Liberation Sans", sans-serif' font-size="67.89" font-weight="normal" fill="#000" stroke="#000" stroke-width="2.2" stroke-linejoin="round">0.37&quot;</text>
<rect x="16.7" y="1277.3" width="202.6" height="99.4" rx="49.7" fill="#f0d098"/>
<text transform="translate(29.08,1347.8) scale(0.7114,1)" font-family='"Liberation Sans", sans-serif' font-size="66.03" font-weight="bold" fill="#0a0a0a" stroke="#0a0a0a" stroke-width="1" stroke-linejoin="round">150</text>
<text transform="translate(121.52,1349) scale(0.5327,1)" font-family='"Liberation Sans", sans-serif' font-size="69.9" font-weight="normal" fill="#0a0a0a" stroke="#f0d098" stroke-width="1.4">PCS</text>
<rect x="263.3" y="1277.3" width="201.7" height="99.4" rx="49.7" fill="#f0d098"/>
<text transform="translate(287.94,1347.8) scale(0.7995,1)" font-family='"Liberation Sans", sans-serif' font-size="66.03" font-weight="bold" fill="#0a0a0a" stroke="#0a0a0a" stroke-width="1" stroke-linejoin="round">90</text>
<text transform="translate(359.79,1349) scale(0.5380,1)" font-family='"Liberation Sans", sans-serif' font-size="69.9" font-weight="normal" fill="#0a0a0a" stroke="#f0d098" stroke-width="1.4">PCS</text>
<rect x="503.3" y="1277.3" width="203.4" height="99.4" rx="49.7" fill="#f0d098"/>
<text transform="translate(531.45,1347.8) scale(0.7825,1)" font-family='"Liberation Sans", sans-serif' font-size="66.03" font-weight="bold" fill="#0a0a0a" stroke="#0a0a0a" stroke-width="1" stroke-linejoin="round">72</text>
<text transform="translate(601.49,1349) scale(0.5380,1)" font-family='"Liberation Sans", sans-serif' font-size="69.9" font-weight="normal" fill="#0a0a0a" stroke="#f0d098" stroke-width="1.4">PCS</text>
<rect x="743.3" y="1277.3" width="201.7" height="99.4" rx="49.7" fill="#f0d098"/>
<text transform="translate(766.78,1347.8) scale(0.7919,1)" font-family='"Liberation Sans", sans-serif' font-size="66.03" font-weight="bold" fill="#0a0a0a" stroke="#0a0a0a" stroke-width="1" stroke-linejoin="round">60</text>
<text transform="translate(838.19,1349) scale(0.5372,1)" font-family='"Liberation Sans", sans-serif' font-size="69.9" font-weight="normal" fill="#0a0a0a" stroke="#f0d098" stroke-width="1.4">PCS</text>
<rect x="975" y="1277.3" width="203.3" height="99.4" rx="49.7" fill="#f0d098"/>
<text transform="translate(999.7,1347.8) scale(0.7913,1)" font-family='"Liberation Sans", sans-serif' font-size="66.03" font-weight="bold" fill="#0a0a0a" stroke="#0a0a0a" stroke-width="1" stroke-linejoin="round">48</text>
<text transform="translate(1072.46,1349) scale(0.5425,1)" font-family='"Liberation Sans", sans-serif' font-size="69.9" font-weight="normal" fill="#0a0a0a" stroke="#f0d098" stroke-width="1.4">PCS</text>
<rect x="1208.3" y="1277.3" width="201.7" height="99.4" rx="49.7" fill="#f0d098"/>
<text transform="translate(1234.14,1347.8) scale(0.8264,1)" font-family='"Liberation Sans", sans-serif' font-size="66.03" font-weight="bold" fill="#0a0a0a" stroke="#0a0a0a" stroke-width="1" stroke-linejoin="round">36</text>
<text transform="translate(1308.19,1349) scale(0.5372,1)" font-family='"Liberation Sans", sans-serif' font-size="69.9" font-weight="normal" fill="#0a0a0a" stroke="#f0d098" stroke-width="1.4">PCS</text>
</svg>
</body></html>
